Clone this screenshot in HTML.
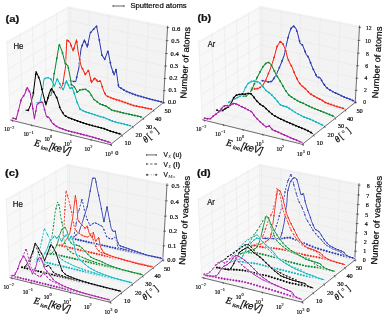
<!DOCTYPE html>
<html><head><meta charset="utf-8"><style>html,body{margin:0;padding:0;background:#fff;}svg{display:block;will-change:transform;} .b3{fill:#000;stroke:#000;stroke-width:0.2px;} .b2{fill:#111;stroke:#111;stroke-width:0.22px;} .t1{fill:#111;stroke:#111;stroke-width:0.12px;} .t0{fill:#222;} .t2{fill:#000;stroke:#000;stroke-width:0.2px;}</style></head>
<body>
<svg width="385" height="317" viewBox="0 0 385 317">
<rect width="385" height="317" fill="#fff"/>
<polygon points="10.31,120.02 68.55,81.33 68.04,6.17 6.68,40.80" fill="#f8f8f8"/>
<polygon points="68.55,81.33 163.38,102.70 167.65,25.79 68.04,6.17" fill="#f3f3f3"/>
<polygon points="10.31,120.02 110.48,144.61 163.38,102.70 68.55,81.33" fill="#f5f5f5"/>
<line x1="12.50" y1="120.56" x2="70.63" y2="81.80" stroke="#e8e8e8" stroke-width="0.6" />
<line x1="70.63" y1="81.80" x2="70.22" y2="6.60" stroke="#e8e8e8" stroke-width="0.6" />
<line x1="31.69" y1="125.27" x2="88.84" y2="85.90" stroke="#e8e8e8" stroke-width="0.6" />
<line x1="88.84" y1="85.90" x2="89.32" y2="10.37" stroke="#e8e8e8" stroke-width="0.6" />
<line x1="51.17" y1="130.05" x2="107.30" y2="90.06" stroke="#e8e8e8" stroke-width="0.6" />
<line x1="107.30" y1="90.06" x2="108.70" y2="14.18" stroke="#e8e8e8" stroke-width="0.6" />
<line x1="70.94" y1="134.90" x2="126.01" y2="94.28" stroke="#e8e8e8" stroke-width="0.6" />
<line x1="126.01" y1="94.28" x2="128.36" y2="18.05" stroke="#e8e8e8" stroke-width="0.6" />
<line x1="91.02" y1="139.83" x2="144.99" y2="98.56" stroke="#e8e8e8" stroke-width="0.6" />
<line x1="144.99" y1="98.56" x2="148.31" y2="21.98" stroke="#e8e8e8" stroke-width="0.6" />
<line x1="10.31" y1="120.02" x2="110.48" y2="144.61" stroke="#e8e8e8" stroke-width="0.6" />
<line x1="10.31" y1="120.02" x2="6.68" y2="40.80" stroke="#e8e8e8" stroke-width="0.6" />
<line x1="22.66" y1="111.81" x2="121.73" y2="135.70" stroke="#e8e8e8" stroke-width="0.6" />
<line x1="22.66" y1="111.81" x2="19.74" y2="33.43" stroke="#e8e8e8" stroke-width="0.6" />
<line x1="34.65" y1="103.85" x2="132.62" y2="127.07" stroke="#e8e8e8" stroke-width="0.6" />
<line x1="34.65" y1="103.85" x2="32.38" y2="26.30" stroke="#e8e8e8" stroke-width="0.6" />
<line x1="46.28" y1="96.12" x2="143.19" y2="118.70" stroke="#e8e8e8" stroke-width="0.6" />
<line x1="46.28" y1="96.12" x2="44.64" y2="19.38" stroke="#e8e8e8" stroke-width="0.6" />
<line x1="57.58" y1="88.62" x2="153.44" y2="110.58" stroke="#e8e8e8" stroke-width="0.6" />
<line x1="57.58" y1="88.62" x2="56.52" y2="12.68" stroke="#e8e8e8" stroke-width="0.6" />
<line x1="68.55" y1="81.33" x2="163.38" y2="102.70" stroke="#e8e8e8" stroke-width="0.6" />
<line x1="68.55" y1="81.33" x2="68.04" y2="6.17" stroke="#e8e8e8" stroke-width="0.6" />
<line x1="10.31" y1="120.02" x2="68.55" y2="81.33" stroke="#e8e8e8" stroke-width="0.6" />
<line x1="68.55" y1="81.33" x2="163.38" y2="102.70" stroke="#e8e8e8" stroke-width="0.6" />
<line x1="9.74" y1="107.67" x2="68.47" y2="69.58" stroke="#e8e8e8" stroke-width="0.6" />
<line x1="68.47" y1="69.58" x2="164.05" y2="90.69" stroke="#e8e8e8" stroke-width="0.6" />
<line x1="9.17" y1="95.12" x2="68.39" y2="57.64" stroke="#e8e8e8" stroke-width="0.6" />
<line x1="68.39" y1="57.64" x2="164.72" y2="78.49" stroke="#e8e8e8" stroke-width="0.6" />
<line x1="8.58" y1="82.35" x2="68.31" y2="45.52" stroke="#e8e8e8" stroke-width="0.6" />
<line x1="68.31" y1="45.52" x2="165.41" y2="66.10" stroke="#e8e8e8" stroke-width="0.6" />
<line x1="7.99" y1="69.37" x2="68.22" y2="33.22" stroke="#e8e8e8" stroke-width="0.6" />
<line x1="68.22" y1="33.22" x2="166.11" y2="53.50" stroke="#e8e8e8" stroke-width="0.6" />
<line x1="7.39" y1="56.17" x2="68.14" y2="20.71" stroke="#e8e8e8" stroke-width="0.6" />
<line x1="68.14" y1="20.71" x2="166.82" y2="40.69" stroke="#e8e8e8" stroke-width="0.6" />
<line x1="6.77" y1="42.75" x2="68.05" y2="8.01" stroke="#e8e8e8" stroke-width="0.6" />
<line x1="68.05" y1="8.01" x2="167.55" y2="27.68" stroke="#e8e8e8" stroke-width="0.6" />
<line x1="10.31" y1="120.02" x2="110.48" y2="144.61" stroke="#333" stroke-width="0.7" />
<line x1="110.48" y1="144.61" x2="163.38" y2="102.70" stroke="#333" stroke-width="0.7" />
<line x1="163.38" y1="102.70" x2="167.65" y2="25.79" stroke="#333" stroke-width="0.7" />
<line x1="12.20" y1="119.76" x2="12.80" y2="121.76" stroke="#333" stroke-width="0.7" />
<line x1="31.39" y1="124.47" x2="31.99" y2="126.47" stroke="#333" stroke-width="0.7" />
<line x1="50.87" y1="129.25" x2="51.47" y2="131.25" stroke="#333" stroke-width="0.7" />
<line x1="70.64" y1="134.10" x2="71.24" y2="136.10" stroke="#333" stroke-width="0.7" />
<line x1="90.72" y1="139.03" x2="91.32" y2="141.03" stroke="#333" stroke-width="0.7" />
<line x1="111.10" y1="144.04" x2="111.70" y2="146.04" stroke="#333" stroke-width="0.7" />
<line x1="110.28" y1="143.61" x2="111.08" y2="145.81" stroke="#333" stroke-width="0.7" />
<line x1="121.53" y1="134.70" x2="122.33" y2="136.90" stroke="#333" stroke-width="0.7" />
<line x1="132.42" y1="126.07" x2="133.22" y2="128.27" stroke="#333" stroke-width="0.7" />
<line x1="142.99" y1="117.70" x2="143.79" y2="119.90" stroke="#333" stroke-width="0.7" />
<line x1="153.24" y1="109.58" x2="154.04" y2="111.78" stroke="#333" stroke-width="0.7" />
<line x1="163.18" y1="101.70" x2="163.98" y2="103.90" stroke="#333" stroke-width="0.7" />
<line x1="162.38" y1="102.80" x2="164.98" y2="102.60" stroke="#333" stroke-width="0.7" />
<line x1="163.05" y1="90.79" x2="165.65" y2="90.59" stroke="#333" stroke-width="0.7" />
<line x1="163.72" y1="78.59" x2="166.32" y2="78.39" stroke="#333" stroke-width="0.7" />
<line x1="164.41" y1="66.20" x2="167.01" y2="66.00" stroke="#333" stroke-width="0.7" />
<line x1="165.11" y1="53.60" x2="167.71" y2="53.40" stroke="#333" stroke-width="0.7" />
<line x1="165.82" y1="40.79" x2="168.42" y2="40.59" stroke="#333" stroke-width="0.7" />
<line x1="166.55" y1="27.78" x2="169.15" y2="27.58" stroke="#333" stroke-width="0.7" />
<text x="4.20" y="131.40" font-family="Liberation Serif" font-size="6.6" class="t2" textLength="5.4" lengthAdjust="spacingAndGlyphs">10</text>
<text x="9.80" y="128.60" font-family="Liberation Serif" font-size="4.4" class="t1">−2</text>
<text x="23.40" y="136.40" font-family="Liberation Serif" font-size="6.6" class="t2" textLength="5.4" lengthAdjust="spacingAndGlyphs">10</text>
<text x="29.00" y="133.60" font-family="Liberation Serif" font-size="4.4" class="t1">−1</text>
<text x="44.40" y="141.10" font-family="Liberation Serif" font-size="6.6" class="t2" textLength="5.4" lengthAdjust="spacingAndGlyphs">10</text>
<text x="50.00" y="138.30" font-family="Liberation Serif" font-size="4.4" class="t1">0</text>
<text x="64.20" y="146.10" font-family="Liberation Serif" font-size="6.6" class="t2" textLength="5.4" lengthAdjust="spacingAndGlyphs">10</text>
<text x="69.80" y="143.30" font-family="Liberation Serif" font-size="4.4" class="t1">1</text>
<text x="84.60" y="151.10" font-family="Liberation Serif" font-size="6.6" class="t2" textLength="5.4" lengthAdjust="spacingAndGlyphs">10</text>
<text x="90.20" y="148.30" font-family="Liberation Serif" font-size="4.4" class="t1">2</text>
<text x="105.20" y="156.40" font-family="Liberation Serif" font-size="6.6" class="t2" textLength="5.4" lengthAdjust="spacingAndGlyphs">10</text>
<text x="110.80" y="153.60" font-family="Liberation Serif" font-size="4.4" class="t1">3</text>
<text x="115.20" y="154.90" font-family="Liberation Serif" font-size="6.8" class="t2" textLength="3.2" lengthAdjust="spacingAndGlyphs">0</text>
<text x="124.60" y="145.30" font-family="Liberation Serif" font-size="6.8" class="t2" textLength="6.4" lengthAdjust="spacingAndGlyphs">10</text>
<text x="135.60" y="137.40" font-family="Liberation Serif" font-size="6.8" class="t2" textLength="6.4" lengthAdjust="spacingAndGlyphs">20</text>
<text x="145.90" y="128.70" font-family="Liberation Serif" font-size="6.8" class="t2" textLength="6.4" lengthAdjust="spacingAndGlyphs">30</text>
<text x="155.00" y="120.80" font-family="Liberation Serif" font-size="6.8" class="t2" textLength="6.4" lengthAdjust="spacingAndGlyphs">40</text>
<text x="164.50" y="112.90" font-family="Liberation Serif" font-size="6.8" class="t2" textLength="6.4" lengthAdjust="spacingAndGlyphs">50</text>
<text x="171.98" y="104.10" text-anchor="middle" font-family="Liberation Serif" font-size="6.8" class="t2" textLength="8.2" lengthAdjust="spacingAndGlyphs">0.0</text>
<text x="172.65" y="92.36" text-anchor="middle" font-family="Liberation Serif" font-size="6.8" class="t2" textLength="8.2" lengthAdjust="spacingAndGlyphs">0.1</text>
<text x="173.32" y="80.43" text-anchor="middle" font-family="Liberation Serif" font-size="6.8" class="t2" textLength="8.2" lengthAdjust="spacingAndGlyphs">0.2</text>
<text x="174.01" y="68.30" text-anchor="middle" font-family="Liberation Serif" font-size="6.8" class="t2" textLength="8.2" lengthAdjust="spacingAndGlyphs">0.3</text>
<text x="174.71" y="55.97" text-anchor="middle" font-family="Liberation Serif" font-size="6.8" class="t2" textLength="8.2" lengthAdjust="spacingAndGlyphs">0.4</text>
<text x="175.42" y="43.43" text-anchor="middle" font-family="Liberation Serif" font-size="6.8" class="t2" textLength="8.2" lengthAdjust="spacingAndGlyphs">0.5</text>
<text x="176.15" y="30.68" text-anchor="middle" font-family="Liberation Serif" font-size="6.8" class="t2" textLength="8.2" lengthAdjust="spacingAndGlyphs">0.6</text>
<g transform="translate(33.80,145.60) rotate(13.8)"><text x="0" y="0" font-family="Liberation Serif" font-style="italic" font-size="9.6" class="b3">E</text><text x="7.4" y="1.6" font-family="Liberation Serif" font-style="italic" font-size="5.6" class="b2">ion</text><text x="15.6" y="0" font-family="Liberation Sans" font-style="italic" font-size="9.8" class="b3" textLength="21.6" lengthAdjust="spacingAndGlyphs">[keV]</text></g>
<g transform="translate(145.70,143.20) rotate(-39)"><text x="0" y="0" font-family="Liberation Serif" font-style="italic" font-size="9" class="t2">θ</text><text x="5.4" y="-0.4" font-family="Liberation Sans" font-size="9" class="t1">[</text><circle cx="11.4" cy="-5.2" r="1.05" fill="none" stroke="#222" stroke-width="0.6"/><text x="15.2" y="-0.4" font-family="Liberation Sans" font-size="9" class="t1">]</text></g>
<g transform="translate(188.20,62.90) rotate(-86.8)"><text x="0" y="0" text-anchor="middle" font-family="Liberation Sans" font-size="8.8" class="b3" textLength="72" lengthAdjust="spacingAndGlyphs">Number of atoms</text></g>
<text x="5.50" y="21.60" font-family="Liberation Sans" font-weight="bold" font-size="9.4" class="b2" textLength="13.8" lengthAdjust="spacingAndGlyphs">(a)</text>
<text x="13.40" y="49.00" font-family="Liberation Sans" font-size="8.4" class="b2" textLength="10.0" lengthAdjust="spacingAndGlyphs">He</text>
<polyline points="69.50,80.50 72.60,81.30 75.80,81.50 77.30,74.30 78.90,68.00 81.00,48.90 84.30,39.70 87.30,47.30 90.20,33.00 93.20,29.70 96.50,26.00 99.30,40.00 101.90,55.10 104.70,59.30 108.00,50.90 111.00,66.00 114.10,75.20 116.10,69.30 118.60,86.70 122.80,89.20 125.30,90.90 129.40,92.60 136.10,95.10 144.50,97.60 152.90,99.80 162.70,102.20" fill="none" stroke="#fff" stroke-opacity="0.55" stroke-width="2.85" stroke-linejoin="round"/>
<polyline points="69.50,80.50 72.60,81.30 75.80,81.50 77.30,74.30 78.90,68.00 81.00,48.90 84.30,39.70 87.30,47.30 90.20,33.00 93.20,29.70 96.50,26.00 99.30,40.00 101.90,55.10 104.70,59.30 108.00,50.90 111.00,66.00 114.10,75.20 116.10,69.30 118.60,86.70 122.80,89.20 125.30,90.90 129.40,92.60 136.10,95.10 144.50,97.60 152.90,99.80 162.70,102.20" fill="none" stroke="#2c3cae" stroke-width="1.05" stroke-linejoin="round"/>
<circle cx="71.25" cy="80.95" r="0.95" fill="#2c3cae"/>
<circle cx="73.97" cy="81.39" r="0.95" fill="#2c3cae"/>
<circle cx="76.69" cy="77.23" r="0.95" fill="#2c3cae"/>
<circle cx="79.43" cy="63.16" r="0.95" fill="#2c3cae"/>
<circle cx="82.24" cy="45.44" r="0.95" fill="#2c3cae"/>
<circle cx="85.07" cy="41.64" r="0.95" fill="#2c3cae"/>
<circle cx="87.88" cy="44.46" r="0.95" fill="#2c3cae"/>
<circle cx="90.79" cy="32.35" r="0.95" fill="#2c3cae"/>
<circle cx="93.68" cy="29.16" r="0.95" fill="#2c3cae"/>
<circle cx="96.59" cy="26.43" r="0.95" fill="#2c3cae"/>
<circle cx="99.30" cy="39.99" r="0.95" fill="#2c3cae"/>
<circle cx="101.95" cy="55.17" r="0.95" fill="#2c3cae"/>
<circle cx="104.73" cy="59.23" r="0.95" fill="#2c3cae"/>
<circle cx="107.72" cy="51.61" r="0.95" fill="#2c3cae"/>
<circle cx="110.37" cy="62.82" r="0.95" fill="#2c3cae"/>
<circle cx="113.03" cy="72.02" r="0.95" fill="#2c3cae"/>
<circle cx="115.93" cy="69.79" r="0.95" fill="#2c3cae"/>
<circle cx="118.40" cy="85.31" r="0.95" fill="#2c3cae"/>
<circle cx="121.16" cy="88.23" r="0.95" fill="#2c3cae"/>
<circle cx="123.96" cy="89.99" r="0.95" fill="#2c3cae"/>
<circle cx="126.77" cy="91.51" r="0.95" fill="#2c3cae"/>
<circle cx="129.59" cy="92.67" r="0.95" fill="#2c3cae"/>
<circle cx="132.41" cy="93.72" r="0.95" fill="#2c3cae"/>
<circle cx="135.25" cy="94.78" r="0.95" fill="#2c3cae"/>
<circle cx="138.09" cy="95.69" r="0.95" fill="#2c3cae"/>
<circle cx="140.94" cy="96.54" r="0.95" fill="#2c3cae"/>
<circle cx="143.79" cy="97.39" r="0.95" fill="#2c3cae"/>
<circle cx="146.66" cy="98.17" r="0.95" fill="#2c3cae"/>
<circle cx="149.53" cy="98.92" r="0.95" fill="#2c3cae"/>
<circle cx="152.40" cy="99.67" r="0.95" fill="#2c3cae"/>
<circle cx="155.29" cy="100.38" r="0.95" fill="#2c3cae"/>
<circle cx="158.18" cy="101.09" r="0.95" fill="#2c3cae"/>
<circle cx="161.08" cy="101.80" r="0.95" fill="#2c3cae"/>
<polyline points="59.10,87.30 61.20,87.80 62.80,84.70 64.30,74.30 65.40,68.00 66.80,39.70 70.10,42.70 73.10,51.10 76.50,39.70 78.10,51.40 80.10,61.50 81.10,66.00 85.30,74.40 88.60,70.20 91.50,82.80 94.80,77.70 97.80,81.90 100.30,80.70 103.70,91.10 106.20,95.80 112.90,98.60 120.00,100.80 133.40,105.40 151.80,109.20" fill="none" stroke="#fff" stroke-opacity="0.55" stroke-width="2.85" stroke-linejoin="round"/>
<polyline points="59.10,87.30 61.20,87.80 62.80,84.70 64.30,74.30 65.40,68.00 66.80,39.70 70.10,42.70 73.10,51.10 76.50,39.70 78.10,51.40 80.10,61.50 81.10,66.00 85.30,74.40 88.60,70.20 91.50,82.80 94.80,77.70 97.80,81.90 100.30,80.70 103.70,91.10 106.20,95.80 112.90,98.60 120.00,100.80 133.40,105.40 151.80,109.20" fill="none" stroke="#f02818" stroke-width="1.05" stroke-linejoin="round"/>
<circle cx="60.30" cy="87.58" r="0.95" fill="#f02818"/>
<circle cx="62.99" cy="83.36" r="0.95" fill="#f02818"/>
<circle cx="65.59" cy="64.24" r="0.95" fill="#f02818"/>
<circle cx="68.23" cy="41.00" r="0.95" fill="#f02818"/>
<circle cx="71.10" cy="45.50" r="0.95" fill="#f02818"/>
<circle cx="73.96" cy="48.23" r="0.95" fill="#f02818"/>
<circle cx="76.80" cy="41.90" r="0.95" fill="#f02818"/>
<circle cx="79.67" cy="59.31" r="0.95" fill="#f02818"/>
<circle cx="82.49" cy="68.79" r="0.95" fill="#f02818"/>
<circle cx="85.31" cy="74.39" r="0.95" fill="#f02818"/>
<circle cx="88.17" cy="70.75" r="0.95" fill="#f02818"/>
<circle cx="90.95" cy="80.41" r="0.95" fill="#f02818"/>
<circle cx="93.81" cy="79.24" r="0.95" fill="#f02818"/>
<circle cx="96.65" cy="80.29" r="0.95" fill="#f02818"/>
<circle cx="99.50" cy="81.08" r="0.95" fill="#f02818"/>
<circle cx="102.28" cy="86.76" r="0.95" fill="#f02818"/>
<circle cx="105.03" cy="93.60" r="0.95" fill="#f02818"/>
<circle cx="107.84" cy="96.48" r="0.95" fill="#f02818"/>
<circle cx="110.68" cy="97.67" r="0.95" fill="#f02818"/>
<circle cx="113.53" cy="98.79" r="0.95" fill="#f02818"/>
<circle cx="116.38" cy="99.68" r="0.95" fill="#f02818"/>
<circle cx="119.24" cy="100.57" r="0.95" fill="#f02818"/>
<circle cx="122.11" cy="101.52" r="0.95" fill="#f02818"/>
<circle cx="124.98" cy="102.51" r="0.95" fill="#f02818"/>
<circle cx="127.85" cy="103.49" r="0.95" fill="#f02818"/>
<circle cx="130.73" cy="104.48" r="0.95" fill="#f02818"/>
<circle cx="133.61" cy="105.44" r="0.95" fill="#f02818"/>
<circle cx="136.52" cy="106.04" r="0.95" fill="#f02818"/>
<circle cx="139.43" cy="106.64" r="0.95" fill="#f02818"/>
<circle cx="142.34" cy="107.25" r="0.95" fill="#f02818"/>
<circle cx="145.27" cy="107.85" r="0.95" fill="#f02818"/>
<circle cx="148.20" cy="108.46" r="0.95" fill="#f02818"/>
<circle cx="151.13" cy="109.06" r="0.95" fill="#f02818"/>
<polyline points="48.10,96.00 50.80,95.60 52.90,86.80 53.90,75.30 55.50,66.50 56.20,61.80 59.20,44.40 62.10,51.40 65.10,63.20 68.00,66.00 69.50,73.70 70.60,79.50 71.30,84.70 73.20,85.70 75.30,88.30 77.30,92.50 79.90,89.90 83.00,89.40 85.30,89.10 89.40,92.00 93.60,99.10 99.50,103.70 106.20,106.20 111.70,110.00 121.70,112.60 141.80,117.10" fill="none" stroke="#fff" stroke-opacity="0.55" stroke-width="2.85" stroke-linejoin="round"/>
<polyline points="48.10,96.00 50.80,95.60 52.90,86.80 53.90,75.30 55.50,66.50 56.20,61.80 59.20,44.40 62.10,51.40 65.10,63.20 68.00,66.00 69.50,73.70 70.60,79.50 71.30,84.70 73.20,85.70 75.30,88.30 77.30,92.50 79.90,89.90 83.00,89.40 85.30,89.10 89.40,92.00 93.60,99.10 99.50,103.70 106.20,106.20 111.70,110.00 121.70,112.60 141.80,117.10" fill="none" stroke="#118833" stroke-width="1.05" stroke-linejoin="round"/>
<circle cx="49.03" cy="95.86" r="0.95" fill="#118833"/>
<circle cx="51.72" cy="91.73" r="0.95" fill="#118833"/>
<circle cx="54.21" cy="73.59" r="0.95" fill="#118833"/>
<circle cx="56.81" cy="58.24" r="0.95" fill="#118833"/>
<circle cx="59.51" cy="45.15" r="0.95" fill="#118833"/>
<circle cx="62.48" cy="52.90" r="0.95" fill="#118833"/>
<circle cx="65.46" cy="63.54" r="0.95" fill="#118833"/>
<circle cx="68.36" cy="67.85" r="0.95" fill="#118833"/>
<circle cx="71.32" cy="84.71" r="0.95" fill="#118833"/>
<circle cx="74.18" cy="86.91" r="0.95" fill="#118833"/>
<circle cx="77.04" cy="91.95" r="0.95" fill="#118833"/>
<circle cx="79.89" cy="89.91" r="0.95" fill="#118833"/>
<circle cx="82.76" cy="89.44" r="0.95" fill="#118833"/>
<circle cx="85.64" cy="89.34" r="0.95" fill="#118833"/>
<circle cx="88.51" cy="91.37" r="0.95" fill="#118833"/>
<circle cx="91.37" cy="95.33" r="0.95" fill="#118833"/>
<circle cx="94.22" cy="99.58" r="0.95" fill="#118833"/>
<circle cx="97.08" cy="101.82" r="0.95" fill="#118833"/>
<circle cx="99.95" cy="103.87" r="0.95" fill="#118833"/>
<circle cx="102.84" cy="104.95" r="0.95" fill="#118833"/>
<circle cx="105.73" cy="106.02" r="0.95" fill="#118833"/>
<circle cx="108.61" cy="107.86" r="0.95" fill="#118833"/>
<circle cx="111.48" cy="109.85" r="0.95" fill="#118833"/>
<circle cx="114.39" cy="110.70" r="0.95" fill="#118833"/>
<circle cx="117.30" cy="111.46" r="0.95" fill="#118833"/>
<circle cx="120.22" cy="112.22" r="0.95" fill="#118833"/>
<circle cx="123.15" cy="112.93" r="0.95" fill="#118833"/>
<circle cx="126.09" cy="113.58" r="0.95" fill="#118833"/>
<circle cx="129.03" cy="114.24" r="0.95" fill="#118833"/>
<circle cx="131.98" cy="114.90" r="0.95" fill="#118833"/>
<circle cx="134.93" cy="115.56" r="0.95" fill="#118833"/>
<circle cx="137.90" cy="116.23" r="0.95" fill="#118833"/>
<circle cx="140.86" cy="116.89" r="0.95" fill="#118833"/>
<polyline points="36.90,103.00 40.10,101.80 42.30,90.90 44.00,78.90 45.60,78.20 48.20,77.60 50.80,78.90 52.30,81.50 54.40,86.20 57.30,78.40 59.60,83.60 61.70,87.30 63.30,89.90 66.40,80.50 68.50,85.20 69.80,88.80 72.10,87.30 74.20,93.00 75.80,98.20 76.80,101.50 78.50,105.50 80.10,109.20 85.20,111.70 93.50,114.20 100.00,116.50 104.00,117.60 113.40,121.40 130.90,125.80" fill="none" stroke="#fff" stroke-opacity="0.55" stroke-width="2.85" stroke-linejoin="round"/>
<polyline points="36.90,103.00 40.10,101.80 42.30,90.90 44.00,78.90 45.60,78.20 48.20,77.60 50.80,78.90 52.30,81.50 54.40,86.20 57.30,78.40 59.60,83.60 61.70,87.30 63.30,89.90 66.40,80.50 68.50,85.20 69.80,88.80 72.10,87.30 74.20,93.00 75.80,98.20 76.80,101.50 78.50,105.50 80.10,109.20 85.20,111.70 93.50,114.20 100.00,116.50 104.00,117.60 113.40,121.40 130.90,125.80" fill="none" stroke="#10b4be" stroke-width="1.05" stroke-linejoin="round"/>
<circle cx="37.40" cy="102.81" r="0.95" fill="#10b4be"/>
<circle cx="40.16" cy="101.52" r="0.95" fill="#10b4be"/>
<circle cx="42.65" cy="88.46" r="0.95" fill="#10b4be"/>
<circle cx="45.26" cy="78.35" r="0.95" fill="#10b4be"/>
<circle cx="48.10" cy="77.62" r="0.95" fill="#10b4be"/>
<circle cx="51.00" cy="79.25" r="0.95" fill="#10b4be"/>
<circle cx="53.97" cy="85.25" r="0.95" fill="#10b4be"/>
<circle cx="56.77" cy="79.83" r="0.95" fill="#10b4be"/>
<circle cx="59.71" cy="83.79" r="0.95" fill="#10b4be"/>
<circle cx="62.66" cy="88.86" r="0.95" fill="#10b4be"/>
<circle cx="65.50" cy="83.23" r="0.95" fill="#10b4be"/>
<circle cx="68.42" cy="85.03" r="0.95" fill="#10b4be"/>
<circle cx="71.36" cy="87.79" r="0.95" fill="#10b4be"/>
<circle cx="74.29" cy="93.31" r="0.95" fill="#10b4be"/>
<circle cx="77.23" cy="102.50" r="0.95" fill="#10b4be"/>
<circle cx="80.13" cy="109.22" r="0.95" fill="#10b4be"/>
<circle cx="83.04" cy="110.64" r="0.95" fill="#10b4be"/>
<circle cx="85.94" cy="111.92" r="0.95" fill="#10b4be"/>
<circle cx="88.86" cy="112.80" r="0.95" fill="#10b4be"/>
<circle cx="91.78" cy="113.68" r="0.95" fill="#10b4be"/>
<circle cx="94.70" cy="114.63" r="0.95" fill="#10b4be"/>
<circle cx="97.63" cy="115.66" r="0.95" fill="#10b4be"/>
<circle cx="100.57" cy="116.66" r="0.95" fill="#10b4be"/>
<circle cx="103.51" cy="117.47" r="0.95" fill="#10b4be"/>
<circle cx="106.45" cy="118.59" r="0.95" fill="#10b4be"/>
<circle cx="109.40" cy="119.78" r="0.95" fill="#10b4be"/>
<circle cx="112.35" cy="120.98" r="0.95" fill="#10b4be"/>
<circle cx="115.32" cy="121.88" r="0.95" fill="#10b4be"/>
<circle cx="118.29" cy="122.63" r="0.95" fill="#10b4be"/>
<circle cx="121.27" cy="123.38" r="0.95" fill="#10b4be"/>
<circle cx="124.26" cy="124.13" r="0.95" fill="#10b4be"/>
<circle cx="127.25" cy="124.88" r="0.95" fill="#10b4be"/>
<circle cx="130.25" cy="125.64" r="0.95" fill="#10b4be"/>
<polyline points="25.60,110.00 28.10,110.60 30.60,104.90 33.10,94.80 36.10,71.40 39.80,80.10 42.30,90.90 45.90,105.00 49.20,93.50 51.50,88.30 53.90,92.50 57.00,98.20 60.10,108.40 64.20,115.10 68.40,117.60 75.10,120.10 83.50,123.10 93.50,125.90 104.00,128.60 110.00,130.90 121.20,134.20" fill="none" stroke="#fff" stroke-opacity="0.55" stroke-width="2.85" stroke-linejoin="round"/>
<polyline points="25.60,110.00 28.10,110.60 30.60,104.90 33.10,94.80 36.10,71.40 39.80,80.10 42.30,90.90 45.90,105.00 49.20,93.50 51.50,88.30 53.90,92.50 57.00,98.20 60.10,108.40 64.20,115.10 68.40,117.60 75.10,120.10 83.50,123.10 93.50,125.90 104.00,128.60 110.00,130.90 121.20,134.20" fill="none" stroke="#000000" stroke-width="1.05" stroke-linejoin="round"/>
<circle cx="28.23" cy="110.31" r="0.95" fill="#000000"/>
<circle cx="30.84" cy="103.91" r="0.95" fill="#000000"/>
<circle cx="33.36" cy="92.81" r="0.95" fill="#000000"/>
<circle cx="35.71" cy="74.41" r="0.95" fill="#000000"/>
<circle cx="38.71" cy="77.54" r="0.95" fill="#000000"/>
<circle cx="41.91" cy="89.23" r="0.95" fill="#000000"/>
<circle cx="45.10" cy="101.87" r="0.95" fill="#000000"/>
<circle cx="47.91" cy="97.98" r="0.95" fill="#000000"/>
<circle cx="50.68" cy="90.16" r="0.95" fill="#000000"/>
<circle cx="53.64" cy="92.04" r="0.95" fill="#000000"/>
<circle cx="56.66" cy="97.57" r="0.95" fill="#000000"/>
<circle cx="59.72" cy="107.13" r="0.95" fill="#000000"/>
<circle cx="62.70" cy="112.65" r="0.95" fill="#000000"/>
<circle cx="65.66" cy="115.97" r="0.95" fill="#000000"/>
<circle cx="68.60" cy="117.67" r="0.95" fill="#000000"/>
<circle cx="71.54" cy="118.77" r="0.95" fill="#000000"/>
<circle cx="74.48" cy="119.87" r="0.95" fill="#000000"/>
<circle cx="77.43" cy="120.93" r="0.95" fill="#000000"/>
<circle cx="80.38" cy="121.99" r="0.95" fill="#000000"/>
<circle cx="83.34" cy="123.04" r="0.95" fill="#000000"/>
<circle cx="86.31" cy="123.89" r="0.95" fill="#000000"/>
<circle cx="89.28" cy="124.72" r="0.95" fill="#000000"/>
<circle cx="92.26" cy="125.55" r="0.95" fill="#000000"/>
<circle cx="95.24" cy="126.35" r="0.95" fill="#000000"/>
<circle cx="98.24" cy="127.12" r="0.95" fill="#000000"/>
<circle cx="101.23" cy="127.89" r="0.95" fill="#000000"/>
<circle cx="104.24" cy="128.69" r="0.95" fill="#000000"/>
<circle cx="107.24" cy="129.84" r="0.95" fill="#000000"/>
<circle cx="110.25" cy="130.97" r="0.95" fill="#000000"/>
<circle cx="113.27" cy="131.86" r="0.95" fill="#000000"/>
<circle cx="116.30" cy="132.76" r="0.95" fill="#000000"/>
<circle cx="119.33" cy="133.65" r="0.95" fill="#000000"/>
<polyline points="12.90,118.20 16.10,119.10 18.60,110.00 21.20,99.30 24.70,94.20 27.20,87.30 30.20,93.00 31.90,102.40 34.40,119.00 36.90,104.90 39.50,102.40 42.60,102.20 44.50,109.40 46.40,116.30 49.40,118.00 51.90,122.60 55.90,126.00 60.10,128.10 66.80,130.50 76.80,133.10 88.50,136.00 100.00,139.30 104.00,140.50 110.90,142.70" fill="none" stroke="#fff" stroke-opacity="0.55" stroke-width="2.85" stroke-linejoin="round"/>
<polyline points="12.90,118.20 16.10,119.10 18.60,110.00 21.20,99.30 24.70,94.20 27.20,87.30 30.20,93.00 31.90,102.40 34.40,119.00 36.90,104.90 39.50,102.40 42.60,102.20 44.50,109.40 46.40,116.30 49.40,118.00 51.90,122.60 55.90,126.00 60.10,128.10 66.80,130.50 76.80,133.10 88.50,136.00 100.00,139.30 104.00,140.50 110.90,142.70" fill="none" stroke="#a820a8" stroke-width="1.05" stroke-linejoin="round"/>
<circle cx="13.05" cy="118.24" r="0.95" fill="#a820a8"/>
<circle cx="15.93" cy="119.05" r="0.95" fill="#a820a8"/>
<circle cx="18.43" cy="110.61" r="0.95" fill="#a820a8"/>
<circle cx="20.92" cy="100.47" r="0.95" fill="#a820a8"/>
<circle cx="23.64" cy="95.74" r="0.95" fill="#a820a8"/>
<circle cx="26.35" cy="89.65" r="0.95" fill="#a820a8"/>
<circle cx="29.34" cy="91.37" r="0.95" fill="#a820a8"/>
<circle cx="32.81" cy="108.42" r="0.95" fill="#a820a8"/>
<circle cx="35.80" cy="111.08" r="0.95" fill="#a820a8"/>
<circle cx="38.52" cy="103.34" r="0.95" fill="#a820a8"/>
<circle cx="41.44" cy="102.27" r="0.95" fill="#a820a8"/>
<circle cx="44.57" cy="109.66" r="0.95" fill="#a820a8"/>
<circle cx="47.68" cy="117.03" r="0.95" fill="#a820a8"/>
<circle cx="50.69" cy="120.38" r="0.95" fill="#a820a8"/>
<circle cx="53.71" cy="124.14" r="0.95" fill="#a820a8"/>
<circle cx="56.70" cy="126.40" r="0.95" fill="#a820a8"/>
<circle cx="59.68" cy="127.89" r="0.95" fill="#a820a8"/>
<circle cx="62.66" cy="129.02" r="0.95" fill="#a820a8"/>
<circle cx="65.64" cy="130.09" r="0.95" fill="#a820a8"/>
<circle cx="68.63" cy="130.98" r="0.95" fill="#a820a8"/>
<circle cx="71.63" cy="131.75" r="0.95" fill="#a820a8"/>
<circle cx="74.63" cy="132.53" r="0.95" fill="#a820a8"/>
<circle cx="77.63" cy="133.31" r="0.95" fill="#a820a8"/>
<circle cx="80.65" cy="134.05" r="0.95" fill="#a820a8"/>
<circle cx="83.67" cy="134.80" r="0.95" fill="#a820a8"/>
<circle cx="86.69" cy="135.55" r="0.95" fill="#a820a8"/>
<circle cx="89.73" cy="136.35" r="0.95" fill="#a820a8"/>
<circle cx="92.77" cy="137.22" r="0.95" fill="#a820a8"/>
<circle cx="95.81" cy="138.10" r="0.95" fill="#a820a8"/>
<circle cx="98.87" cy="138.97" r="0.95" fill="#a820a8"/>
<circle cx="101.93" cy="139.88" r="0.95" fill="#a820a8"/>
<circle cx="104.99" cy="140.82" r="0.95" fill="#a820a8"/>
<circle cx="108.06" cy="141.79" r="0.95" fill="#a820a8"/>
<polygon points="202.21,119.72 260.45,81.03 259.94,5.87 198.58,40.50" fill="#f8f8f8"/>
<polygon points="260.45,81.03 355.28,102.40 359.55,25.49 259.94,5.87" fill="#f3f3f3"/>
<polygon points="202.21,119.72 302.38,144.31 355.28,102.40 260.45,81.03" fill="#f5f5f5"/>
<line x1="204.40" y1="120.26" x2="262.53" y2="81.50" stroke="#e8e8e8" stroke-width="0.6" />
<line x1="262.53" y1="81.50" x2="262.12" y2="6.30" stroke="#e8e8e8" stroke-width="0.6" />
<line x1="223.59" y1="124.97" x2="280.74" y2="85.60" stroke="#e8e8e8" stroke-width="0.6" />
<line x1="280.74" y1="85.60" x2="281.22" y2="10.07" stroke="#e8e8e8" stroke-width="0.6" />
<line x1="243.07" y1="129.75" x2="299.20" y2="89.76" stroke="#e8e8e8" stroke-width="0.6" />
<line x1="299.20" y1="89.76" x2="300.60" y2="13.88" stroke="#e8e8e8" stroke-width="0.6" />
<line x1="262.84" y1="134.60" x2="317.91" y2="93.98" stroke="#e8e8e8" stroke-width="0.6" />
<line x1="317.91" y1="93.98" x2="320.26" y2="17.75" stroke="#e8e8e8" stroke-width="0.6" />
<line x1="282.92" y1="139.53" x2="336.89" y2="98.26" stroke="#e8e8e8" stroke-width="0.6" />
<line x1="336.89" y1="98.26" x2="340.21" y2="21.68" stroke="#e8e8e8" stroke-width="0.6" />
<line x1="202.21" y1="119.72" x2="302.38" y2="144.31" stroke="#e8e8e8" stroke-width="0.6" />
<line x1="202.21" y1="119.72" x2="198.58" y2="40.50" stroke="#e8e8e8" stroke-width="0.6" />
<line x1="214.56" y1="111.51" x2="313.63" y2="135.40" stroke="#e8e8e8" stroke-width="0.6" />
<line x1="214.56" y1="111.51" x2="211.64" y2="33.13" stroke="#e8e8e8" stroke-width="0.6" />
<line x1="226.55" y1="103.55" x2="324.52" y2="126.77" stroke="#e8e8e8" stroke-width="0.6" />
<line x1="226.55" y1="103.55" x2="224.28" y2="26.00" stroke="#e8e8e8" stroke-width="0.6" />
<line x1="238.18" y1="95.82" x2="335.09" y2="118.40" stroke="#e8e8e8" stroke-width="0.6" />
<line x1="238.18" y1="95.82" x2="236.54" y2="19.08" stroke="#e8e8e8" stroke-width="0.6" />
<line x1="249.48" y1="88.32" x2="345.34" y2="110.28" stroke="#e8e8e8" stroke-width="0.6" />
<line x1="249.48" y1="88.32" x2="248.42" y2="12.38" stroke="#e8e8e8" stroke-width="0.6" />
<line x1="260.45" y1="81.03" x2="355.28" y2="102.40" stroke="#e8e8e8" stroke-width="0.6" />
<line x1="260.45" y1="81.03" x2="259.94" y2="5.87" stroke="#e8e8e8" stroke-width="0.6" />
<line x1="202.21" y1="119.72" x2="260.45" y2="81.03" stroke="#e8e8e8" stroke-width="0.6" />
<line x1="260.45" y1="81.03" x2="355.28" y2="102.40" stroke="#e8e8e8" stroke-width="0.6" />
<line x1="201.64" y1="107.37" x2="260.37" y2="69.28" stroke="#e8e8e8" stroke-width="0.6" />
<line x1="260.37" y1="69.28" x2="355.95" y2="90.39" stroke="#e8e8e8" stroke-width="0.6" />
<line x1="201.07" y1="94.82" x2="260.29" y2="57.34" stroke="#e8e8e8" stroke-width="0.6" />
<line x1="260.29" y1="57.34" x2="356.62" y2="78.19" stroke="#e8e8e8" stroke-width="0.6" />
<line x1="200.48" y1="82.05" x2="260.21" y2="45.22" stroke="#e8e8e8" stroke-width="0.6" />
<line x1="260.21" y1="45.22" x2="357.31" y2="65.80" stroke="#e8e8e8" stroke-width="0.6" />
<line x1="199.89" y1="69.07" x2="260.12" y2="32.92" stroke="#e8e8e8" stroke-width="0.6" />
<line x1="260.12" y1="32.92" x2="358.01" y2="53.20" stroke="#e8e8e8" stroke-width="0.6" />
<line x1="199.29" y1="55.87" x2="260.04" y2="20.41" stroke="#e8e8e8" stroke-width="0.6" />
<line x1="260.04" y1="20.41" x2="358.72" y2="40.39" stroke="#e8e8e8" stroke-width="0.6" />
<line x1="198.67" y1="42.45" x2="259.95" y2="7.71" stroke="#e8e8e8" stroke-width="0.6" />
<line x1="259.95" y1="7.71" x2="359.45" y2="27.38" stroke="#e8e8e8" stroke-width="0.6" />
<line x1="202.21" y1="119.72" x2="302.38" y2="144.31" stroke="#333" stroke-width="0.7" />
<line x1="302.38" y1="144.31" x2="355.28" y2="102.40" stroke="#333" stroke-width="0.7" />
<line x1="355.28" y1="102.40" x2="359.55" y2="25.49" stroke="#333" stroke-width="0.7" />
<line x1="204.10" y1="119.46" x2="204.70" y2="121.46" stroke="#333" stroke-width="0.7" />
<line x1="223.29" y1="124.17" x2="223.89" y2="126.17" stroke="#333" stroke-width="0.7" />
<line x1="242.77" y1="128.95" x2="243.37" y2="130.95" stroke="#333" stroke-width="0.7" />
<line x1="262.54" y1="133.80" x2="263.14" y2="135.80" stroke="#333" stroke-width="0.7" />
<line x1="282.62" y1="138.73" x2="283.22" y2="140.73" stroke="#333" stroke-width="0.7" />
<line x1="303.00" y1="143.74" x2="303.60" y2="145.74" stroke="#333" stroke-width="0.7" />
<line x1="302.18" y1="143.31" x2="302.98" y2="145.51" stroke="#333" stroke-width="0.7" />
<line x1="313.43" y1="134.40" x2="314.23" y2="136.60" stroke="#333" stroke-width="0.7" />
<line x1="324.32" y1="125.77" x2="325.12" y2="127.97" stroke="#333" stroke-width="0.7" />
<line x1="334.89" y1="117.40" x2="335.69" y2="119.60" stroke="#333" stroke-width="0.7" />
<line x1="345.14" y1="109.28" x2="345.94" y2="111.48" stroke="#333" stroke-width="0.7" />
<line x1="355.08" y1="101.40" x2="355.88" y2="103.60" stroke="#333" stroke-width="0.7" />
<line x1="354.28" y1="102.50" x2="356.88" y2="102.30" stroke="#333" stroke-width="0.7" />
<line x1="354.95" y1="90.49" x2="357.55" y2="90.29" stroke="#333" stroke-width="0.7" />
<line x1="355.62" y1="78.29" x2="358.22" y2="78.09" stroke="#333" stroke-width="0.7" />
<line x1="356.31" y1="65.90" x2="358.91" y2="65.70" stroke="#333" stroke-width="0.7" />
<line x1="357.01" y1="53.30" x2="359.61" y2="53.10" stroke="#333" stroke-width="0.7" />
<line x1="357.72" y1="40.49" x2="360.32" y2="40.29" stroke="#333" stroke-width="0.7" />
<line x1="358.45" y1="27.48" x2="361.05" y2="27.28" stroke="#333" stroke-width="0.7" />
<text x="196.10" y="131.10" font-family="Liberation Serif" font-size="6.6" class="t2" textLength="5.4" lengthAdjust="spacingAndGlyphs">10</text>
<text x="201.70" y="128.30" font-family="Liberation Serif" font-size="4.4" class="t1">−2</text>
<text x="215.30" y="136.10" font-family="Liberation Serif" font-size="6.6" class="t2" textLength="5.4" lengthAdjust="spacingAndGlyphs">10</text>
<text x="220.90" y="133.30" font-family="Liberation Serif" font-size="4.4" class="t1">−1</text>
<text x="236.30" y="140.80" font-family="Liberation Serif" font-size="6.6" class="t2" textLength="5.4" lengthAdjust="spacingAndGlyphs">10</text>
<text x="241.90" y="138.00" font-family="Liberation Serif" font-size="4.4" class="t1">0</text>
<text x="256.10" y="145.80" font-family="Liberation Serif" font-size="6.6" class="t2" textLength="5.4" lengthAdjust="spacingAndGlyphs">10</text>
<text x="261.70" y="143.00" font-family="Liberation Serif" font-size="4.4" class="t1">1</text>
<text x="276.50" y="150.80" font-family="Liberation Serif" font-size="6.6" class="t2" textLength="5.4" lengthAdjust="spacingAndGlyphs">10</text>
<text x="282.10" y="148.00" font-family="Liberation Serif" font-size="4.4" class="t1">2</text>
<text x="297.10" y="156.10" font-family="Liberation Serif" font-size="6.6" class="t2" textLength="5.4" lengthAdjust="spacingAndGlyphs">10</text>
<text x="302.70" y="153.30" font-family="Liberation Serif" font-size="4.4" class="t1">3</text>
<text x="307.10" y="154.60" font-family="Liberation Serif" font-size="6.8" class="t2" textLength="3.2" lengthAdjust="spacingAndGlyphs">0</text>
<text x="316.50" y="145.00" font-family="Liberation Serif" font-size="6.8" class="t2" textLength="6.4" lengthAdjust="spacingAndGlyphs">10</text>
<text x="327.50" y="137.10" font-family="Liberation Serif" font-size="6.8" class="t2" textLength="6.4" lengthAdjust="spacingAndGlyphs">20</text>
<text x="337.80" y="128.40" font-family="Liberation Serif" font-size="6.8" class="t2" textLength="6.4" lengthAdjust="spacingAndGlyphs">30</text>
<text x="346.90" y="120.50" font-family="Liberation Serif" font-size="6.8" class="t2" textLength="6.4" lengthAdjust="spacingAndGlyphs">40</text>
<text x="356.40" y="112.60" font-family="Liberation Serif" font-size="6.8" class="t2" textLength="6.4" lengthAdjust="spacingAndGlyphs">50</text>
<text x="364.68" y="103.80" text-anchor="middle" font-family="Liberation Serif" font-size="7.0" class="t2" textLength="2.8" lengthAdjust="spacingAndGlyphs">0</text>
<text x="365.35" y="92.06" text-anchor="middle" font-family="Liberation Serif" font-size="7.0" class="t2" textLength="2.8" lengthAdjust="spacingAndGlyphs">2</text>
<text x="366.02" y="80.13" text-anchor="middle" font-family="Liberation Serif" font-size="7.0" class="t2" textLength="2.8" lengthAdjust="spacingAndGlyphs">4</text>
<text x="366.71" y="68.00" text-anchor="middle" font-family="Liberation Serif" font-size="7.0" class="t2" textLength="2.8" lengthAdjust="spacingAndGlyphs">6</text>
<text x="367.41" y="55.67" text-anchor="middle" font-family="Liberation Serif" font-size="7.0" class="t2" textLength="2.8" lengthAdjust="spacingAndGlyphs">8</text>
<text x="368.12" y="43.13" text-anchor="middle" font-family="Liberation Serif" font-size="7.0" class="t2" textLength="5.6" lengthAdjust="spacingAndGlyphs">10</text>
<text x="368.85" y="30.38" text-anchor="middle" font-family="Liberation Serif" font-size="7.0" class="t2" textLength="5.6" lengthAdjust="spacingAndGlyphs">12</text>
<g transform="translate(225.70,145.30) rotate(13.8)"><text x="0" y="0" font-family="Liberation Serif" font-style="italic" font-size="9.6" class="b3">E</text><text x="7.4" y="1.6" font-family="Liberation Serif" font-style="italic" font-size="5.6" class="b2">ion</text><text x="15.6" y="0" font-family="Liberation Sans" font-style="italic" font-size="9.8" class="b3" textLength="21.6" lengthAdjust="spacingAndGlyphs">[keV]</text></g>
<g transform="translate(337.60,142.90) rotate(-39)"><text x="0" y="0" font-family="Liberation Serif" font-style="italic" font-size="9" class="t2">θ</text><text x="5.4" y="-0.4" font-family="Liberation Sans" font-size="9" class="t1">[</text><circle cx="11.4" cy="-5.2" r="1.05" fill="none" stroke="#222" stroke-width="0.6"/><text x="15.2" y="-0.4" font-family="Liberation Sans" font-size="9" class="t1">]</text></g>
<g transform="translate(380.10,62.60) rotate(-86.8)"><text x="0" y="0" text-anchor="middle" font-family="Liberation Sans" font-size="8.8" class="b3" textLength="72" lengthAdjust="spacingAndGlyphs">Number of atoms</text></g>
<text x="197.40" y="21.30" font-family="Liberation Sans" font-weight="bold" font-size="9.4" class="b2" textLength="13.8" lengthAdjust="spacingAndGlyphs">(b)</text>
<text x="207.80" y="46.70" font-family="Liberation Sans" font-size="8.4" class="b2" textLength="7.5" lengthAdjust="spacingAndGlyphs">Ar</text>
<polyline points="261.40,80.60 265.30,81.20 268.60,82.00 272.00,81.20 275.30,76.10 278.60,69.40 281.70,62.00 284.20,55.20 285.90,46.80 287.60,39.30 289.20,33.40 290.90,28.70 293.40,25.90 295.90,28.40 297.60,33.40 299.30,40.10 300.10,43.40 302.60,45.10 304.30,49.50 306.10,54.20 308.60,57.50 311.10,64.20 313.60,70.10 316.90,76.80 320.30,78.10 322.80,82.60 326.10,87.10 329.50,89.80 334.50,92.60 339.50,94.80 344.50,97.20 350.00,99.30 354.50,101.30" fill="none" stroke="#fff" stroke-opacity="0.55" stroke-width="2.85" stroke-linejoin="round"/>
<polyline points="261.40,80.60 265.30,81.20 268.60,82.00 272.00,81.20 275.30,76.10 278.60,69.40 281.70,62.00 284.20,55.20 285.90,46.80 287.60,39.30 289.20,33.40 290.90,28.70 293.40,25.90 295.90,28.40 297.60,33.40 299.30,40.10 300.10,43.40 302.60,45.10 304.30,49.50 306.10,54.20 308.60,57.50 311.10,64.20 313.60,70.10 316.90,76.80 320.30,78.10 322.80,82.60 326.10,87.10 329.50,89.80 334.50,92.60 339.50,94.80 344.50,97.20 350.00,99.30 354.50,101.30" fill="none" stroke="#2c3cae" stroke-width="1.05" stroke-linejoin="round"/>
<circle cx="262.85" cy="80.82" r="0.95" fill="#2c3cae"/>
<circle cx="265.57" cy="81.27" r="0.95" fill="#2c3cae"/>
<circle cx="268.30" cy="81.93" r="0.95" fill="#2c3cae"/>
<circle cx="271.03" cy="81.43" r="0.95" fill="#2c3cae"/>
<circle cx="273.77" cy="78.46" r="0.95" fill="#2c3cae"/>
<circle cx="276.54" cy="73.58" r="0.95" fill="#2c3cae"/>
<circle cx="279.35" cy="67.62" r="0.95" fill="#2c3cae"/>
<circle cx="282.18" cy="60.68" r="0.95" fill="#2c3cae"/>
<circle cx="285.08" cy="50.84" r="0.95" fill="#2c3cae"/>
<circle cx="288.06" cy="37.60" r="0.95" fill="#2c3cae"/>
<circle cx="291.04" cy="28.54" r="0.95" fill="#2c3cae"/>
<circle cx="293.97" cy="26.47" r="0.95" fill="#2c3cae"/>
<circle cx="296.79" cy="31.03" r="0.95" fill="#2c3cae"/>
<circle cx="299.51" cy="40.98" r="0.95" fill="#2c3cae"/>
<circle cx="302.33" cy="44.91" r="0.95" fill="#2c3cae"/>
<circle cx="305.08" cy="51.53" r="0.95" fill="#2c3cae"/>
<circle cx="307.85" cy="56.51" r="0.95" fill="#2c3cae"/>
<circle cx="310.58" cy="62.80" r="0.95" fill="#2c3cae"/>
<circle cx="313.28" cy="69.35" r="0.95" fill="#2c3cae"/>
<circle cx="316.00" cy="74.98" r="0.95" fill="#2c3cae"/>
<circle cx="318.80" cy="77.53" r="0.95" fill="#2c3cae"/>
<circle cx="321.59" cy="80.42" r="0.95" fill="#2c3cae"/>
<circle cx="324.33" cy="84.69" r="0.95" fill="#2c3cae"/>
<circle cx="327.10" cy="87.89" r="0.95" fill="#2c3cae"/>
<circle cx="329.91" cy="90.03" r="0.95" fill="#2c3cae"/>
<circle cx="332.74" cy="91.61" r="0.95" fill="#2c3cae"/>
<circle cx="335.58" cy="93.07" r="0.95" fill="#2c3cae"/>
<circle cx="338.43" cy="94.33" r="0.95" fill="#2c3cae"/>
<circle cx="341.28" cy="95.65" r="0.95" fill="#2c3cae"/>
<circle cx="344.13" cy="97.02" r="0.95" fill="#2c3cae"/>
<circle cx="347.00" cy="98.15" r="0.95" fill="#2c3cae"/>
<circle cx="349.87" cy="99.25" r="0.95" fill="#2c3cae"/>
<circle cx="352.74" cy="100.52" r="0.95" fill="#2c3cae"/>
<polyline points="251.00,87.90 253.60,88.70 256.20,88.90 259.30,87.90 262.50,85.80 265.60,80.60 269.40,71.10 272.00,64.40 274.50,56.10 277.00,46.50 280.40,41.20 283.20,44.30 285.50,50.10 287.60,58.00 289.50,62.50 291.90,66.70 295.20,75.10 298.50,81.80 301.00,85.10 305.20,88.50 310.20,93.80 316.10,97.30 322.00,100.20 325.10,102.50 335.10,105.90 344.30,108.70" fill="none" stroke="#fff" stroke-opacity="0.55" stroke-width="2.85" stroke-linejoin="round"/>
<polyline points="251.00,87.90 253.60,88.70 256.20,88.90 259.30,87.90 262.50,85.80 265.60,80.60 269.40,71.10 272.00,64.40 274.50,56.10 277.00,46.50 280.40,41.20 283.20,44.30 285.50,50.10 287.60,58.00 289.50,62.50 291.90,66.70 295.20,75.10 298.50,81.80 301.00,85.10 305.20,88.50 310.20,93.80 316.10,97.30 322.00,100.20 325.10,102.50 335.10,105.90 344.30,108.70" fill="none" stroke="#f02818" stroke-width="1.05" stroke-linejoin="round"/>
<circle cx="251.90" cy="88.18" r="0.95" fill="#f02818"/>
<circle cx="254.65" cy="88.78" r="0.95" fill="#f02818"/>
<circle cx="257.40" cy="88.51" r="0.95" fill="#f02818"/>
<circle cx="260.14" cy="87.35" r="0.95" fill="#f02818"/>
<circle cx="262.90" cy="85.13" r="0.95" fill="#f02818"/>
<circle cx="265.66" cy="80.45" r="0.95" fill="#f02818"/>
<circle cx="268.44" cy="73.49" r="0.95" fill="#f02818"/>
<circle cx="271.26" cy="66.30" r="0.95" fill="#f02818"/>
<circle cx="274.12" cy="57.36" r="0.95" fill="#f02818"/>
<circle cx="277.03" cy="46.46" r="0.95" fill="#f02818"/>
<circle cx="279.94" cy="41.91" r="0.95" fill="#f02818"/>
<circle cx="282.83" cy="43.89" r="0.95" fill="#f02818"/>
<circle cx="285.68" cy="50.77" r="0.95" fill="#f02818"/>
<circle cx="288.48" cy="60.08" r="0.95" fill="#f02818"/>
<circle cx="291.30" cy="65.66" r="0.95" fill="#f02818"/>
<circle cx="294.10" cy="72.30" r="0.95" fill="#f02818"/>
<circle cx="296.89" cy="78.53" r="0.95" fill="#f02818"/>
<circle cx="299.69" cy="83.37" r="0.95" fill="#f02818"/>
<circle cx="302.52" cy="86.33" r="0.95" fill="#f02818"/>
<circle cx="305.36" cy="88.66" r="0.95" fill="#f02818"/>
<circle cx="308.18" cy="91.66" r="0.95" fill="#f02818"/>
<circle cx="311.01" cy="94.28" r="0.95" fill="#f02818"/>
<circle cx="313.87" cy="95.97" r="0.95" fill="#f02818"/>
<circle cx="316.72" cy="97.61" r="0.95" fill="#f02818"/>
<circle cx="319.59" cy="99.02" r="0.95" fill="#f02818"/>
<circle cx="322.46" cy="100.54" r="0.95" fill="#f02818"/>
<circle cx="325.32" cy="102.57" r="0.95" fill="#f02818"/>
<circle cx="328.21" cy="103.56" r="0.95" fill="#f02818"/>
<circle cx="331.11" cy="104.54" r="0.95" fill="#f02818"/>
<circle cx="334.02" cy="105.53" r="0.95" fill="#f02818"/>
<circle cx="336.93" cy="106.46" r="0.95" fill="#f02818"/>
<circle cx="339.85" cy="107.34" r="0.95" fill="#f02818"/>
<circle cx="342.77" cy="108.23" r="0.95" fill="#f02818"/>
<polyline points="242.80,95.90 246.20,95.90 250.00,93.10 253.10,86.80 256.20,79.50 259.30,73.30 262.80,66.90 266.10,63.10 268.60,62.40 271.10,64.40 273.60,69.40 276.10,74.50 278.60,78.60 282.00,84.20 285.00,89.80 289.00,95.20 293.50,98.40 299.40,101.80 303.50,103.40 310.00,106.70 321.70,111.40 334.30,116.40" fill="none" stroke="#fff" stroke-opacity="0.55" stroke-width="2.85" stroke-linejoin="round"/>
<polyline points="242.80,95.90 246.20,95.90 250.00,93.10 253.10,86.80 256.20,79.50 259.30,73.30 262.80,66.90 266.10,63.10 268.60,62.40 271.10,64.40 273.60,69.40 276.10,74.50 278.60,78.60 282.00,84.20 285.00,89.80 289.00,95.20 293.50,98.40 299.40,101.80 303.50,103.40 310.00,106.70 321.70,111.40 334.30,116.40" fill="none" stroke="#118833" stroke-width="1.05" stroke-linejoin="round"/>
<circle cx="243.40" cy="95.90" r="0.95" fill="#118833"/>
<circle cx="246.17" cy="95.90" r="0.95" fill="#118833"/>
<circle cx="248.92" cy="93.90" r="0.95" fill="#118833"/>
<circle cx="251.66" cy="89.73" r="0.95" fill="#118833"/>
<circle cx="254.41" cy="83.73" r="0.95" fill="#118833"/>
<circle cx="257.18" cy="77.54" r="0.95" fill="#118833"/>
<circle cx="259.99" cy="72.04" r="0.95" fill="#118833"/>
<circle cx="262.83" cy="66.87" r="0.95" fill="#118833"/>
<circle cx="265.70" cy="63.56" r="0.95" fill="#118833"/>
<circle cx="268.60" cy="62.40" r="0.95" fill="#118833"/>
<circle cx="271.51" cy="65.21" r="0.95" fill="#118833"/>
<circle cx="274.41" cy="71.04" r="0.95" fill="#118833"/>
<circle cx="277.29" cy="76.46" r="0.95" fill="#118833"/>
<circle cx="280.17" cy="81.19" r="0.95" fill="#118833"/>
<circle cx="283.04" cy="86.15" r="0.95" fill="#118833"/>
<circle cx="285.90" cy="91.02" r="0.95" fill="#118833"/>
<circle cx="288.77" cy="94.89" r="0.95" fill="#118833"/>
<circle cx="291.65" cy="97.08" r="0.95" fill="#118833"/>
<circle cx="294.53" cy="98.99" r="0.95" fill="#118833"/>
<circle cx="297.42" cy="100.66" r="0.95" fill="#118833"/>
<circle cx="300.32" cy="102.16" r="0.95" fill="#118833"/>
<circle cx="303.23" cy="103.29" r="0.95" fill="#118833"/>
<circle cx="306.13" cy="104.74" r="0.95" fill="#118833"/>
<circle cx="309.04" cy="106.21" r="0.95" fill="#118833"/>
<circle cx="311.95" cy="107.49" r="0.95" fill="#118833"/>
<circle cx="314.88" cy="108.66" r="0.95" fill="#118833"/>
<circle cx="317.81" cy="109.84" r="0.95" fill="#118833"/>
<circle cx="320.74" cy="111.01" r="0.95" fill="#118833"/>
<circle cx="323.67" cy="112.18" r="0.95" fill="#118833"/>
<circle cx="326.62" cy="113.35" r="0.95" fill="#118833"/>
<circle cx="329.56" cy="114.52" r="0.95" fill="#118833"/>
<circle cx="332.51" cy="115.69" r="0.95" fill="#118833"/>
<polyline points="228.10,102.80 232.00,100.60 236.00,98.20 239.50,96.60 242.70,94.10 245.30,87.90 247.90,83.70 251.00,81.60 253.60,81.10 256.20,81.40 258.80,82.10 261.40,84.80 264.00,87.90 266.00,90.50 270.10,93.40 275.10,98.40 280.10,104.70 283.40,105.90 286.80,106.80 291.80,110.10 296.80,113.40 303.50,116.80 310.00,119.30 314.00,121.00 323.40,125.50" fill="none" stroke="#fff" stroke-opacity="0.55" stroke-width="2.85" stroke-linejoin="round"/>
<polyline points="228.10,102.80 232.00,100.60 236.00,98.20 239.50,96.60 242.70,94.10 245.30,87.90 247.90,83.70 251.00,81.60 253.60,81.10 256.20,81.40 258.80,82.10 261.40,84.80 264.00,87.90 266.00,90.50 270.10,93.40 275.10,98.40 280.10,104.70 283.40,105.90 286.80,106.80 291.80,110.10 296.80,113.40 303.50,116.80 310.00,119.30 314.00,121.00 323.40,125.50" fill="none" stroke="#10b4be" stroke-width="1.05" stroke-linejoin="round"/>
<circle cx="228.99" cy="102.30" r="0.95" fill="#10b4be"/>
<circle cx="231.74" cy="100.75" r="0.95" fill="#10b4be"/>
<circle cx="234.50" cy="99.10" r="0.95" fill="#10b4be"/>
<circle cx="237.28" cy="97.62" r="0.95" fill="#10b4be"/>
<circle cx="240.07" cy="96.15" r="0.95" fill="#10b4be"/>
<circle cx="242.86" cy="93.71" r="0.95" fill="#10b4be"/>
<circle cx="245.61" cy="87.40" r="0.95" fill="#10b4be"/>
<circle cx="248.42" cy="83.35" r="0.95" fill="#10b4be"/>
<circle cx="251.28" cy="81.55" r="0.95" fill="#10b4be"/>
<circle cx="254.18" cy="81.17" r="0.95" fill="#10b4be"/>
<circle cx="257.09" cy="81.64" r="0.95" fill="#10b4be"/>
<circle cx="260.01" cy="83.36" r="0.95" fill="#10b4be"/>
<circle cx="262.95" cy="86.65" r="0.95" fill="#10b4be"/>
<circle cx="265.89" cy="90.35" r="0.95" fill="#10b4be"/>
<circle cx="268.81" cy="92.49" r="0.95" fill="#10b4be"/>
<circle cx="271.74" cy="95.04" r="0.95" fill="#10b4be"/>
<circle cx="274.67" cy="97.97" r="0.95" fill="#10b4be"/>
<circle cx="277.59" cy="101.54" r="0.95" fill="#10b4be"/>
<circle cx="280.51" cy="104.85" r="0.95" fill="#10b4be"/>
<circle cx="283.44" cy="105.91" r="0.95" fill="#10b4be"/>
<circle cx="286.39" cy="106.69" r="0.95" fill="#10b4be"/>
<circle cx="289.32" cy="108.46" r="0.95" fill="#10b4be"/>
<circle cx="292.26" cy="110.40" r="0.95" fill="#10b4be"/>
<circle cx="295.19" cy="112.34" r="0.95" fill="#10b4be"/>
<circle cx="298.14" cy="114.08" r="0.95" fill="#10b4be"/>
<circle cx="301.09" cy="115.58" r="0.95" fill="#10b4be"/>
<circle cx="304.04" cy="117.01" r="0.95" fill="#10b4be"/>
<circle cx="307.01" cy="118.15" r="0.95" fill="#10b4be"/>
<circle cx="309.98" cy="119.29" r="0.95" fill="#10b4be"/>
<circle cx="312.95" cy="120.55" r="0.95" fill="#10b4be"/>
<circle cx="315.92" cy="121.92" r="0.95" fill="#10b4be"/>
<circle cx="318.90" cy="123.35" r="0.95" fill="#10b4be"/>
<circle cx="321.88" cy="124.77" r="0.95" fill="#10b4be"/>
<polyline points="216.70,110.00 219.80,110.90 222.40,110.60 225.50,108.50 228.70,106.90 231.30,103.30 233.40,98.10 236.00,95.30 239.10,94.40 242.20,93.90 244.80,94.20 247.90,93.40 250.50,93.40 253.50,96.70 256.70,100.90 260.00,104.20 264.20,106.80 268.40,110.90 273.40,115.10 280.10,118.80 288.50,122.60 298.50,126.80 306.90,130.20 312.80,133.60" fill="none" stroke="#fff" stroke-opacity="0.55" stroke-width="2.85" stroke-linejoin="round"/>
<polyline points="216.70,110.00 219.80,110.90 222.40,110.60 225.50,108.50 228.70,106.90 231.30,103.30 233.40,98.10 236.00,95.30 239.10,94.40 242.20,93.90 244.80,94.20 247.90,93.40 250.50,93.40 253.50,96.70 256.70,100.90 260.00,104.20 264.20,106.80 268.40,110.90 273.40,115.10 280.10,118.80 288.50,122.60 298.50,126.80 306.90,130.20 312.80,133.60" fill="none" stroke="#000000" stroke-width="1.05" stroke-linejoin="round"/>
<circle cx="217.00" cy="110.09" r="0.95" fill="#000000"/>
<circle cx="219.85" cy="110.89" r="0.95" fill="#000000"/>
<circle cx="222.65" cy="110.43" r="0.95" fill="#000000"/>
<circle cx="225.43" cy="108.55" r="0.95" fill="#000000"/>
<circle cx="228.23" cy="107.14" r="0.95" fill="#000000"/>
<circle cx="230.99" cy="103.72" r="0.95" fill="#000000"/>
<circle cx="233.72" cy="97.76" r="0.95" fill="#000000"/>
<circle cx="236.55" cy="95.14" r="0.95" fill="#000000"/>
<circle cx="239.44" cy="94.35" r="0.95" fill="#000000"/>
<circle cx="242.35" cy="93.92" r="0.95" fill="#000000"/>
<circle cx="245.27" cy="94.08" r="0.95" fill="#000000"/>
<circle cx="248.20" cy="93.40" r="0.95" fill="#000000"/>
<circle cx="251.15" cy="94.11" r="0.95" fill="#000000"/>
<circle cx="254.14" cy="97.54" r="0.95" fill="#000000"/>
<circle cx="257.13" cy="101.33" r="0.95" fill="#000000"/>
<circle cx="260.10" cy="104.26" r="0.95" fill="#000000"/>
<circle cx="263.07" cy="106.10" r="0.95" fill="#000000"/>
<circle cx="266.05" cy="108.60" r="0.95" fill="#000000"/>
<circle cx="269.02" cy="111.42" r="0.95" fill="#000000"/>
<circle cx="271.99" cy="113.92" r="0.95" fill="#000000"/>
<circle cx="274.96" cy="115.96" r="0.95" fill="#000000"/>
<circle cx="277.94" cy="117.61" r="0.95" fill="#000000"/>
<circle cx="280.92" cy="119.17" r="0.95" fill="#000000"/>
<circle cx="283.90" cy="120.52" r="0.95" fill="#000000"/>
<circle cx="286.89" cy="121.87" r="0.95" fill="#000000"/>
<circle cx="289.89" cy="123.18" r="0.95" fill="#000000"/>
<circle cx="292.89" cy="124.44" r="0.95" fill="#000000"/>
<circle cx="295.89" cy="125.70" r="0.95" fill="#000000"/>
<circle cx="298.90" cy="126.96" r="0.95" fill="#000000"/>
<circle cx="301.91" cy="128.18" r="0.95" fill="#000000"/>
<circle cx="304.93" cy="129.40" r="0.95" fill="#000000"/>
<circle cx="307.95" cy="130.80" r="0.95" fill="#000000"/>
<circle cx="310.96" cy="132.54" r="0.95" fill="#000000"/>
<polyline points="204.40,118.10 206.90,118.80 210.20,118.80 213.60,115.80 216.70,113.70 219.80,110.90 222.90,106.90 225.50,105.40 228.70,105.90 231.30,104.80 233.90,103.30 237.00,104.30 240.10,105.90 243.30,107.40 246.40,109.00 249.50,110.60 252.00,112.10 255.00,116.70 260.00,121.70 265.90,126.80 269.20,125.90 272.60,129.80 280.10,133.10 290.10,137.60 300.20,141.80 302.50,142.60" fill="none" stroke="#fff" stroke-opacity="0.55" stroke-width="2.85" stroke-linejoin="round"/>
<polyline points="204.40,118.10 206.90,118.80 210.20,118.80 213.60,115.80 216.70,113.70 219.80,110.90 222.90,106.90 225.50,105.40 228.70,105.90 231.30,104.80 233.90,103.30 237.00,104.30 240.10,105.90 243.30,107.40 246.40,109.00 249.50,110.60 252.00,112.10 255.00,116.70 260.00,121.70 265.90,126.80 269.20,125.90 272.60,129.80 280.10,133.10 290.10,137.60 300.20,141.80 302.50,142.60" fill="none" stroke="#a820a8" stroke-width="1.05" stroke-linejoin="round"/>
<circle cx="204.65" cy="118.17" r="0.95" fill="#a820a8"/>
<circle cx="207.52" cy="118.80" r="0.95" fill="#a820a8"/>
<circle cx="210.36" cy="118.66" r="0.95" fill="#a820a8"/>
<circle cx="213.12" cy="116.23" r="0.95" fill="#a820a8"/>
<circle cx="215.91" cy="114.23" r="0.95" fill="#a820a8"/>
<circle cx="218.71" cy="111.88" r="0.95" fill="#a820a8"/>
<circle cx="221.51" cy="108.70" r="0.95" fill="#a820a8"/>
<circle cx="224.34" cy="106.07" r="0.95" fill="#a820a8"/>
<circle cx="227.25" cy="105.67" r="0.95" fill="#a820a8"/>
<circle cx="230.17" cy="105.28" r="0.95" fill="#a820a8"/>
<circle cx="233.08" cy="103.77" r="0.95" fill="#a820a8"/>
<circle cx="236.04" cy="103.99" r="0.95" fill="#a820a8"/>
<circle cx="239.04" cy="105.35" r="0.95" fill="#a820a8"/>
<circle cx="242.04" cy="106.81" r="0.95" fill="#a820a8"/>
<circle cx="245.04" cy="108.30" r="0.95" fill="#a820a8"/>
<circle cx="248.05" cy="109.85" r="0.95" fill="#a820a8"/>
<circle cx="251.07" cy="111.54" r="0.95" fill="#a820a8"/>
<circle cx="254.11" cy="115.33" r="0.95" fill="#a820a8"/>
<circle cx="257.14" cy="118.84" r="0.95" fill="#a820a8"/>
<circle cx="260.17" cy="121.85" r="0.95" fill="#a820a8"/>
<circle cx="263.19" cy="124.46" r="0.95" fill="#a820a8"/>
<circle cx="266.21" cy="126.72" r="0.95" fill="#a820a8"/>
<circle cx="269.23" cy="125.93" r="0.95" fill="#a820a8"/>
<circle cx="272.25" cy="129.40" r="0.95" fill="#a820a8"/>
<circle cx="275.28" cy="130.98" r="0.95" fill="#a820a8"/>
<circle cx="278.31" cy="132.31" r="0.95" fill="#a820a8"/>
<circle cx="281.35" cy="133.66" r="0.95" fill="#a820a8"/>
<circle cx="284.39" cy="135.03" r="0.95" fill="#a820a8"/>
<circle cx="287.43" cy="136.40" r="0.95" fill="#a820a8"/>
<circle cx="290.48" cy="137.76" r="0.95" fill="#a820a8"/>
<circle cx="293.54" cy="139.03" r="0.95" fill="#a820a8"/>
<circle cx="296.60" cy="140.30" r="0.95" fill="#a820a8"/>
<circle cx="299.66" cy="141.58" r="0.95" fill="#a820a8"/>
<polygon points="9.71,277.62 67.95,238.93 67.44,163.77 6.08,198.40" fill="#f8f8f8"/>
<polygon points="67.95,238.93 162.78,260.30 167.05,183.39 67.44,163.77" fill="#f3f3f3"/>
<polygon points="9.71,277.62 109.88,302.21 162.78,260.30 67.95,238.93" fill="#f5f5f5"/>
<line x1="11.90" y1="278.16" x2="70.03" y2="239.40" stroke="#e8e8e8" stroke-width="0.6" />
<line x1="70.03" y1="239.40" x2="69.62" y2="164.20" stroke="#e8e8e8" stroke-width="0.6" />
<line x1="31.09" y1="282.87" x2="88.24" y2="243.50" stroke="#e8e8e8" stroke-width="0.6" />
<line x1="88.24" y1="243.50" x2="88.72" y2="167.97" stroke="#e8e8e8" stroke-width="0.6" />
<line x1="50.57" y1="287.65" x2="106.70" y2="247.66" stroke="#e8e8e8" stroke-width="0.6" />
<line x1="106.70" y1="247.66" x2="108.10" y2="171.78" stroke="#e8e8e8" stroke-width="0.6" />
<line x1="70.34" y1="292.50" x2="125.41" y2="251.88" stroke="#e8e8e8" stroke-width="0.6" />
<line x1="125.41" y1="251.88" x2="127.76" y2="175.65" stroke="#e8e8e8" stroke-width="0.6" />
<line x1="90.42" y1="297.43" x2="144.39" y2="256.16" stroke="#e8e8e8" stroke-width="0.6" />
<line x1="144.39" y1="256.16" x2="147.71" y2="179.58" stroke="#e8e8e8" stroke-width="0.6" />
<line x1="9.71" y1="277.62" x2="109.88" y2="302.21" stroke="#e8e8e8" stroke-width="0.6" />
<line x1="9.71" y1="277.62" x2="6.08" y2="198.40" stroke="#e8e8e8" stroke-width="0.6" />
<line x1="22.06" y1="269.41" x2="121.13" y2="293.30" stroke="#e8e8e8" stroke-width="0.6" />
<line x1="22.06" y1="269.41" x2="19.14" y2="191.03" stroke="#e8e8e8" stroke-width="0.6" />
<line x1="34.05" y1="261.45" x2="132.02" y2="284.67" stroke="#e8e8e8" stroke-width="0.6" />
<line x1="34.05" y1="261.45" x2="31.78" y2="183.90" stroke="#e8e8e8" stroke-width="0.6" />
<line x1="45.68" y1="253.72" x2="142.59" y2="276.30" stroke="#e8e8e8" stroke-width="0.6" />
<line x1="45.68" y1="253.72" x2="44.04" y2="176.98" stroke="#e8e8e8" stroke-width="0.6" />
<line x1="56.98" y1="246.22" x2="152.84" y2="268.18" stroke="#e8e8e8" stroke-width="0.6" />
<line x1="56.98" y1="246.22" x2="55.92" y2="170.28" stroke="#e8e8e8" stroke-width="0.6" />
<line x1="67.95" y1="238.93" x2="162.78" y2="260.30" stroke="#e8e8e8" stroke-width="0.6" />
<line x1="67.95" y1="238.93" x2="67.44" y2="163.77" stroke="#e8e8e8" stroke-width="0.6" />
<line x1="9.71" y1="277.62" x2="67.95" y2="238.93" stroke="#e8e8e8" stroke-width="0.6" />
<line x1="67.95" y1="238.93" x2="162.78" y2="260.30" stroke="#e8e8e8" stroke-width="0.6" />
<line x1="9.03" y1="262.78" x2="67.85" y2="224.80" stroke="#e8e8e8" stroke-width="0.6" />
<line x1="67.85" y1="224.80" x2="163.58" y2="245.87" stroke="#e8e8e8" stroke-width="0.6" />
<line x1="8.34" y1="247.64" x2="67.76" y2="210.42" stroke="#e8e8e8" stroke-width="0.6" />
<line x1="67.76" y1="210.42" x2="164.40" y2="231.16" stroke="#e8e8e8" stroke-width="0.6" />
<line x1="7.63" y1="232.19" x2="67.66" y2="195.76" stroke="#e8e8e8" stroke-width="0.6" />
<line x1="67.66" y1="195.76" x2="165.23" y2="216.16" stroke="#e8e8e8" stroke-width="0.6" />
<line x1="6.91" y1="216.43" x2="67.55" y2="180.83" stroke="#e8e8e8" stroke-width="0.6" />
<line x1="67.55" y1="180.83" x2="166.08" y2="200.87" stroke="#e8e8e8" stroke-width="0.6" />
<line x1="6.17" y1="200.35" x2="67.45" y2="165.61" stroke="#e8e8e8" stroke-width="0.6" />
<line x1="67.45" y1="165.61" x2="166.95" y2="185.28" stroke="#e8e8e8" stroke-width="0.6" />
<line x1="9.71" y1="277.62" x2="109.88" y2="302.21" stroke="#333" stroke-width="0.7" />
<line x1="109.88" y1="302.21" x2="162.78" y2="260.30" stroke="#333" stroke-width="0.7" />
<line x1="162.78" y1="260.30" x2="167.05" y2="183.39" stroke="#333" stroke-width="0.7" />
<line x1="11.60" y1="277.36" x2="12.20" y2="279.36" stroke="#333" stroke-width="0.7" />
<line x1="30.79" y1="282.07" x2="31.39" y2="284.07" stroke="#333" stroke-width="0.7" />
<line x1="50.27" y1="286.85" x2="50.87" y2="288.85" stroke="#333" stroke-width="0.7" />
<line x1="70.04" y1="291.70" x2="70.64" y2="293.70" stroke="#333" stroke-width="0.7" />
<line x1="90.12" y1="296.63" x2="90.72" y2="298.63" stroke="#333" stroke-width="0.7" />
<line x1="110.50" y1="301.64" x2="111.10" y2="303.64" stroke="#333" stroke-width="0.7" />
<line x1="109.68" y1="301.21" x2="110.48" y2="303.41" stroke="#333" stroke-width="0.7" />
<line x1="120.93" y1="292.30" x2="121.73" y2="294.50" stroke="#333" stroke-width="0.7" />
<line x1="131.82" y1="283.67" x2="132.62" y2="285.87" stroke="#333" stroke-width="0.7" />
<line x1="142.39" y1="275.30" x2="143.19" y2="277.50" stroke="#333" stroke-width="0.7" />
<line x1="152.64" y1="267.18" x2="153.44" y2="269.38" stroke="#333" stroke-width="0.7" />
<line x1="162.58" y1="259.30" x2="163.38" y2="261.50" stroke="#333" stroke-width="0.7" />
<line x1="161.78" y1="260.40" x2="164.38" y2="260.20" stroke="#333" stroke-width="0.7" />
<line x1="162.58" y1="245.97" x2="165.18" y2="245.77" stroke="#333" stroke-width="0.7" />
<line x1="163.40" y1="231.26" x2="166.00" y2="231.06" stroke="#333" stroke-width="0.7" />
<line x1="164.23" y1="216.26" x2="166.83" y2="216.06" stroke="#333" stroke-width="0.7" />
<line x1="165.08" y1="200.97" x2="167.68" y2="200.77" stroke="#333" stroke-width="0.7" />
<line x1="165.95" y1="185.38" x2="168.55" y2="185.18" stroke="#333" stroke-width="0.7" />
<text x="3.60" y="289.00" font-family="Liberation Serif" font-size="6.6" class="t2" textLength="5.4" lengthAdjust="spacingAndGlyphs">10</text>
<text x="9.20" y="286.20" font-family="Liberation Serif" font-size="4.4" class="t1">−2</text>
<text x="22.80" y="294.00" font-family="Liberation Serif" font-size="6.6" class="t2" textLength="5.4" lengthAdjust="spacingAndGlyphs">10</text>
<text x="28.40" y="291.20" font-family="Liberation Serif" font-size="4.4" class="t1">−1</text>
<text x="43.80" y="298.70" font-family="Liberation Serif" font-size="6.6" class="t2" textLength="5.4" lengthAdjust="spacingAndGlyphs">10</text>
<text x="49.40" y="295.90" font-family="Liberation Serif" font-size="4.4" class="t1">0</text>
<text x="63.60" y="303.70" font-family="Liberation Serif" font-size="6.6" class="t2" textLength="5.4" lengthAdjust="spacingAndGlyphs">10</text>
<text x="69.20" y="300.90" font-family="Liberation Serif" font-size="4.4" class="t1">1</text>
<text x="84.00" y="308.70" font-family="Liberation Serif" font-size="6.6" class="t2" textLength="5.4" lengthAdjust="spacingAndGlyphs">10</text>
<text x="89.60" y="305.90" font-family="Liberation Serif" font-size="4.4" class="t1">2</text>
<text x="104.60" y="314.00" font-family="Liberation Serif" font-size="6.6" class="t2" textLength="5.4" lengthAdjust="spacingAndGlyphs">10</text>
<text x="110.20" y="311.20" font-family="Liberation Serif" font-size="4.4" class="t1">3</text>
<text x="114.60" y="312.50" font-family="Liberation Serif" font-size="6.8" class="t2" textLength="3.2" lengthAdjust="spacingAndGlyphs">0</text>
<text x="124.00" y="302.90" font-family="Liberation Serif" font-size="6.8" class="t2" textLength="6.4" lengthAdjust="spacingAndGlyphs">10</text>
<text x="135.00" y="295.00" font-family="Liberation Serif" font-size="6.8" class="t2" textLength="6.4" lengthAdjust="spacingAndGlyphs">20</text>
<text x="145.30" y="286.30" font-family="Liberation Serif" font-size="6.8" class="t2" textLength="6.4" lengthAdjust="spacingAndGlyphs">30</text>
<text x="154.40" y="278.40" font-family="Liberation Serif" font-size="6.8" class="t2" textLength="6.4" lengthAdjust="spacingAndGlyphs">40</text>
<text x="163.90" y="270.50" font-family="Liberation Serif" font-size="6.8" class="t2" textLength="6.4" lengthAdjust="spacingAndGlyphs">50</text>
<text x="171.38" y="261.70" text-anchor="middle" font-family="Liberation Serif" font-size="6.8" class="t2" textLength="8.2" lengthAdjust="spacingAndGlyphs">0.0</text>
<text x="172.18" y="247.59" text-anchor="middle" font-family="Liberation Serif" font-size="6.8" class="t2" textLength="8.2" lengthAdjust="spacingAndGlyphs">0.1</text>
<text x="173.00" y="233.20" text-anchor="middle" font-family="Liberation Serif" font-size="6.8" class="t2" textLength="8.2" lengthAdjust="spacingAndGlyphs">0.2</text>
<text x="173.83" y="218.52" text-anchor="middle" font-family="Liberation Serif" font-size="6.8" class="t2" textLength="8.2" lengthAdjust="spacingAndGlyphs">0.3</text>
<text x="174.68" y="203.55" text-anchor="middle" font-family="Liberation Serif" font-size="6.8" class="t2" textLength="8.2" lengthAdjust="spacingAndGlyphs">0.4</text>
<text x="175.55" y="188.28" text-anchor="middle" font-family="Liberation Serif" font-size="6.8" class="t2" textLength="8.2" lengthAdjust="spacingAndGlyphs">0.5</text>
<g transform="translate(33.20,303.20) rotate(13.8)"><text x="0" y="0" font-family="Liberation Serif" font-style="italic" font-size="9.6" class="b3">E</text><text x="7.4" y="1.6" font-family="Liberation Serif" font-style="italic" font-size="5.6" class="b2">ion</text><text x="15.6" y="0" font-family="Liberation Sans" font-style="italic" font-size="9.8" class="b3" textLength="21.6" lengthAdjust="spacingAndGlyphs">[keV]</text></g>
<g transform="translate(145.10,300.80) rotate(-39)"><text x="0" y="0" font-family="Liberation Serif" font-style="italic" font-size="9" class="t2">θ</text><text x="5.4" y="-0.4" font-family="Liberation Sans" font-size="9" class="t1">[</text><circle cx="11.4" cy="-5.2" r="1.05" fill="none" stroke="#222" stroke-width="0.6"/><text x="15.2" y="-0.4" font-family="Liberation Sans" font-size="9" class="t1">]</text></g>
<g transform="translate(187.60,220.50) rotate(-86.8)"><text x="0" y="0" text-anchor="middle" font-family="Liberation Sans" font-size="8.8" class="b3" textLength="89" lengthAdjust="spacingAndGlyphs">Number of vacancies</text></g>
<text x="4.90" y="175.90" font-family="Liberation Sans" font-weight="bold" font-size="9.4" class="b2" textLength="13.8" lengthAdjust="spacingAndGlyphs">(c)</text>
<text x="12.80" y="206.60" font-family="Liberation Sans" font-size="8.4" class="b2" textLength="10.0" lengthAdjust="spacingAndGlyphs">He</text>
<polyline points="67.94,237.49 79.44,240.08 91.05,242.69 102.75,245.32 114.56,247.98 126.47,250.66 138.49,253.36 150.62,256.09 162.86,258.84" fill="none" stroke="#fff" stroke-opacity="0.55" stroke-width="2.30" stroke-linejoin="round"/>
<polyline points="67.94,237.49 79.44,240.08 91.05,242.69 102.75,245.32 114.56,247.98 126.47,250.66 138.49,253.36 150.62,256.09 162.86,258.84" fill="none" stroke="#2c3cae" stroke-width="0.5" stroke-linejoin="round" stroke-dasharray="0.8,1.6"/>
<circle cx="67.94" cy="237.49" r="1.05" fill="#2c3cae"/>
<circle cx="70.52" cy="238.08" r="1.05" fill="#2c3cae"/>
<circle cx="73.11" cy="238.66" r="1.05" fill="#2c3cae"/>
<circle cx="75.71" cy="239.24" r="1.05" fill="#2c3cae"/>
<circle cx="78.31" cy="239.83" r="1.05" fill="#2c3cae"/>
<circle cx="80.91" cy="240.41" r="1.05" fill="#2c3cae"/>
<circle cx="83.52" cy="241.00" r="1.05" fill="#2c3cae"/>
<circle cx="86.14" cy="241.59" r="1.05" fill="#2c3cae"/>
<circle cx="88.76" cy="242.18" r="1.05" fill="#2c3cae"/>
<circle cx="91.38" cy="242.77" r="1.05" fill="#2c3cae"/>
<circle cx="94.01" cy="243.36" r="1.05" fill="#2c3cae"/>
<circle cx="96.65" cy="243.95" r="1.05" fill="#2c3cae"/>
<circle cx="99.29" cy="244.54" r="1.05" fill="#2c3cae"/>
<circle cx="101.93" cy="245.14" r="1.05" fill="#2c3cae"/>
<circle cx="104.58" cy="245.73" r="1.05" fill="#2c3cae"/>
<circle cx="107.24" cy="246.33" r="1.05" fill="#2c3cae"/>
<circle cx="109.90" cy="246.93" r="1.05" fill="#2c3cae"/>
<circle cx="112.57" cy="247.53" r="1.05" fill="#2c3cae"/>
<circle cx="115.24" cy="248.13" r="1.05" fill="#2c3cae"/>
<circle cx="117.92" cy="248.73" r="1.05" fill="#2c3cae"/>
<circle cx="120.60" cy="249.34" r="1.05" fill="#2c3cae"/>
<circle cx="123.29" cy="249.94" r="1.05" fill="#2c3cae"/>
<circle cx="125.99" cy="250.55" r="1.05" fill="#2c3cae"/>
<circle cx="128.68" cy="251.15" r="1.05" fill="#2c3cae"/>
<circle cx="131.39" cy="251.76" r="1.05" fill="#2c3cae"/>
<circle cx="134.10" cy="252.37" r="1.05" fill="#2c3cae"/>
<circle cx="136.82" cy="252.98" r="1.05" fill="#2c3cae"/>
<circle cx="139.54" cy="253.59" r="1.05" fill="#2c3cae"/>
<circle cx="142.26" cy="254.21" r="1.05" fill="#2c3cae"/>
<circle cx="144.99" cy="254.82" r="1.05" fill="#2c3cae"/>
<circle cx="147.73" cy="255.44" r="1.05" fill="#2c3cae"/>
<circle cx="150.47" cy="256.05" r="1.05" fill="#2c3cae"/>
<circle cx="153.22" cy="256.67" r="1.05" fill="#2c3cae"/>
<circle cx="155.98" cy="257.29" r="1.05" fill="#2c3cae"/>
<circle cx="158.74" cy="257.91" r="1.05" fill="#2c3cae"/>
<circle cx="161.50" cy="258.53" r="1.05" fill="#2c3cae"/>
<polyline points="71.00,240.00 74.00,236.00 77.90,213.80 80.00,206.50 82.00,199.20 84.50,210.00 87.30,220.00 90.30,225.80 94.40,222.50 98.60,224.50 102.80,226.80 106.90,237.30 111.10,239.30 115.20,237.30 118.40,247.70 125.00,249.50 135.00,252.00 139.59,253.38 144.21,254.60 148.85,255.74 153.50,256.83 158.17,257.91 162.85,258.97" fill="none" stroke="#fff" stroke-opacity="0.55" stroke-width="2.70" stroke-linejoin="round"/>
<polyline points="71.00,240.00 74.00,236.00 77.90,213.80 80.00,206.50 82.00,199.20 84.50,210.00 87.30,220.00 90.30,225.80 94.40,222.50 98.60,224.50 102.80,226.80 106.90,237.30 111.10,239.30 115.20,237.30 118.40,247.70 125.00,249.50 135.00,252.00 139.59,253.38 144.21,254.60 148.85,255.74 153.50,256.83 158.17,257.91 162.85,258.97" fill="none" stroke="#2c3cae" stroke-width="0.9" stroke-linejoin="round" stroke-dasharray="2.2,1.3"/>
<polygon points="72.39,236.21 74.34,236.21 73.37,237.82" fill="#2c3cae"/>
<polygon points="75.10,223.56 77.05,223.56 76.07,225.17" fill="#2c3cae"/>
<polygon points="77.86,209.91 79.81,209.91 78.84,211.53" fill="#2c3cae"/>
<polygon points="80.67,199.86 82.62,199.86 81.65,201.47" fill="#2c3cae"/>
<polygon points="83.45,209.04 85.40,209.04 84.43,210.66" fill="#2c3cae"/>
<polygon points="86.20,218.92 88.15,218.92 87.18,220.54" fill="#2c3cae"/>
<polygon points="88.96,224.45 90.91,224.45 89.93,226.07" fill="#2c3cae"/>
<polygon points="91.76,223.20 93.72,223.20 92.74,224.81" fill="#2c3cae"/>
<polygon points="94.58,222.41 96.53,222.41 95.56,224.03" fill="#2c3cae"/>
<polygon points="97.38,223.75 99.33,223.75 98.35,225.36" fill="#2c3cae"/>
<polygon points="100.18,225.26 102.13,225.26 101.15,226.88" fill="#2c3cae"/>
<polygon points="102.94,229.02 104.89,229.02 103.92,230.64" fill="#2c3cae"/>
<polygon points="105.64,235.94 107.60,235.94 106.62,237.56" fill="#2c3cae"/>
<polygon points="108.43,237.85 110.38,237.85 109.40,239.47" fill="#2c3cae"/>
<polygon points="111.25,238.11 113.20,238.11 112.23,239.73" fill="#2c3cae"/>
<polygon points="114.12,236.71 116.07,236.71 115.10,238.33" fill="#2c3cae"/>
<polygon points="116.76,244.89 118.71,244.89 117.73,246.51" fill="#2c3cae"/>
<polygon points="119.52,247.63 121.48,247.63 120.50,249.25" fill="#2c3cae"/>
<polygon points="122.34,248.40 124.30,248.40 123.32,250.02" fill="#2c3cae"/>
<polygon points="125.17,249.15 127.12,249.15 126.15,250.76" fill="#2c3cae"/>
<polygon points="128.00,249.86 129.96,249.86 128.98,251.47" fill="#2c3cae"/>
<polygon points="130.84,250.57 132.80,250.57 131.82,252.18" fill="#2c3cae"/>
<polygon points="133.69,251.28 135.64,251.28 134.66,252.89" fill="#2c3cae"/>
<polygon points="136.53,252.12 138.49,252.12 137.51,253.73" fill="#2c3cae"/>
<polygon points="139.38,252.95 141.34,252.95 140.36,254.56" fill="#2c3cae"/>
<polygon points="142.24,253.70 144.20,253.70 143.22,255.32" fill="#2c3cae"/>
<polygon points="145.11,254.42 147.07,254.42 146.09,256.04" fill="#2c3cae"/>
<polygon points="147.99,255.13 149.94,255.13 148.96,256.74" fill="#2c3cae"/>
<polygon points="150.87,255.80 152.82,255.80 151.84,257.42" fill="#2c3cae"/>
<polygon points="153.75,256.48 155.71,256.48 154.73,258.09" fill="#2c3cae"/>
<polygon points="156.65,257.14 158.60,257.14 157.63,258.76" fill="#2c3cae"/>
<polygon points="159.55,257.81 161.50,257.81 160.53,259.42" fill="#2c3cae"/>
<polyline points="72.00,240.00 75.00,236.00 78.90,232.50 83.10,220.00 87.30,206.50 89.30,196.00 92.50,178.30 95.20,177.90 97.70,190.80 100.80,205.40 103.90,222.10 107.00,206.50 109.10,217.90 111.20,228.30 113.00,231.50 115.20,231.00 117.30,241.40 119.40,245.60 125.70,247.70 136.10,251.40 146.50,255.00 161.10,258.10 161.38,258.40 161.67,258.59 161.97,258.72 162.26,258.82 162.56,258.90 162.85,258.98" fill="none" stroke="#fff" stroke-opacity="0.55" stroke-width="2.70" stroke-linejoin="round"/>
<polyline points="72.00,240.00 75.00,236.00 78.90,232.50 83.10,220.00 87.30,206.50 89.30,196.00 92.50,178.30 95.20,177.90 97.70,190.80 100.80,205.40 103.90,222.10 107.00,206.50 109.10,217.90 111.20,228.30 113.00,231.50 115.20,231.00 117.30,241.40 119.40,245.60 125.70,247.70 136.10,251.40 146.50,255.00 161.10,258.10 161.38,258.40 161.67,258.59 161.97,258.72 162.26,258.82 162.56,258.90 162.85,258.98" fill="none" stroke="#2c3cae" stroke-width="0.9" stroke-linejoin="round"/>
<circle cx="73.37" cy="238.17" r="0.75" fill="#2c3cae"/>
<circle cx="76.09" cy="235.02" r="0.75" fill="#2c3cae"/>
<circle cx="78.83" cy="232.56" r="0.75" fill="#2c3cae"/>
<circle cx="81.60" cy="224.48" r="0.75" fill="#2c3cae"/>
<circle cx="84.40" cy="215.82" r="0.75" fill="#2c3cae"/>
<circle cx="87.25" cy="206.66" r="0.75" fill="#2c3cae"/>
<circle cx="90.19" cy="191.10" r="0.75" fill="#2c3cae"/>
<circle cx="93.16" cy="178.20" r="0.75" fill="#2c3cae"/>
<circle cx="96.01" cy="182.06" r="0.75" fill="#2c3cae"/>
<circle cx="98.72" cy="195.62" r="0.75" fill="#2c3cae"/>
<circle cx="101.41" cy="208.66" r="0.75" fill="#2c3cae"/>
<circle cx="104.05" cy="221.32" r="0.75" fill="#2c3cae"/>
<circle cx="107.15" cy="207.33" r="0.75" fill="#2c3cae"/>
<circle cx="109.75" cy="221.13" r="0.75" fill="#2c3cae"/>
<circle cx="112.41" cy="230.45" r="0.75" fill="#2c3cae"/>
<circle cx="115.24" cy="231.21" r="0.75" fill="#2c3cae"/>
<circle cx="117.81" cy="242.43" r="0.75" fill="#2c3cae"/>
<circle cx="120.56" cy="245.99" r="0.75" fill="#2c3cae"/>
<circle cx="123.38" cy="246.93" r="0.75" fill="#2c3cae"/>
<circle cx="126.20" cy="247.88" r="0.75" fill="#2c3cae"/>
<circle cx="129.03" cy="248.89" r="0.75" fill="#2c3cae"/>
<circle cx="131.86" cy="249.89" r="0.75" fill="#2c3cae"/>
<circle cx="134.70" cy="250.90" r="0.75" fill="#2c3cae"/>
<circle cx="137.54" cy="251.90" r="0.75" fill="#2c3cae"/>
<circle cx="140.39" cy="252.88" r="0.75" fill="#2c3cae"/>
<circle cx="143.24" cy="253.87" r="0.75" fill="#2c3cae"/>
<circle cx="146.10" cy="254.86" r="0.75" fill="#2c3cae"/>
<circle cx="148.97" cy="255.53" r="0.75" fill="#2c3cae"/>
<circle cx="151.86" cy="256.14" r="0.75" fill="#2c3cae"/>
<circle cx="154.75" cy="256.75" r="0.75" fill="#2c3cae"/>
<circle cx="157.65" cy="257.37" r="0.75" fill="#2c3cae"/>
<circle cx="160.55" cy="257.98" r="0.75" fill="#2c3cae"/>
<polyline points="56.96,244.77 68.58,247.43 80.31,250.11 92.14,252.81 104.07,255.54 116.12,258.29 128.27,261.07 140.53,263.87 152.91,266.70" fill="none" stroke="#fff" stroke-opacity="0.55" stroke-width="2.30" stroke-linejoin="round"/>
<polyline points="56.96,244.77 68.58,247.43 80.31,250.11 92.14,252.81 104.07,255.54 116.12,258.29 128.27,261.07 140.53,263.87 152.91,266.70" fill="none" stroke="#f02818" stroke-width="0.5" stroke-linejoin="round" stroke-dasharray="0.8,1.6"/>
<circle cx="56.96" cy="244.77" r="1.05" fill="#f02818"/>
<circle cx="59.57" cy="245.37" r="1.05" fill="#f02818"/>
<circle cx="62.18" cy="245.96" r="1.05" fill="#f02818"/>
<circle cx="64.81" cy="246.56" r="1.05" fill="#f02818"/>
<circle cx="67.43" cy="247.16" r="1.05" fill="#f02818"/>
<circle cx="70.06" cy="247.76" r="1.05" fill="#f02818"/>
<circle cx="72.70" cy="248.37" r="1.05" fill="#f02818"/>
<circle cx="75.34" cy="248.97" r="1.05" fill="#f02818"/>
<circle cx="77.99" cy="249.58" r="1.05" fill="#f02818"/>
<circle cx="80.64" cy="250.18" r="1.05" fill="#f02818"/>
<circle cx="83.30" cy="250.79" r="1.05" fill="#f02818"/>
<circle cx="85.97" cy="251.40" r="1.05" fill="#f02818"/>
<circle cx="88.64" cy="252.01" r="1.05" fill="#f02818"/>
<circle cx="91.31" cy="252.62" r="1.05" fill="#f02818"/>
<circle cx="93.99" cy="253.23" r="1.05" fill="#f02818"/>
<circle cx="96.67" cy="253.85" r="1.05" fill="#f02818"/>
<circle cx="99.36" cy="254.46" r="1.05" fill="#f02818"/>
<circle cx="102.06" cy="255.08" r="1.05" fill="#f02818"/>
<circle cx="104.76" cy="255.70" r="1.05" fill="#f02818"/>
<circle cx="107.47" cy="256.31" r="1.05" fill="#f02818"/>
<circle cx="110.18" cy="256.93" r="1.05" fill="#f02818"/>
<circle cx="112.90" cy="257.56" r="1.05" fill="#f02818"/>
<circle cx="115.62" cy="258.18" r="1.05" fill="#f02818"/>
<circle cx="118.35" cy="258.80" r="1.05" fill="#f02818"/>
<circle cx="121.09" cy="259.43" r="1.05" fill="#f02818"/>
<circle cx="123.83" cy="260.05" r="1.05" fill="#f02818"/>
<circle cx="126.57" cy="260.68" r="1.05" fill="#f02818"/>
<circle cx="129.32" cy="261.31" r="1.05" fill="#f02818"/>
<circle cx="132.08" cy="261.94" r="1.05" fill="#f02818"/>
<circle cx="134.84" cy="262.57" r="1.05" fill="#f02818"/>
<circle cx="137.61" cy="263.20" r="1.05" fill="#f02818"/>
<circle cx="140.38" cy="263.84" r="1.05" fill="#f02818"/>
<circle cx="143.16" cy="264.47" r="1.05" fill="#f02818"/>
<circle cx="145.95" cy="265.11" r="1.05" fill="#f02818"/>
<circle cx="148.74" cy="265.75" r="1.05" fill="#f02818"/>
<circle cx="151.54" cy="266.39" r="1.05" fill="#f02818"/>
<polyline points="61.00,246.00 62.50,238.00 64.00,225.00 66.00,190.40 68.50,199.20 70.60,207.50 72.50,218.00 74.50,228.00 77.00,232.00 80.00,234.00 83.00,236.00 88.20,237.30 91.00,233.00 94.40,243.50 97.50,249.80 101.00,252.50 108.00,255.00 115.37,257.45 122.79,259.55 130.26,261.46 137.76,263.28 145.31,265.06 152.90,266.82" fill="none" stroke="#fff" stroke-opacity="0.55" stroke-width="2.70" stroke-linejoin="round"/>
<polyline points="61.00,246.00 62.50,238.00 64.00,225.00 66.00,190.40 68.50,199.20 70.60,207.50 72.50,218.00 74.50,228.00 77.00,232.00 80.00,234.00 83.00,236.00 88.20,237.30 91.00,233.00 94.40,243.50 97.50,249.80 101.00,252.50 108.00,255.00 115.37,257.45 122.79,259.55 130.26,261.46 137.76,263.28 145.31,265.06 152.90,266.82" fill="none" stroke="#f02818" stroke-width="0.9" stroke-linejoin="round" stroke-dasharray="2.2,1.3"/>
<polygon points="61.39,238.05 63.35,238.05 62.37,239.67" fill="#f02818"/>
<polygon points="63.90,209.11 65.86,209.11 64.88,210.72" fill="#f02818"/>
<polygon points="66.63,195.43 68.59,195.43 67.61,197.04" fill="#f02818"/>
<polygon points="69.54,206.54 71.50,206.54 70.52,208.16" fill="#f02818"/>
<polygon points="72.43,221.91 74.39,221.91 73.41,223.53" fill="#f02818"/>
<polygon points="75.27,230.15 77.22,230.15 76.24,231.77" fill="#f02818"/>
<polygon points="78.08,232.74 80.04,232.74 79.06,234.35" fill="#f02818"/>
<polygon points="80.90,234.61 82.85,234.61 81.87,236.23" fill="#f02818"/>
<polygon points="83.72,235.79 85.67,235.79 84.69,237.40" fill="#f02818"/>
<polygon points="86.54,236.49 88.50,236.49 87.52,238.11" fill="#f02818"/>
<polygon points="89.40,233.31 91.36,233.31 90.38,234.93" fill="#f02818"/>
<polygon points="92.20,239.09 94.16,239.09 93.18,240.70" fill="#f02818"/>
<polygon points="94.97,246.01 96.93,246.01 95.95,247.62" fill="#f02818"/>
<polygon points="97.76,250.12 99.72,250.12 98.74,251.73" fill="#f02818"/>
<polygon points="100.58,252.06 102.53,252.06 101.56,253.68" fill="#f02818"/>
<polygon points="103.41,253.07 105.37,253.07 104.39,254.69" fill="#f02818"/>
<polygon points="106.25,254.09 108.20,254.09 107.23,255.70" fill="#f02818"/>
<polygon points="109.09,255.05 111.05,255.05 110.07,256.67" fill="#f02818"/>
<polygon points="111.94,256.00 113.90,256.00 112.92,257.61" fill="#f02818"/>
<polygon points="114.80,256.93 116.75,256.93 115.77,258.54" fill="#f02818"/>
<polygon points="117.66,257.74 119.62,257.74 118.64,259.35" fill="#f02818"/>
<polygon points="120.53,258.55 122.48,258.55 121.51,260.16" fill="#f02818"/>
<polygon points="123.40,259.31 125.36,259.31 124.38,260.93" fill="#f02818"/>
<polygon points="126.29,260.05 128.24,260.05 127.26,261.67" fill="#f02818"/>
<polygon points="129.17,260.79 131.13,260.79 130.15,262.41" fill="#f02818"/>
<polygon points="132.07,261.49 134.02,261.49 133.05,263.11" fill="#f02818"/>
<polygon points="134.97,262.20 136.93,262.20 135.95,263.81" fill="#f02818"/>
<polygon points="137.88,262.90 139.83,262.90 138.86,264.51" fill="#f02818"/>
<polygon points="140.79,263.58 142.75,263.58 141.77,265.20" fill="#f02818"/>
<polygon points="143.71,264.27 145.67,264.27 144.69,265.89" fill="#f02818"/>
<polygon points="146.64,264.95 148.60,264.95 147.62,266.57" fill="#f02818"/>
<polygon points="149.57,265.64 151.53,265.64 150.55,267.25" fill="#f02818"/>
<polyline points="62.00,246.00 66.00,240.00 69.50,234.60 72.70,217.90 75.40,195.00 76.80,205.40 77.90,220.00 81.00,224.20 83.50,226.50 85.20,228.50 87.10,225.80 89.20,233.10 92.30,238.30 93.40,232.00 95.50,241.40 98.60,237.30 100.70,247.70 103.80,252.90 111.10,256.00 121.50,259.10 136.10,263.30 151.70,266.80 151.90,266.74 152.10,266.73 152.30,266.74 152.50,266.77 152.70,266.81 152.90,266.85" fill="none" stroke="#fff" stroke-opacity="0.55" stroke-width="2.70" stroke-linejoin="round"/>
<polyline points="62.00,246.00 66.00,240.00 69.50,234.60 72.70,217.90 75.40,195.00 76.80,205.40 77.90,220.00 81.00,224.20 83.50,226.50 85.20,228.50 87.10,225.80 89.20,233.10 92.30,238.30 93.40,232.00 95.50,241.40 98.60,237.30 100.70,247.70 103.80,252.90 111.10,256.00 121.50,259.10 136.10,263.30 151.70,266.80 151.90,266.74 152.10,266.73 152.30,266.74 152.50,266.77 152.70,266.81 152.90,266.85" fill="none" stroke="#f02818" stroke-width="0.9" stroke-linejoin="round"/>
<circle cx="62.44" cy="245.34" r="0.75" fill="#f02818"/>
<circle cx="65.15" cy="241.27" r="0.75" fill="#f02818"/>
<circle cx="67.89" cy="237.09" r="0.75" fill="#f02818"/>
<circle cx="70.63" cy="228.72" r="0.75" fill="#f02818"/>
<circle cx="73.38" cy="212.16" r="0.75" fill="#f02818"/>
<circle cx="76.20" cy="200.96" r="0.75" fill="#f02818"/>
<circle cx="79.06" cy="221.58" r="0.75" fill="#f02818"/>
<circle cx="81.90" cy="225.03" r="0.75" fill="#f02818"/>
<circle cx="84.73" cy="227.94" r="0.75" fill="#f02818"/>
<circle cx="87.58" cy="227.46" r="0.75" fill="#f02818"/>
<circle cx="90.37" cy="235.07" r="0.75" fill="#f02818"/>
<circle cx="93.24" cy="232.89" r="0.75" fill="#f02818"/>
<circle cx="96.02" cy="240.72" r="0.75" fill="#f02818"/>
<circle cx="98.90" cy="238.78" r="0.75" fill="#f02818"/>
<circle cx="101.61" cy="249.22" r="0.75" fill="#f02818"/>
<circle cx="104.40" cy="253.15" r="0.75" fill="#f02818"/>
<circle cx="107.23" cy="254.36" r="0.75" fill="#f02818"/>
<circle cx="110.07" cy="255.56" r="0.75" fill="#f02818"/>
<circle cx="112.92" cy="256.54" r="0.75" fill="#f02818"/>
<circle cx="115.78" cy="257.39" r="0.75" fill="#f02818"/>
<circle cx="118.64" cy="258.25" r="0.75" fill="#f02818"/>
<circle cx="121.51" cy="259.10" r="0.75" fill="#f02818"/>
<circle cx="124.38" cy="259.93" r="0.75" fill="#f02818"/>
<circle cx="127.26" cy="260.76" r="0.75" fill="#f02818"/>
<circle cx="130.15" cy="261.59" r="0.75" fill="#f02818"/>
<circle cx="133.04" cy="262.42" r="0.75" fill="#f02818"/>
<circle cx="135.93" cy="263.25" r="0.75" fill="#f02818"/>
<circle cx="138.84" cy="263.91" r="0.75" fill="#f02818"/>
<circle cx="141.76" cy="264.57" r="0.75" fill="#f02818"/>
<circle cx="144.68" cy="265.22" r="0.75" fill="#f02818"/>
<circle cx="147.60" cy="265.88" r="0.75" fill="#f02818"/>
<circle cx="150.54" cy="266.54" r="0.75" fill="#f02818"/>
<polyline points="45.65,252.11 57.39,254.84 69.25,257.59 81.20,260.37 93.27,263.18 105.45,266.01 117.74,268.86 130.14,271.74 142.66,274.65" fill="none" stroke="#fff" stroke-opacity="0.55" stroke-width="2.30" stroke-linejoin="round"/>
<polyline points="45.65,252.11 57.39,254.84 69.25,257.59 81.20,260.37 93.27,263.18 105.45,266.01 117.74,268.86 130.14,271.74 142.66,274.65" fill="none" stroke="#118833" stroke-width="0.5" stroke-linejoin="round" stroke-dasharray="0.8,1.6"/>
<circle cx="48.29" cy="252.72" r="1.05" fill="#118833"/>
<circle cx="50.93" cy="253.34" r="1.05" fill="#118833"/>
<circle cx="53.58" cy="253.95" r="1.05" fill="#118833"/>
<circle cx="56.23" cy="254.57" r="1.05" fill="#118833"/>
<circle cx="58.89" cy="255.19" r="1.05" fill="#118833"/>
<circle cx="61.56" cy="255.81" r="1.05" fill="#118833"/>
<circle cx="64.23" cy="256.43" r="1.05" fill="#118833"/>
<circle cx="66.91" cy="257.05" r="1.05" fill="#118833"/>
<circle cx="69.59" cy="257.67" r="1.05" fill="#118833"/>
<circle cx="72.27" cy="258.30" r="1.05" fill="#118833"/>
<circle cx="74.97" cy="258.92" r="1.05" fill="#118833"/>
<circle cx="77.66" cy="259.55" r="1.05" fill="#118833"/>
<circle cx="80.37" cy="260.18" r="1.05" fill="#118833"/>
<circle cx="83.08" cy="260.81" r="1.05" fill="#118833"/>
<circle cx="85.79" cy="261.44" r="1.05" fill="#118833"/>
<circle cx="88.51" cy="262.07" r="1.05" fill="#118833"/>
<circle cx="91.24" cy="262.70" r="1.05" fill="#118833"/>
<circle cx="93.97" cy="263.34" r="1.05" fill="#118833"/>
<circle cx="96.70" cy="263.97" r="1.05" fill="#118833"/>
<circle cx="99.45" cy="264.61" r="1.05" fill="#118833"/>
<circle cx="102.20" cy="265.25" r="1.05" fill="#118833"/>
<circle cx="104.95" cy="265.89" r="1.05" fill="#118833"/>
<circle cx="107.71" cy="266.53" r="1.05" fill="#118833"/>
<circle cx="110.47" cy="267.17" r="1.05" fill="#118833"/>
<circle cx="113.24" cy="267.82" r="1.05" fill="#118833"/>
<circle cx="116.02" cy="268.46" r="1.05" fill="#118833"/>
<circle cx="118.80" cy="269.11" r="1.05" fill="#118833"/>
<circle cx="121.59" cy="269.76" r="1.05" fill="#118833"/>
<circle cx="124.39" cy="270.41" r="1.05" fill="#118833"/>
<circle cx="127.18" cy="271.06" r="1.05" fill="#118833"/>
<circle cx="129.99" cy="271.71" r="1.05" fill="#118833"/>
<circle cx="132.80" cy="272.36" r="1.05" fill="#118833"/>
<circle cx="135.62" cy="273.02" r="1.05" fill="#118833"/>
<circle cx="138.44" cy="273.67" r="1.05" fill="#118833"/>
<circle cx="141.27" cy="274.33" r="1.05" fill="#118833"/>
<polyline points="49.00,255.00 50.50,247.00 51.70,237.80 53.40,226.90 55.10,212.70 57.60,201.90 59.30,206.00 60.90,217.70 62.60,225.30 63.80,239.50 65.50,245.00 68.00,250.00 72.00,253.00 78.00,255.50 88.58,260.04 99.22,263.59 109.95,266.63 120.76,269.43 131.66,272.11 142.66,274.74" fill="none" stroke="#fff" stroke-opacity="0.55" stroke-width="2.70" stroke-linejoin="round"/>
<polyline points="49.00,255.00 50.50,247.00 51.70,237.80 53.40,226.90 55.10,212.70 57.60,201.90 59.30,206.00 60.90,217.70 62.60,225.30 63.80,239.50 65.50,245.00 68.00,250.00 72.00,253.00 78.00,255.50 88.58,260.04 99.22,263.59 109.95,266.63 120.76,269.43 131.66,272.11 142.66,274.74" fill="none" stroke="#118833" stroke-width="0.9" stroke-linejoin="round" stroke-dasharray="2.2,1.3"/>
<polygon points="50.03,242.44 51.99,242.44 51.01,244.06" fill="#118833"/>
<polygon points="52.55,225.21 54.50,225.21 53.53,226.83" fill="#118833"/>
<polygon points="55.13,207.71 57.09,207.71 56.11,209.32" fill="#118833"/>
<polygon points="57.96,204.49 59.92,204.49 58.94,206.11" fill="#118833"/>
<polygon points="61.03,222.02 62.99,222.02 62.01,223.63" fill="#118833"/>
<polygon points="64.07,242.91 66.03,242.91 65.05,244.53" fill="#118833"/>
<polygon points="66.95,249.22 68.90,249.22 67.93,250.83" fill="#118833"/>
<polygon points="69.79,251.44 71.74,251.44 70.77,253.05" fill="#118833"/>
<polygon points="72.63,253.03 74.58,253.03 73.60,254.65" fill="#118833"/>
<polygon points="75.47,254.21 77.42,254.21 76.44,255.83" fill="#118833"/>
<polygon points="78.31,255.42 80.27,255.42 79.29,257.03" fill="#118833"/>
<polygon points="81.16,256.64 83.11,256.64 82.14,258.25" fill="#118833"/>
<polygon points="84.01,257.86 85.97,257.86 84.99,259.48" fill="#118833"/>
<polygon points="86.87,259.09 88.82,259.09 87.84,260.70" fill="#118833"/>
<polygon points="89.73,260.11 91.68,260.11 90.71,261.73" fill="#118833"/>
<polygon points="92.60,261.07 94.55,261.07 93.57,262.68" fill="#118833"/>
<polygon points="95.47,262.02 97.42,262.02 96.45,263.64" fill="#118833"/>
<polygon points="98.35,262.98 100.30,262.98 99.32,264.59" fill="#118833"/>
<polygon points="101.23,263.80 103.19,263.80 102.21,265.41" fill="#118833"/>
<polygon points="104.12,264.62 106.08,264.62 105.10,266.23" fill="#118833"/>
<polygon points="107.02,265.44 108.97,265.44 107.99,267.05" fill="#118833"/>
<polygon points="109.92,266.24 111.87,266.24 110.90,267.85" fill="#118833"/>
<polygon points="112.83,266.99 114.78,266.99 113.81,268.61" fill="#118833"/>
<polygon points="115.74,267.74 117.70,267.74 116.72,269.36" fill="#118833"/>
<polygon points="118.67,268.50 120.62,268.50 119.64,270.12" fill="#118833"/>
<polygon points="121.59,269.24 123.55,269.24 122.57,270.85" fill="#118833"/>
<polygon points="124.53,269.96 126.48,269.96 125.51,271.57" fill="#118833"/>
<polygon points="127.47,270.68 129.43,270.68 128.45,272.29" fill="#118833"/>
<polygon points="130.42,271.40 132.37,271.40 131.39,273.02" fill="#118833"/>
<polygon points="133.37,272.11 135.33,272.11 134.35,273.73" fill="#118833"/>
<polygon points="136.33,272.82 138.29,272.82 137.31,274.44" fill="#118833"/>
<polygon points="139.30,273.53 141.25,273.53 140.28,275.15" fill="#118833"/>
<polyline points="50.00,255.00 53.00,252.00 55.50,248.00 57.50,243.30 59.40,235.70 61.30,230.60 63.10,228.10 65.00,227.50 66.90,230.60 68.20,235.70 70.10,242.00 72.60,244.50 76.40,245.10 80.20,246.40 83.00,249.00 86.10,252.50 90.30,256.80 93.40,258.50 100.70,261.20 107.59,264.68 114.53,267.26 121.50,269.37 128.51,271.26 135.56,273.03 142.66,274.75" fill="none" stroke="#fff" stroke-opacity="0.55" stroke-width="2.70" stroke-linejoin="round"/>
<polyline points="50.00,255.00 53.00,252.00 55.50,248.00 57.50,243.30 59.40,235.70 61.30,230.60 63.10,228.10 65.00,227.50 66.90,230.60 68.20,235.70 70.10,242.00 72.60,244.50 76.40,245.10 80.20,246.40 83.00,249.00 86.10,252.50 90.30,256.80 93.40,258.50 100.70,261.20 107.59,264.68 114.53,267.26 121.50,269.37 128.51,271.26 135.56,273.03 142.66,274.75" fill="none" stroke="#118833" stroke-width="0.9" stroke-linejoin="round"/>
<circle cx="51.20" cy="253.80" r="0.75" fill="#118833"/>
<circle cx="53.92" cy="250.53" r="0.75" fill="#118833"/>
<circle cx="56.63" cy="245.34" r="0.75" fill="#118833"/>
<circle cx="59.32" cy="236.02" r="0.75" fill="#118833"/>
<circle cx="62.08" cy="229.52" r="0.75" fill="#118833"/>
<circle cx="64.91" cy="227.53" r="0.75" fill="#118833"/>
<circle cx="67.82" cy="234.21" r="0.75" fill="#118833"/>
<circle cx="70.72" cy="242.62" r="0.75" fill="#118833"/>
<circle cx="73.58" cy="244.65" r="0.75" fill="#118833"/>
<circle cx="76.43" cy="245.11" r="0.75" fill="#118833"/>
<circle cx="79.29" cy="246.09" r="0.75" fill="#118833"/>
<circle cx="82.16" cy="248.22" r="0.75" fill="#118833"/>
<circle cx="85.02" cy="251.28" r="0.75" fill="#118833"/>
<circle cx="87.88" cy="254.32" r="0.75" fill="#118833"/>
<circle cx="90.74" cy="257.04" r="0.75" fill="#118833"/>
<circle cx="93.60" cy="258.58" r="0.75" fill="#118833"/>
<circle cx="96.48" cy="259.64" r="0.75" fill="#118833"/>
<circle cx="99.36" cy="260.71" r="0.75" fill="#118833"/>
<circle cx="102.25" cy="261.98" r="0.75" fill="#118833"/>
<circle cx="105.13" cy="263.44" r="0.75" fill="#118833"/>
<circle cx="108.02" cy="264.84" r="0.75" fill="#118833"/>
<circle cx="110.92" cy="265.92" r="0.75" fill="#118833"/>
<circle cx="113.82" cy="267.00" r="0.75" fill="#118833"/>
<circle cx="116.73" cy="267.93" r="0.75" fill="#118833"/>
<circle cx="119.65" cy="268.81" r="0.75" fill="#118833"/>
<circle cx="122.58" cy="269.66" r="0.75" fill="#118833"/>
<circle cx="125.51" cy="270.45" r="0.75" fill="#118833"/>
<circle cx="128.45" cy="271.24" r="0.75" fill="#118833"/>
<circle cx="131.40" cy="271.98" r="0.75" fill="#118833"/>
<circle cx="134.35" cy="272.73" r="0.75" fill="#118833"/>
<circle cx="137.31" cy="273.45" r="0.75" fill="#118833"/>
<circle cx="140.28" cy="274.17" r="0.75" fill="#118833"/>
<polyline points="34.00,259.60 45.87,262.41 57.85,265.24 69.94,268.09 82.14,270.98 94.45,273.89 106.88,276.82 119.43,279.79 132.09,282.78" fill="none" stroke="#fff" stroke-opacity="0.55" stroke-width="2.30" stroke-linejoin="round"/>
<polyline points="34.00,259.60 45.87,262.41 57.85,265.24 69.94,268.09 82.14,270.98 94.45,273.89 106.88,276.82 119.43,279.79 132.09,282.78" fill="none" stroke="#10b4be" stroke-width="0.5" stroke-linejoin="round" stroke-dasharray="0.8,1.6"/>
<circle cx="36.66" cy="260.23" r="1.05" fill="#10b4be"/>
<circle cx="39.33" cy="260.86" r="1.05" fill="#10b4be"/>
<circle cx="42.01" cy="261.50" r="1.05" fill="#10b4be"/>
<circle cx="44.69" cy="262.13" r="1.05" fill="#10b4be"/>
<circle cx="47.38" cy="262.76" r="1.05" fill="#10b4be"/>
<circle cx="50.08" cy="263.40" r="1.05" fill="#10b4be"/>
<circle cx="52.78" cy="264.04" r="1.05" fill="#10b4be"/>
<circle cx="55.48" cy="264.68" r="1.05" fill="#10b4be"/>
<circle cx="58.19" cy="265.32" r="1.05" fill="#10b4be"/>
<circle cx="60.91" cy="265.96" r="1.05" fill="#10b4be"/>
<circle cx="63.63" cy="266.60" r="1.05" fill="#10b4be"/>
<circle cx="66.36" cy="267.25" r="1.05" fill="#10b4be"/>
<circle cx="69.09" cy="267.89" r="1.05" fill="#10b4be"/>
<circle cx="71.83" cy="268.54" r="1.05" fill="#10b4be"/>
<circle cx="74.57" cy="269.19" r="1.05" fill="#10b4be"/>
<circle cx="77.32" cy="269.84" r="1.05" fill="#10b4be"/>
<circle cx="80.08" cy="270.49" r="1.05" fill="#10b4be"/>
<circle cx="82.84" cy="271.14" r="1.05" fill="#10b4be"/>
<circle cx="85.61" cy="271.80" r="1.05" fill="#10b4be"/>
<circle cx="88.38" cy="272.45" r="1.05" fill="#10b4be"/>
<circle cx="91.16" cy="273.11" r="1.05" fill="#10b4be"/>
<circle cx="93.95" cy="273.77" r="1.05" fill="#10b4be"/>
<circle cx="96.74" cy="274.43" r="1.05" fill="#10b4be"/>
<circle cx="99.53" cy="275.09" r="1.05" fill="#10b4be"/>
<circle cx="102.34" cy="275.75" r="1.05" fill="#10b4be"/>
<circle cx="105.14" cy="276.41" r="1.05" fill="#10b4be"/>
<circle cx="107.96" cy="277.08" r="1.05" fill="#10b4be"/>
<circle cx="110.78" cy="277.74" r="1.05" fill="#10b4be"/>
<circle cx="113.60" cy="278.41" r="1.05" fill="#10b4be"/>
<circle cx="116.44" cy="279.08" r="1.05" fill="#10b4be"/>
<circle cx="119.27" cy="279.75" r="1.05" fill="#10b4be"/>
<circle cx="122.12" cy="280.42" r="1.05" fill="#10b4be"/>
<circle cx="124.97" cy="281.10" r="1.05" fill="#10b4be"/>
<circle cx="127.82" cy="281.77" r="1.05" fill="#10b4be"/>
<circle cx="130.69" cy="282.45" r="1.05" fill="#10b4be"/>
<polyline points="36.00,262.00 38.50,253.00 40.40,247.00 42.30,238.20 44.20,228.70 46.10,231.90 48.60,236.90 50.50,240.70 53.00,247.00 56.00,253.00 60.00,258.00 64.00,261.00 75.15,266.49 86.36,270.60 97.65,274.03 109.03,277.11 120.51,280.02 132.09,282.86" fill="none" stroke="#fff" stroke-opacity="0.55" stroke-width="2.70" stroke-linejoin="round"/>
<polyline points="36.00,262.00 38.50,253.00 40.40,247.00 42.30,238.20 44.20,228.70 46.10,231.90 48.60,236.90 50.50,240.70 53.00,247.00 56.00,253.00 60.00,258.00 64.00,261.00 75.15,266.49 86.36,270.60 97.65,274.03 109.03,277.11 120.51,280.02 132.09,282.86" fill="none" stroke="#10b4be" stroke-width="0.9" stroke-linejoin="round" stroke-dasharray="2.2,1.3"/>
<polygon points="35.79,258.60 37.75,258.60 36.77,260.21" fill="#10b4be"/>
<polygon points="38.35,249.73 40.31,249.73 39.33,251.35" fill="#10b4be"/>
<polygon points="40.93,239.40 42.88,239.40 41.90,241.02" fill="#10b4be"/>
<polygon points="43.53,228.58 45.49,228.58 44.51,230.20" fill="#10b4be"/>
<polygon points="46.51,234.04 48.47,234.04 47.49,235.66" fill="#10b4be"/>
<polygon points="49.49,240.00 51.45,240.00 50.47,241.62" fill="#10b4be"/>
<polygon points="52.48,247.28 54.43,247.28 53.46,248.89" fill="#10b4be"/>
<polygon points="55.42,252.86 57.38,252.86 56.40,254.48" fill="#10b4be"/>
<polygon points="58.33,256.50 60.29,256.50 59.31,258.11" fill="#10b4be"/>
<polygon points="61.22,259.01 63.18,259.01 62.20,260.63" fill="#10b4be"/>
<polygon points="64.10,260.90 66.06,260.90 65.08,262.51" fill="#10b4be"/>
<polygon points="66.99,262.31 68.94,262.31 67.96,263.93" fill="#10b4be"/>
<polygon points="69.87,263.73 71.83,263.73 70.85,265.35" fill="#10b4be"/>
<polygon points="72.76,265.16 74.72,265.16 73.74,266.77" fill="#10b4be"/>
<polygon points="75.66,266.39 77.61,266.39 76.63,268.01" fill="#10b4be"/>
<polygon points="78.55,267.46 80.51,267.46 79.53,269.07" fill="#10b4be"/>
<polygon points="81.46,268.52 83.41,268.52 82.43,270.14" fill="#10b4be"/>
<polygon points="84.36,269.59 86.32,269.59 85.34,271.21" fill="#10b4be"/>
<polygon points="87.27,270.54 89.23,270.54 88.25,272.15" fill="#10b4be"/>
<polygon points="90.19,271.42 92.15,271.42 91.17,273.04" fill="#10b4be"/>
<polygon points="93.12,272.31 95.07,272.31 94.09,273.93" fill="#10b4be"/>
<polygon points="96.05,273.20 98.00,273.20 97.02,274.81" fill="#10b4be"/>
<polygon points="98.98,274.01 100.94,274.01 99.96,275.63" fill="#10b4be"/>
<polygon points="101.93,274.81 103.88,274.81 102.90,276.43" fill="#10b4be"/>
<polygon points="104.88,275.61 106.83,275.61 105.85,277.22" fill="#10b4be"/>
<polygon points="107.83,276.41 109.79,276.41 108.81,278.02" fill="#10b4be"/>
<polygon points="110.79,277.16 112.75,277.16 111.77,278.78" fill="#10b4be"/>
<polygon points="113.76,277.92 115.72,277.92 114.74,279.53" fill="#10b4be"/>
<polygon points="116.74,278.67 118.69,278.67 117.72,280.29" fill="#10b4be"/>
<polygon points="119.72,279.43 121.67,279.43 120.70,281.04" fill="#10b4be"/>
<polygon points="122.71,280.16 124.66,280.16 123.69,281.78" fill="#10b4be"/>
<polygon points="125.70,280.90 127.66,280.90 126.68,282.51" fill="#10b4be"/>
<polygon points="128.71,281.63 130.66,281.63 129.68,283.25" fill="#10b4be"/>
<polyline points="36.00,262.00 40.00,259.00 44.00,255.00 47.50,248.00 49.90,240.70 52.50,238.00 54.90,235.70 56.80,238.80 58.70,235.70 61.30,241.40 63.50,238.00 66.30,234.40 68.80,240.70 71.40,235.70 73.90,243.30 75.10,250.80 77.00,256.00 80.00,260.00 88.57,267.21 97.16,271.90 105.81,275.31 114.51,278.07 123.27,280.50 132.09,282.77" fill="none" stroke="#fff" stroke-opacity="0.55" stroke-width="2.70" stroke-linejoin="round"/>
<polyline points="36.00,262.00 40.00,259.00 44.00,255.00 47.50,248.00 49.90,240.70 52.50,238.00 54.90,235.70 56.80,238.80 58.70,235.70 61.30,241.40 63.50,238.00 66.30,234.40 68.80,240.70 71.40,235.70 73.90,243.30 75.10,250.80 77.00,256.00 80.00,260.00 88.57,267.21 97.16,271.90 105.81,275.31 114.51,278.07 123.27,280.50 132.09,282.77" fill="none" stroke="#10b4be" stroke-width="0.9" stroke-linejoin="round"/>
<circle cx="36.83" cy="261.38" r="0.75" fill="#10b4be"/>
<circle cx="39.56" cy="259.33" r="0.75" fill="#10b4be"/>
<circle cx="42.30" cy="256.70" r="0.75" fill="#10b4be"/>
<circle cx="45.03" cy="252.94" r="0.75" fill="#10b4be"/>
<circle cx="47.74" cy="247.26" r="0.75" fill="#10b4be"/>
<circle cx="50.46" cy="240.12" r="0.75" fill="#10b4be"/>
<circle cx="53.28" cy="237.25" r="0.75" fill="#10b4be"/>
<circle cx="56.17" cy="237.78" r="0.75" fill="#10b4be"/>
<circle cx="59.05" cy="236.46" r="0.75" fill="#10b4be"/>
<circle cx="61.99" cy="240.33" r="0.75" fill="#10b4be"/>
<circle cx="64.86" cy="236.25" r="0.75" fill="#10b4be"/>
<circle cx="67.79" cy="238.17" r="0.75" fill="#10b4be"/>
<circle cx="70.71" cy="237.02" r="0.75" fill="#10b4be"/>
<circle cx="73.67" cy="242.60" r="0.75" fill="#10b4be"/>
<circle cx="76.62" cy="254.96" r="0.75" fill="#10b4be"/>
<circle cx="79.54" cy="259.38" r="0.75" fill="#10b4be"/>
<circle cx="82.45" cy="262.06" r="0.75" fill="#10b4be"/>
<circle cx="85.37" cy="264.52" r="0.75" fill="#10b4be"/>
<circle cx="88.28" cy="266.97" r="0.75" fill="#10b4be"/>
<circle cx="91.20" cy="268.65" r="0.75" fill="#10b4be"/>
<circle cx="94.12" cy="270.24" r="0.75" fill="#10b4be"/>
<circle cx="97.05" cy="271.84" r="0.75" fill="#10b4be"/>
<circle cx="99.98" cy="273.01" r="0.75" fill="#10b4be"/>
<circle cx="102.93" cy="274.17" r="0.75" fill="#10b4be"/>
<circle cx="105.87" cy="275.33" r="0.75" fill="#10b4be"/>
<circle cx="108.82" cy="276.27" r="0.75" fill="#10b4be"/>
<circle cx="111.78" cy="277.20" r="0.75" fill="#10b4be"/>
<circle cx="114.75" cy="278.14" r="0.75" fill="#10b4be"/>
<circle cx="117.72" cy="278.96" r="0.75" fill="#10b4be"/>
<circle cx="120.70" cy="279.79" r="0.75" fill="#10b4be"/>
<circle cx="123.69" cy="280.61" r="0.75" fill="#10b4be"/>
<circle cx="126.69" cy="281.38" r="0.75" fill="#10b4be"/>
<circle cx="129.69" cy="282.15" r="0.75" fill="#10b4be"/>
<polyline points="21.99,267.32 33.98,270.21 46.09,273.12 58.32,276.05 70.66,279.02 83.11,282.01 95.68,285.03 108.37,288.09 121.19,291.16" fill="none" stroke="#fff" stroke-opacity="0.55" stroke-width="2.30" stroke-linejoin="round"/>
<polyline points="21.99,267.32 33.98,270.21 46.09,273.12 58.32,276.05 70.66,279.02 83.11,282.01 95.68,285.03 108.37,288.09 121.19,291.16" fill="none" stroke="#000000" stroke-width="0.5" stroke-linejoin="round" stroke-dasharray="0.8,1.6"/>
<circle cx="21.99" cy="267.32" r="1.05" fill="#000000"/>
<circle cx="24.68" cy="267.97" r="1.05" fill="#000000"/>
<circle cx="27.38" cy="268.62" r="1.05" fill="#000000"/>
<circle cx="30.09" cy="269.27" r="1.05" fill="#000000"/>
<circle cx="32.80" cy="269.92" r="1.05" fill="#000000"/>
<circle cx="35.52" cy="270.57" r="1.05" fill="#000000"/>
<circle cx="38.24" cy="271.23" r="1.05" fill="#000000"/>
<circle cx="40.97" cy="271.88" r="1.05" fill="#000000"/>
<circle cx="43.70" cy="272.54" r="1.05" fill="#000000"/>
<circle cx="46.44" cy="273.20" r="1.05" fill="#000000"/>
<circle cx="49.19" cy="273.86" r="1.05" fill="#000000"/>
<circle cx="51.94" cy="274.52" r="1.05" fill="#000000"/>
<circle cx="54.70" cy="275.18" r="1.05" fill="#000000"/>
<circle cx="57.46" cy="275.85" r="1.05" fill="#000000"/>
<circle cx="60.23" cy="276.51" r="1.05" fill="#000000"/>
<circle cx="63.01" cy="277.18" r="1.05" fill="#000000"/>
<circle cx="65.79" cy="277.85" r="1.05" fill="#000000"/>
<circle cx="68.58" cy="278.52" r="1.05" fill="#000000"/>
<circle cx="71.37" cy="279.19" r="1.05" fill="#000000"/>
<circle cx="74.17" cy="279.86" r="1.05" fill="#000000"/>
<circle cx="76.97" cy="280.54" r="1.05" fill="#000000"/>
<circle cx="79.78" cy="281.21" r="1.05" fill="#000000"/>
<circle cx="82.60" cy="281.89" r="1.05" fill="#000000"/>
<circle cx="85.42" cy="282.57" r="1.05" fill="#000000"/>
<circle cx="88.25" cy="283.25" r="1.05" fill="#000000"/>
<circle cx="91.08" cy="283.93" r="1.05" fill="#000000"/>
<circle cx="93.92" cy="284.61" r="1.05" fill="#000000"/>
<circle cx="96.77" cy="285.30" r="1.05" fill="#000000"/>
<circle cx="99.62" cy="285.98" r="1.05" fill="#000000"/>
<circle cx="102.48" cy="286.67" r="1.05" fill="#000000"/>
<circle cx="105.35" cy="287.36" r="1.05" fill="#000000"/>
<circle cx="108.22" cy="288.05" r="1.05" fill="#000000"/>
<circle cx="111.10" cy="288.74" r="1.05" fill="#000000"/>
<circle cx="113.98" cy="289.43" r="1.05" fill="#000000"/>
<circle cx="116.87" cy="290.13" r="1.05" fill="#000000"/>
<circle cx="119.77" cy="290.82" r="1.05" fill="#000000"/>
<polyline points="26.00,267.00 30.10,262.00 32.60,254.00 35.10,244.50 37.50,250.00 40.00,256.00 43.00,262.00 45.90,267.00 48.40,265.10 50.50,268.00 53.00,272.00 56.00,274.00 66.66,277.39 77.39,280.40 88.21,283.22 99.11,285.95 110.10,288.65 121.18,291.35" fill="none" stroke="#fff" stroke-opacity="0.55" stroke-width="2.70" stroke-linejoin="round"/>
<polyline points="26.00,267.00 30.10,262.00 32.60,254.00 35.10,244.50 37.50,250.00 40.00,256.00 43.00,262.00 45.90,267.00 48.40,265.10 50.50,268.00 53.00,272.00 56.00,274.00 66.66,277.39 77.39,280.40 88.21,283.22 99.11,285.95 110.10,288.65 121.18,291.35" fill="none" stroke="#000000" stroke-width="0.9" stroke-linejoin="round" stroke-dasharray="2.2,1.3"/>
<polygon points="26.55,264.49 28.51,264.49 27.53,266.11" fill="#000000"/>
<polygon points="29.27,260.90 31.22,260.90 30.25,262.51" fill="#000000"/>
<polygon points="31.86,252.46 33.81,252.46 32.84,254.08" fill="#000000"/>
<polygon points="34.51,244.75 36.47,244.75 35.49,246.37" fill="#000000"/>
<polygon points="37.59,251.92 39.54,251.92 38.57,253.54" fill="#000000"/>
<polygon points="40.64,258.59 42.59,258.59 41.61,260.20" fill="#000000"/>
<polygon points="43.64,264.16 45.60,264.16 44.62,265.77" fill="#000000"/>
<polygon points="46.54,265.13 48.50,265.13 47.52,266.75" fill="#000000"/>
<polygon points="49.47,267.29 51.43,267.29 50.45,268.91" fill="#000000"/>
<polygon points="52.44,271.64 54.39,271.64 53.41,273.25" fill="#000000"/>
<polygon points="55.36,273.47 57.31,273.47 56.34,275.08" fill="#000000"/>
<polygon points="58.27,274.40 60.22,274.40 59.25,276.01" fill="#000000"/>
<polygon points="61.19,275.32 63.14,275.32 62.16,276.94" fill="#000000"/>
<polygon points="64.11,276.25 66.06,276.25 65.09,277.87" fill="#000000"/>
<polygon points="67.04,277.13 68.99,277.13 68.01,278.75" fill="#000000"/>
<polygon points="69.97,277.95 71.92,277.95 70.95,279.57" fill="#000000"/>
<polygon points="72.91,278.78 74.86,278.78 73.89,280.39" fill="#000000"/>
<polygon points="75.85,279.60 77.81,279.60 76.83,281.22" fill="#000000"/>
<polygon points="78.80,280.38 80.76,280.38 79.78,282.00" fill="#000000"/>
<polygon points="81.76,281.15 83.72,281.15 82.74,282.77" fill="#000000"/>
<polygon points="84.73,281.93 86.68,281.93 85.70,283.54" fill="#000000"/>
<polygon points="87.70,282.70 89.65,282.70 88.67,284.31" fill="#000000"/>
<polygon points="90.67,283.44 92.63,283.44 91.65,285.06" fill="#000000"/>
<polygon points="93.66,284.19 95.61,284.19 94.64,285.81" fill="#000000"/>
<polygon points="96.65,284.94 98.60,284.94 97.63,286.56" fill="#000000"/>
<polygon points="99.64,285.69 101.60,285.69 100.62,287.30" fill="#000000"/>
<polygon points="102.65,286.42 104.60,286.42 103.63,288.04" fill="#000000"/>
<polygon points="105.66,287.16 107.61,287.16 106.64,288.78" fill="#000000"/>
<polygon points="108.68,287.91 110.63,287.91 109.65,289.52" fill="#000000"/>
<polygon points="111.70,288.64 113.66,288.64 112.68,290.26" fill="#000000"/>
<polygon points="114.73,289.38 116.69,289.38 115.71,290.99" fill="#000000"/>
<polygon points="117.77,290.12 119.72,290.12 118.75,291.73" fill="#000000"/>
<polyline points="24.70,267.00 27.50,263.00 30.90,256.50 33.30,250.00 35.10,243.10 37.70,246.80 40.20,251.30 42.70,255.70 44.60,260.70 47.10,254.40 50.90,244.30 53.50,248.10 56.00,253.00 59.00,262.00 62.20,271.10 66.00,275.00 75.06,278.69 84.16,281.65 93.32,284.26 102.54,286.68 111.83,289.02 121.18,291.32" fill="none" stroke="#fff" stroke-opacity="0.55" stroke-width="2.70" stroke-linejoin="round"/>
<polyline points="24.70,267.00 27.50,263.00 30.90,256.50 33.30,250.00 35.10,243.10 37.70,246.80 40.20,251.30 42.70,255.70 44.60,260.70 47.10,254.40 50.90,244.30 53.50,248.10 56.00,253.00 59.00,262.00 62.20,271.10 66.00,275.00 75.06,278.69 84.16,281.65 93.32,284.26 102.54,286.68 111.83,289.02 121.18,291.32" fill="none" stroke="#000000" stroke-width="0.9" stroke-linejoin="round"/>
<circle cx="24.78" cy="266.89" r="0.75" fill="#000000"/>
<circle cx="27.46" cy="263.05" r="0.75" fill="#000000"/>
<circle cx="30.13" cy="257.97" r="0.75" fill="#000000"/>
<circle cx="32.79" cy="251.39" r="0.75" fill="#000000"/>
<circle cx="35.44" cy="243.58" r="0.75" fill="#000000"/>
<circle cx="38.45" cy="248.15" r="0.75" fill="#000000"/>
<circle cx="41.48" cy="253.55" r="0.75" fill="#000000"/>
<circle cx="44.52" cy="260.50" r="0.75" fill="#000000"/>
<circle cx="47.28" cy="253.92" r="0.75" fill="#000000"/>
<circle cx="50.05" cy="246.55" r="0.75" fill="#000000"/>
<circle cx="53.00" cy="247.37" r="0.75" fill="#000000"/>
<circle cx="56.03" cy="253.08" r="0.75" fill="#000000"/>
<circle cx="59.08" cy="262.24" r="0.75" fill="#000000"/>
<circle cx="62.11" cy="270.84" r="0.75" fill="#000000"/>
<circle cx="65.06" cy="274.04" r="0.75" fill="#000000"/>
<circle cx="68.00" cy="275.81" r="0.75" fill="#000000"/>
<circle cx="70.94" cy="277.01" r="0.75" fill="#000000"/>
<circle cx="73.88" cy="278.21" r="0.75" fill="#000000"/>
<circle cx="76.83" cy="279.27" r="0.75" fill="#000000"/>
<circle cx="79.78" cy="280.23" r="0.75" fill="#000000"/>
<circle cx="82.74" cy="281.19" r="0.75" fill="#000000"/>
<circle cx="85.71" cy="282.09" r="0.75" fill="#000000"/>
<circle cx="88.68" cy="282.94" r="0.75" fill="#000000"/>
<circle cx="91.65" cy="283.78" r="0.75" fill="#000000"/>
<circle cx="94.64" cy="284.60" r="0.75" fill="#000000"/>
<circle cx="97.63" cy="285.39" r="0.75" fill="#000000"/>
<circle cx="100.62" cy="286.17" r="0.75" fill="#000000"/>
<circle cx="103.63" cy="286.95" r="0.75" fill="#000000"/>
<circle cx="106.64" cy="287.71" r="0.75" fill="#000000"/>
<circle cx="109.66" cy="288.47" r="0.75" fill="#000000"/>
<circle cx="112.68" cy="289.23" r="0.75" fill="#000000"/>
<circle cx="115.71" cy="289.97" r="0.75" fill="#000000"/>
<circle cx="118.75" cy="290.72" r="0.75" fill="#000000"/>
<polyline points="9.60,275.36 21.73,278.33 33.97,281.32 46.33,284.34 58.81,287.40 71.40,290.48 84.12,293.59 96.96,296.73 109.93,299.90" fill="none" stroke="#fff" stroke-opacity="0.55" stroke-width="2.30" stroke-linejoin="round"/>
<polyline points="9.60,275.36 21.73,278.33 33.97,281.32 46.33,284.34 58.81,287.40 71.40,290.48 84.12,293.59 96.96,296.73 109.93,299.90" fill="none" stroke="#a820a8" stroke-width="0.5" stroke-linejoin="round" stroke-dasharray="0.8,1.6"/>
<circle cx="12.33" cy="276.02" r="1.05" fill="#a820a8"/>
<circle cx="15.06" cy="276.69" r="1.05" fill="#a820a8"/>
<circle cx="17.79" cy="277.36" r="1.05" fill="#a820a8"/>
<circle cx="20.53" cy="278.03" r="1.05" fill="#a820a8"/>
<circle cx="23.28" cy="278.70" r="1.05" fill="#a820a8"/>
<circle cx="26.03" cy="279.38" r="1.05" fill="#a820a8"/>
<circle cx="28.79" cy="280.05" r="1.05" fill="#a820a8"/>
<circle cx="31.56" cy="280.73" r="1.05" fill="#a820a8"/>
<circle cx="34.33" cy="281.41" r="1.05" fill="#a820a8"/>
<circle cx="37.10" cy="282.09" r="1.05" fill="#a820a8"/>
<circle cx="39.89" cy="282.77" r="1.05" fill="#a820a8"/>
<circle cx="42.67" cy="283.45" r="1.05" fill="#a820a8"/>
<circle cx="45.47" cy="284.13" r="1.05" fill="#a820a8"/>
<circle cx="48.27" cy="284.82" r="1.05" fill="#a820a8"/>
<circle cx="51.07" cy="285.50" r="1.05" fill="#a820a8"/>
<circle cx="53.89" cy="286.19" r="1.05" fill="#a820a8"/>
<circle cx="56.71" cy="286.88" r="1.05" fill="#a820a8"/>
<circle cx="59.53" cy="287.57" r="1.05" fill="#a820a8"/>
<circle cx="62.36" cy="288.26" r="1.05" fill="#a820a8"/>
<circle cx="65.20" cy="288.96" r="1.05" fill="#a820a8"/>
<circle cx="68.04" cy="289.65" r="1.05" fill="#a820a8"/>
<circle cx="70.89" cy="290.35" r="1.05" fill="#a820a8"/>
<circle cx="73.74" cy="291.05" r="1.05" fill="#a820a8"/>
<circle cx="76.60" cy="291.75" r="1.05" fill="#a820a8"/>
<circle cx="79.47" cy="292.45" r="1.05" fill="#a820a8"/>
<circle cx="82.34" cy="293.15" r="1.05" fill="#a820a8"/>
<circle cx="85.22" cy="293.86" r="1.05" fill="#a820a8"/>
<circle cx="88.11" cy="294.56" r="1.05" fill="#a820a8"/>
<circle cx="91.00" cy="295.27" r="1.05" fill="#a820a8"/>
<circle cx="93.90" cy="295.98" r="1.05" fill="#a820a8"/>
<circle cx="96.81" cy="296.69" r="1.05" fill="#a820a8"/>
<circle cx="99.72" cy="297.40" r="1.05" fill="#a820a8"/>
<circle cx="102.63" cy="298.12" r="1.05" fill="#a820a8"/>
<circle cx="105.56" cy="298.83" r="1.05" fill="#a820a8"/>
<circle cx="108.49" cy="299.55" r="1.05" fill="#a820a8"/>
<polyline points="13.00,276.00 17.50,270.00 20.00,263.00 22.50,257.00 26.30,248.70 27.60,254.40 28.80,260.10 30.10,264.50 31.40,268.30 33.00,272.00 36.50,275.00 40.20,277.10 43.30,272.90 46.00,276.00 50.00,280.00 59.85,285.07 69.74,288.85 79.68,291.98 89.68,294.79 99.77,297.45 109.92,300.03" fill="none" stroke="#fff" stroke-opacity="0.55" stroke-width="2.70" stroke-linejoin="round"/>
<polyline points="13.00,276.00 17.50,270.00 20.00,263.00 22.50,257.00 26.30,248.70 27.60,254.40 28.80,260.10 30.10,264.50 31.40,268.30 33.00,272.00 36.50,275.00 40.20,277.10 43.30,272.90 46.00,276.00 50.00,280.00 59.85,285.07 69.74,288.85 79.68,291.98 89.68,294.79 99.77,297.45 109.92,300.03" fill="none" stroke="#a820a8" stroke-width="0.9" stroke-linejoin="round" stroke-dasharray="2.2,1.3"/>
<polygon points="14.20,272.46 16.15,272.46 15.18,274.08" fill="#a820a8"/>
<polygon points="16.89,268.34 18.84,268.34 17.86,269.96" fill="#a820a8"/>
<polygon points="19.48,261.26 21.44,261.26 20.46,262.87" fill="#a820a8"/>
<polygon points="22.15,255.00 24.10,255.00 23.13,256.61" fill="#a820a8"/>
<polygon points="24.86,249.08 26.81,249.08 25.83,250.69" fill="#a820a8"/>
<polygon points="28.16,260.62 30.12,260.62 29.14,262.23" fill="#a820a8"/>
<polygon points="31.37,269.84 33.32,269.84 32.34,271.46" fill="#a820a8"/>
<polygon points="34.38,273.38 36.33,273.38 35.36,275.00" fill="#a820a8"/>
<polygon points="37.35,275.40 39.30,275.40 38.32,277.01" fill="#a820a8"/>
<polygon points="40.26,275.06 42.21,275.06 41.23,276.68" fill="#a820a8"/>
<polygon points="43.14,273.21 45.10,273.21 44.12,274.82" fill="#a820a8"/>
<polygon points="46.16,276.50 48.11,276.50 47.13,278.11" fill="#a820a8"/>
<polygon points="49.16,279.43 51.11,279.43 50.13,281.05" fill="#a820a8"/>
<polygon points="52.13,280.96 54.09,280.96 53.11,282.58" fill="#a820a8"/>
<polygon points="55.11,282.49 57.06,282.49 56.09,284.11" fill="#a820a8"/>
<polygon points="58.09,284.03 60.05,284.03 59.07,285.64" fill="#a820a8"/>
<polygon points="61.07,285.27 63.03,285.27 62.05,286.89" fill="#a820a8"/>
<polygon points="64.06,286.41 66.02,286.41 65.04,288.03" fill="#a820a8"/>
<polygon points="67.05,287.56 69.01,287.56 68.03,289.17" fill="#a820a8"/>
<polygon points="70.05,288.62 72.00,288.62 71.02,290.23" fill="#a820a8"/>
<polygon points="73.05,289.56 75.00,289.56 74.03,291.18" fill="#a820a8"/>
<polygon points="76.06,290.51 78.01,290.51 77.03,292.13" fill="#a820a8"/>
<polygon points="79.07,291.45 81.02,291.45 80.05,293.06" fill="#a820a8"/>
<polygon points="82.09,292.30 84.04,292.30 83.06,293.91" fill="#a820a8"/>
<polygon points="85.11,293.15 87.07,293.15 86.09,294.76" fill="#a820a8"/>
<polygon points="88.15,294.00 90.10,294.00 89.12,295.61" fill="#a820a8"/>
<polygon points="91.18,294.81 93.14,294.81 92.16,296.42" fill="#a820a8"/>
<polygon points="94.23,295.61 96.19,295.61 95.21,297.23" fill="#a820a8"/>
<polygon points="97.28,296.41 99.24,296.41 98.26,298.03" fill="#a820a8"/>
<polygon points="100.34,297.21 102.30,297.21 101.32,298.82" fill="#a820a8"/>
<polygon points="103.41,297.98 105.36,297.98 104.39,299.60" fill="#a820a8"/>
<polygon points="106.48,298.77 108.44,298.77 107.46,300.38" fill="#a820a8"/>
<polyline points="11.80,275.20 14.30,275.90 17.50,269.60 20.00,262.00 23.80,255.70 28.20,264.50 32.60,274.00 35.80,267.00 37.70,259.50 39.60,256.90 42.10,260.70 44.60,268.30 47.50,271.90 50.50,276.00 54.80,281.30 63.87,286.12 72.97,289.67 82.12,292.60 91.32,295.21 100.59,297.65 109.92,300.03" fill="none" stroke="#fff" stroke-opacity="0.55" stroke-width="2.70" stroke-linejoin="round"/>
<polyline points="11.80,275.20 14.30,275.90 17.50,269.60 20.00,262.00 23.80,255.70 28.20,264.50 32.60,274.00 35.80,267.00 37.70,259.50 39.60,256.90 42.10,260.70 44.60,268.30 47.50,271.90 50.50,276.00 54.80,281.30 63.87,286.12 72.97,289.67 82.12,292.60 91.32,295.21 100.59,297.65 109.92,300.03" fill="none" stroke="#a820a8" stroke-width="0.9" stroke-linejoin="round"/>
<circle cx="12.43" cy="275.38" r="0.75" fill="#a820a8"/>
<circle cx="15.22" cy="274.09" r="0.75" fill="#a820a8"/>
<circle cx="17.85" cy="268.55" r="0.75" fill="#a820a8"/>
<circle cx="20.44" cy="261.27" r="0.75" fill="#a820a8"/>
<circle cx="23.17" cy="256.75" r="0.75" fill="#a820a8"/>
<circle cx="26.21" cy="260.51" r="0.75" fill="#a820a8"/>
<circle cx="29.33" cy="266.93" r="0.75" fill="#a820a8"/>
<circle cx="32.44" cy="273.65" r="0.75" fill="#a820a8"/>
<circle cx="35.19" cy="268.33" r="0.75" fill="#a820a8"/>
<circle cx="37.88" cy="259.26" r="0.75" fill="#a820a8"/>
<circle cx="40.82" cy="258.75" r="0.75" fill="#a820a8"/>
<circle cx="43.95" cy="266.33" r="0.75" fill="#a820a8"/>
<circle cx="47.01" cy="271.29" r="0.75" fill="#a820a8"/>
<circle cx="50.05" cy="275.38" r="0.75" fill="#a820a8"/>
<circle cx="53.07" cy="279.16" r="0.75" fill="#a820a8"/>
<circle cx="56.07" cy="281.97" r="0.75" fill="#a820a8"/>
<circle cx="59.05" cy="283.56" r="0.75" fill="#a820a8"/>
<circle cx="62.04" cy="285.14" r="0.75" fill="#a820a8"/>
<circle cx="65.03" cy="286.57" r="0.75" fill="#a820a8"/>
<circle cx="68.03" cy="287.74" r="0.75" fill="#a820a8"/>
<circle cx="71.02" cy="288.91" r="0.75" fill="#a820a8"/>
<circle cx="74.03" cy="290.01" r="0.75" fill="#a820a8"/>
<circle cx="77.03" cy="290.97" r="0.75" fill="#a820a8"/>
<circle cx="80.05" cy="291.94" r="0.75" fill="#a820a8"/>
<circle cx="83.07" cy="292.87" r="0.75" fill="#a820a8"/>
<circle cx="86.09" cy="293.72" r="0.75" fill="#a820a8"/>
<circle cx="89.12" cy="294.58" r="0.75" fill="#a820a8"/>
<circle cx="92.16" cy="295.43" r="0.75" fill="#a820a8"/>
<circle cx="95.21" cy="296.23" r="0.75" fill="#a820a8"/>
<circle cx="98.26" cy="297.04" r="0.75" fill="#a820a8"/>
<circle cx="101.32" cy="297.84" r="0.75" fill="#a820a8"/>
<circle cx="104.39" cy="298.62" r="0.75" fill="#a820a8"/>
<circle cx="107.46" cy="299.40" r="0.75" fill="#a820a8"/>
<polygon points="201.71,277.52 259.95,238.83 259.44,163.67 198.08,198.30" fill="#f8f8f8"/>
<polygon points="259.95,238.83 354.78,260.20 359.05,183.29 259.44,163.67" fill="#f3f3f3"/>
<polygon points="201.71,277.52 301.88,302.11 354.78,260.20 259.95,238.83" fill="#f5f5f5"/>
<line x1="203.90" y1="278.06" x2="262.03" y2="239.30" stroke="#e8e8e8" stroke-width="0.6" />
<line x1="262.03" y1="239.30" x2="261.62" y2="164.10" stroke="#e8e8e8" stroke-width="0.6" />
<line x1="223.09" y1="282.77" x2="280.24" y2="243.40" stroke="#e8e8e8" stroke-width="0.6" />
<line x1="280.24" y1="243.40" x2="280.72" y2="167.87" stroke="#e8e8e8" stroke-width="0.6" />
<line x1="242.57" y1="287.55" x2="298.70" y2="247.56" stroke="#e8e8e8" stroke-width="0.6" />
<line x1="298.70" y1="247.56" x2="300.10" y2="171.68" stroke="#e8e8e8" stroke-width="0.6" />
<line x1="262.34" y1="292.40" x2="317.41" y2="251.78" stroke="#e8e8e8" stroke-width="0.6" />
<line x1="317.41" y1="251.78" x2="319.76" y2="175.55" stroke="#e8e8e8" stroke-width="0.6" />
<line x1="282.42" y1="297.33" x2="336.39" y2="256.06" stroke="#e8e8e8" stroke-width="0.6" />
<line x1="336.39" y1="256.06" x2="339.71" y2="179.48" stroke="#e8e8e8" stroke-width="0.6" />
<line x1="201.71" y1="277.52" x2="301.88" y2="302.11" stroke="#e8e8e8" stroke-width="0.6" />
<line x1="201.71" y1="277.52" x2="198.08" y2="198.30" stroke="#e8e8e8" stroke-width="0.6" />
<line x1="214.06" y1="269.31" x2="313.13" y2="293.20" stroke="#e8e8e8" stroke-width="0.6" />
<line x1="214.06" y1="269.31" x2="211.14" y2="190.93" stroke="#e8e8e8" stroke-width="0.6" />
<line x1="226.05" y1="261.35" x2="324.02" y2="284.57" stroke="#e8e8e8" stroke-width="0.6" />
<line x1="226.05" y1="261.35" x2="223.78" y2="183.80" stroke="#e8e8e8" stroke-width="0.6" />
<line x1="237.68" y1="253.62" x2="334.59" y2="276.20" stroke="#e8e8e8" stroke-width="0.6" />
<line x1="237.68" y1="253.62" x2="236.04" y2="176.88" stroke="#e8e8e8" stroke-width="0.6" />
<line x1="248.98" y1="246.12" x2="344.84" y2="268.08" stroke="#e8e8e8" stroke-width="0.6" />
<line x1="248.98" y1="246.12" x2="247.92" y2="170.18" stroke="#e8e8e8" stroke-width="0.6" />
<line x1="259.95" y1="238.83" x2="354.78" y2="260.20" stroke="#e8e8e8" stroke-width="0.6" />
<line x1="259.95" y1="238.83" x2="259.44" y2="163.67" stroke="#e8e8e8" stroke-width="0.6" />
<line x1="201.71" y1="277.52" x2="259.95" y2="238.83" stroke="#e8e8e8" stroke-width="0.6" />
<line x1="259.95" y1="238.83" x2="354.78" y2="260.20" stroke="#e8e8e8" stroke-width="0.6" />
<line x1="201.28" y1="268.28" x2="259.89" y2="230.03" stroke="#e8e8e8" stroke-width="0.6" />
<line x1="259.89" y1="230.03" x2="355.28" y2="251.21" stroke="#e8e8e8" stroke-width="0.6" />
<line x1="200.86" y1="258.92" x2="259.83" y2="221.13" stroke="#e8e8e8" stroke-width="0.6" />
<line x1="259.83" y1="221.13" x2="355.78" y2="242.12" stroke="#e8e8e8" stroke-width="0.6" />
<line x1="200.42" y1="249.45" x2="259.77" y2="212.13" stroke="#e8e8e8" stroke-width="0.6" />
<line x1="259.77" y1="212.13" x2="356.29" y2="232.91" stroke="#e8e8e8" stroke-width="0.6" />
<line x1="199.98" y1="239.85" x2="259.71" y2="203.02" stroke="#e8e8e8" stroke-width="0.6" />
<line x1="259.71" y1="203.02" x2="356.81" y2="223.60" stroke="#e8e8e8" stroke-width="0.6" />
<line x1="199.54" y1="230.14" x2="259.64" y2="193.81" stroke="#e8e8e8" stroke-width="0.6" />
<line x1="259.64" y1="193.81" x2="357.34" y2="214.17" stroke="#e8e8e8" stroke-width="0.6" />
<line x1="199.09" y1="220.30" x2="259.58" y2="184.49" stroke="#e8e8e8" stroke-width="0.6" />
<line x1="259.58" y1="184.49" x2="357.87" y2="204.62" stroke="#e8e8e8" stroke-width="0.6" />
<line x1="198.63" y1="210.34" x2="259.52" y2="175.06" stroke="#e8e8e8" stroke-width="0.6" />
<line x1="259.52" y1="175.06" x2="358.40" y2="194.96" stroke="#e8e8e8" stroke-width="0.6" />
<line x1="198.17" y1="200.25" x2="259.45" y2="165.51" stroke="#e8e8e8" stroke-width="0.6" />
<line x1="259.45" y1="165.51" x2="358.95" y2="185.18" stroke="#e8e8e8" stroke-width="0.6" />
<line x1="201.71" y1="277.52" x2="301.88" y2="302.11" stroke="#333" stroke-width="0.7" />
<line x1="301.88" y1="302.11" x2="354.78" y2="260.20" stroke="#333" stroke-width="0.7" />
<line x1="354.78" y1="260.20" x2="359.05" y2="183.29" stroke="#333" stroke-width="0.7" />
<line x1="203.60" y1="277.26" x2="204.20" y2="279.26" stroke="#333" stroke-width="0.7" />
<line x1="222.79" y1="281.97" x2="223.39" y2="283.97" stroke="#333" stroke-width="0.7" />
<line x1="242.27" y1="286.75" x2="242.87" y2="288.75" stroke="#333" stroke-width="0.7" />
<line x1="262.04" y1="291.60" x2="262.64" y2="293.60" stroke="#333" stroke-width="0.7" />
<line x1="282.12" y1="296.53" x2="282.72" y2="298.53" stroke="#333" stroke-width="0.7" />
<line x1="302.50" y1="301.54" x2="303.10" y2="303.54" stroke="#333" stroke-width="0.7" />
<line x1="301.68" y1="301.11" x2="302.48" y2="303.31" stroke="#333" stroke-width="0.7" />
<line x1="312.93" y1="292.20" x2="313.73" y2="294.40" stroke="#333" stroke-width="0.7" />
<line x1="323.82" y1="283.57" x2="324.62" y2="285.77" stroke="#333" stroke-width="0.7" />
<line x1="334.39" y1="275.20" x2="335.19" y2="277.40" stroke="#333" stroke-width="0.7" />
<line x1="344.64" y1="267.08" x2="345.44" y2="269.28" stroke="#333" stroke-width="0.7" />
<line x1="354.58" y1="259.20" x2="355.38" y2="261.40" stroke="#333" stroke-width="0.7" />
<line x1="353.78" y1="260.30" x2="356.38" y2="260.10" stroke="#333" stroke-width="0.7" />
<line x1="354.28" y1="251.31" x2="356.88" y2="251.11" stroke="#333" stroke-width="0.7" />
<line x1="354.78" y1="242.22" x2="357.38" y2="242.02" stroke="#333" stroke-width="0.7" />
<line x1="355.29" y1="233.01" x2="357.89" y2="232.81" stroke="#333" stroke-width="0.7" />
<line x1="355.81" y1="223.70" x2="358.41" y2="223.50" stroke="#333" stroke-width="0.7" />
<line x1="356.34" y1="214.27" x2="358.94" y2="214.07" stroke="#333" stroke-width="0.7" />
<line x1="356.87" y1="204.72" x2="359.47" y2="204.52" stroke="#333" stroke-width="0.7" />
<line x1="357.40" y1="195.06" x2="360.00" y2="194.86" stroke="#333" stroke-width="0.7" />
<line x1="357.95" y1="185.28" x2="360.55" y2="185.08" stroke="#333" stroke-width="0.7" />
<text x="195.60" y="288.90" font-family="Liberation Serif" font-size="6.6" class="t2" textLength="5.4" lengthAdjust="spacingAndGlyphs">10</text>
<text x="201.20" y="286.10" font-family="Liberation Serif" font-size="4.4" class="t1">−2</text>
<text x="214.80" y="293.90" font-family="Liberation Serif" font-size="6.6" class="t2" textLength="5.4" lengthAdjust="spacingAndGlyphs">10</text>
<text x="220.40" y="291.10" font-family="Liberation Serif" font-size="4.4" class="t1">−1</text>
<text x="235.80" y="298.60" font-family="Liberation Serif" font-size="6.6" class="t2" textLength="5.4" lengthAdjust="spacingAndGlyphs">10</text>
<text x="241.40" y="295.80" font-family="Liberation Serif" font-size="4.4" class="t1">0</text>
<text x="255.60" y="303.60" font-family="Liberation Serif" font-size="6.6" class="t2" textLength="5.4" lengthAdjust="spacingAndGlyphs">10</text>
<text x="261.20" y="300.80" font-family="Liberation Serif" font-size="4.4" class="t1">1</text>
<text x="276.00" y="308.60" font-family="Liberation Serif" font-size="6.6" class="t2" textLength="5.4" lengthAdjust="spacingAndGlyphs">10</text>
<text x="281.60" y="305.80" font-family="Liberation Serif" font-size="4.4" class="t1">2</text>
<text x="296.60" y="313.90" font-family="Liberation Serif" font-size="6.6" class="t2" textLength="5.4" lengthAdjust="spacingAndGlyphs">10</text>
<text x="302.20" y="311.10" font-family="Liberation Serif" font-size="4.4" class="t1">3</text>
<text x="306.60" y="312.40" font-family="Liberation Serif" font-size="6.8" class="t2" textLength="3.2" lengthAdjust="spacingAndGlyphs">0</text>
<text x="316.00" y="302.80" font-family="Liberation Serif" font-size="6.8" class="t2" textLength="6.4" lengthAdjust="spacingAndGlyphs">10</text>
<text x="327.00" y="294.90" font-family="Liberation Serif" font-size="6.8" class="t2" textLength="6.4" lengthAdjust="spacingAndGlyphs">20</text>
<text x="337.30" y="286.20" font-family="Liberation Serif" font-size="6.8" class="t2" textLength="6.4" lengthAdjust="spacingAndGlyphs">30</text>
<text x="346.40" y="278.30" font-family="Liberation Serif" font-size="6.8" class="t2" textLength="6.4" lengthAdjust="spacingAndGlyphs">40</text>
<text x="355.90" y="270.40" font-family="Liberation Serif" font-size="6.8" class="t2" textLength="6.4" lengthAdjust="spacingAndGlyphs">50</text>
<text x="364.18" y="261.60" text-anchor="middle" font-family="Liberation Serif" font-size="7.0" class="t2" textLength="3.0" lengthAdjust="spacingAndGlyphs">0</text>
<text x="364.68" y="252.81" text-anchor="middle" font-family="Liberation Serif" font-size="7.0" class="t2" textLength="3.0" lengthAdjust="spacingAndGlyphs">1</text>
<text x="365.18" y="243.92" text-anchor="middle" font-family="Liberation Serif" font-size="7.0" class="t2" textLength="3.0" lengthAdjust="spacingAndGlyphs">2</text>
<text x="365.69" y="234.91" text-anchor="middle" font-family="Liberation Serif" font-size="7.0" class="t2" textLength="3.0" lengthAdjust="spacingAndGlyphs">3</text>
<text x="366.21" y="225.80" text-anchor="middle" font-family="Liberation Serif" font-size="7.0" class="t2" textLength="3.0" lengthAdjust="spacingAndGlyphs">4</text>
<text x="366.74" y="216.57" text-anchor="middle" font-family="Liberation Serif" font-size="7.0" class="t2" textLength="3.0" lengthAdjust="spacingAndGlyphs">5</text>
<text x="367.27" y="207.22" text-anchor="middle" font-family="Liberation Serif" font-size="7.0" class="t2" textLength="3.0" lengthAdjust="spacingAndGlyphs">6</text>
<text x="367.80" y="197.76" text-anchor="middle" font-family="Liberation Serif" font-size="7.0" class="t2" textLength="3.0" lengthAdjust="spacingAndGlyphs">7</text>
<text x="368.35" y="188.18" text-anchor="middle" font-family="Liberation Serif" font-size="7.0" class="t2" textLength="3.0" lengthAdjust="spacingAndGlyphs">8</text>
<g transform="translate(225.20,303.10) rotate(13.8)"><text x="0" y="0" font-family="Liberation Serif" font-style="italic" font-size="9.6" class="b3">E</text><text x="7.4" y="1.6" font-family="Liberation Serif" font-style="italic" font-size="5.6" class="b2">ion</text><text x="15.6" y="0" font-family="Liberation Sans" font-style="italic" font-size="9.8" class="b3" textLength="21.6" lengthAdjust="spacingAndGlyphs">[keV]</text></g>
<g transform="translate(337.10,300.70) rotate(-39)"><text x="0" y="0" font-family="Liberation Serif" font-style="italic" font-size="9" class="t2">θ</text><text x="5.4" y="-0.4" font-family="Liberation Sans" font-size="9" class="t1">[</text><circle cx="11.4" cy="-5.2" r="1.05" fill="none" stroke="#222" stroke-width="0.6"/><text x="15.2" y="-0.4" font-family="Liberation Sans" font-size="9" class="t1">]</text></g>
<g transform="translate(379.60,220.40) rotate(-86.8)"><text x="0" y="0" text-anchor="middle" font-family="Liberation Sans" font-size="8.8" class="b3" textLength="89" lengthAdjust="spacingAndGlyphs">Number of vacancies</text></g>
<text x="196.90" y="175.80" font-family="Liberation Sans" font-weight="bold" font-size="9.4" class="b2" textLength="13.8" lengthAdjust="spacingAndGlyphs">(d)</text>
<text x="207.30" y="204.50" font-family="Liberation Sans" font-size="8.4" class="b2" textLength="7.5" lengthAdjust="spacingAndGlyphs">Ar</text>
<polyline points="259.50,237.50 265.90,237.90 270.90,238.50 277.30,239.10 286.10,237.90 290.00,237.60 298.40,240.90 306.70,244.30 315.10,247.70 323.40,250.20 335.00,253.50 348.00,257.00 355.00,258.60" fill="none" stroke="#fff" stroke-opacity="0.55" stroke-width="2.30" stroke-linejoin="round"/>
<polyline points="259.50,237.50 265.90,237.90 270.90,238.50 277.30,239.10 286.10,237.90 290.00,237.60 298.40,240.90 306.70,244.30 315.10,247.70 323.40,250.20 335.00,253.50 348.00,257.00 355.00,258.60" fill="none" stroke="#2c3cae" stroke-width="0.5" stroke-linejoin="round" stroke-dasharray="0.8,1.6"/>
<circle cx="259.94" cy="237.53" r="1.05" fill="#2c3cae"/>
<circle cx="262.65" cy="237.70" r="1.05" fill="#2c3cae"/>
<circle cx="265.37" cy="237.87" r="1.05" fill="#2c3cae"/>
<circle cx="268.09" cy="238.16" r="1.05" fill="#2c3cae"/>
<circle cx="270.83" cy="238.49" r="1.05" fill="#2c3cae"/>
<circle cx="273.57" cy="238.75" r="1.05" fill="#2c3cae"/>
<circle cx="276.31" cy="239.01" r="1.05" fill="#2c3cae"/>
<circle cx="279.07" cy="238.86" r="1.05" fill="#2c3cae"/>
<circle cx="281.83" cy="238.48" r="1.05" fill="#2c3cae"/>
<circle cx="284.61" cy="238.10" r="1.05" fill="#2c3cae"/>
<circle cx="287.39" cy="237.80" r="1.05" fill="#2c3cae"/>
<circle cx="290.18" cy="237.67" r="1.05" fill="#2c3cae"/>
<circle cx="292.96" cy="238.76" r="1.05" fill="#2c3cae"/>
<circle cx="295.75" cy="239.86" r="1.05" fill="#2c3cae"/>
<circle cx="298.54" cy="240.96" r="1.05" fill="#2c3cae"/>
<circle cx="301.33" cy="242.10" r="1.05" fill="#2c3cae"/>
<circle cx="304.13" cy="243.25" r="1.05" fill="#2c3cae"/>
<circle cx="306.93" cy="244.39" r="1.05" fill="#2c3cae"/>
<circle cx="309.73" cy="245.53" r="1.05" fill="#2c3cae"/>
<circle cx="312.54" cy="246.66" r="1.05" fill="#2c3cae"/>
<circle cx="315.35" cy="247.78" r="1.05" fill="#2c3cae"/>
<circle cx="318.18" cy="248.63" r="1.05" fill="#2c3cae"/>
<circle cx="321.01" cy="249.48" r="1.05" fill="#2c3cae"/>
<circle cx="323.85" cy="250.33" r="1.05" fill="#2c3cae"/>
<circle cx="326.69" cy="251.14" r="1.05" fill="#2c3cae"/>
<circle cx="329.54" cy="251.95" r="1.05" fill="#2c3cae"/>
<circle cx="332.39" cy="252.76" r="1.05" fill="#2c3cae"/>
<circle cx="335.25" cy="253.57" r="1.05" fill="#2c3cae"/>
<circle cx="338.12" cy="254.34" r="1.05" fill="#2c3cae"/>
<circle cx="340.99" cy="255.11" r="1.05" fill="#2c3cae"/>
<circle cx="343.87" cy="255.89" r="1.05" fill="#2c3cae"/>
<circle cx="346.75" cy="256.66" r="1.05" fill="#2c3cae"/>
<circle cx="349.64" cy="257.38" r="1.05" fill="#2c3cae"/>
<circle cx="352.54" cy="258.04" r="1.05" fill="#2c3cae"/>
<polyline points="262.00,238.50 268.00,238.50 272.80,236.60 274.70,230.90 276.60,225.30 278.50,218.90 279.80,213.90 281.70,207.60 282.90,204.40 285.10,191.70 287.60,181.70 290.90,174.20 292.60,180.00 294.30,186.70 296.80,195.10 298.40,200.80 300.90,205.00 304.20,212.50 305.90,218.40 310.10,225.10 313.40,230.90 317.60,236.00 320.90,239.30 325.10,244.30 331.80,248.50 340.20,251.80 342.59,254.03 345.01,255.44 347.46,256.43 349.92,257.22 352.39,257.89 354.87,258.51" fill="none" stroke="#fff" stroke-opacity="0.55" stroke-width="2.70" stroke-linejoin="round"/>
<polyline points="262.00,238.50 268.00,238.50 272.80,236.60 274.70,230.90 276.60,225.30 278.50,218.90 279.80,213.90 281.70,207.60 282.90,204.40 285.10,191.70 287.60,181.70 290.90,174.20 292.60,180.00 294.30,186.70 296.80,195.10 298.40,200.80 300.90,205.00 304.20,212.50 305.90,218.40 310.10,225.10 313.40,230.90 317.60,236.00 320.90,239.30 325.10,244.30 331.80,248.50 340.20,251.80 342.59,254.03 345.01,255.44 347.46,256.43 349.92,257.22 352.39,257.89 354.87,258.51" fill="none" stroke="#2c3cae" stroke-width="0.9" stroke-linejoin="round" stroke-dasharray="2.2,1.3"/>
<polygon points="261.68,237.86 263.63,237.86 262.66,239.48" fill="#2c3cae"/>
<polygon points="264.39,237.86 266.35,237.86 265.37,239.48" fill="#2c3cae"/>
<polygon points="267.12,237.82 269.07,237.82 268.10,239.44" fill="#2c3cae"/>
<polygon points="269.85,236.74 271.81,236.74 270.83,238.36" fill="#2c3cae"/>
<polygon points="272.60,233.64 274.55,233.64 273.58,235.25" fill="#2c3cae"/>
<polygon points="275.38,225.36 277.34,225.36 276.36,226.98" fill="#2c3cae"/>
<polygon points="278.22,215.59 280.17,215.59 279.20,217.20" fill="#2c3cae"/>
<polygon points="281.09,205.98 283.05,205.98 282.07,207.59" fill="#2c3cae"/>
<polygon points="284.05,191.45 286.01,191.45 285.03,193.07" fill="#2c3cae"/>
<polygon points="287.04,180.11 289.00,180.11 288.02,181.72" fill="#2c3cae"/>
<polygon points="290.01,173.88 291.97,173.88 290.99,175.49" fill="#2c3cae"/>
<polygon points="292.78,183.92 294.73,183.92 293.76,185.54" fill="#2c3cae"/>
<polygon points="295.52,193.46 297.48,193.46 296.50,195.07" fill="#2c3cae"/>
<polygon points="298.27,201.58 300.22,201.58 299.25,203.20" fill="#2c3cae"/>
<polygon points="301.05,206.92 303.00,206.92 302.02,208.53" fill="#2c3cae"/>
<polygon points="303.78,213.80 305.74,213.80 304.76,215.41" fill="#2c3cae"/>
<polygon points="306.51,220.29 308.46,220.29 307.48,221.90" fill="#2c3cae"/>
<polygon points="309.27,224.72 311.23,224.72 310.25,226.34" fill="#2c3cae"/>
<polygon points="312.01,229.55 313.97,229.55 312.99,231.16" fill="#2c3cae"/>
<polygon points="314.79,233.13 316.74,233.13 315.76,234.75" fill="#2c3cae"/>
<polygon points="317.57,236.31 319.52,236.31 318.54,237.92" fill="#2c3cae"/>
<polygon points="320.35,239.17 322.31,239.17 321.33,240.79" fill="#2c3cae"/>
<polygon points="323.12,242.47 325.08,242.47 324.10,244.08" fill="#2c3cae"/>
<polygon points="325.92,244.79 327.88,244.79 326.90,246.41" fill="#2c3cae"/>
<polygon points="328.74,246.56 330.70,246.56 329.72,248.17" fill="#2c3cae"/>
<polygon points="331.57,248.16 333.53,248.16 332.55,249.77" fill="#2c3cae"/>
<polygon points="334.43,249.28 336.38,249.28 335.41,250.89" fill="#2c3cae"/>
<polygon points="337.29,250.40 339.24,250.40 338.26,252.02" fill="#2c3cae"/>
<polygon points="340.13,252.01 342.08,252.01 341.10,253.62" fill="#2c3cae"/>
<polygon points="342.94,254.17 344.90,254.17 343.92,255.78" fill="#2c3cae"/>
<polygon points="345.80,255.52 347.75,255.52 346.78,257.13" fill="#2c3cae"/>
<polygon points="348.68,256.49 350.63,256.49 349.65,258.11" fill="#2c3cae"/>
<polygon points="351.57,257.29 353.53,257.29 352.55,258.91" fill="#2c3cae"/>
<polyline points="262.00,238.50 270.00,238.60 277.00,238.60 280.40,237.90 282.30,231.60 284.20,222.70 285.50,213.90 286.70,205.00 287.60,191.70 290.10,182.50 292.60,178.40 295.10,177.50 297.10,180.00 299.30,188.40 301.00,195.10 303.50,193.40 305.20,201.80 307.70,210.10 310.20,216.80 311.70,221.70 315.10,229.30 319.30,231.80 321.80,236.00 325.10,241.00 330.10,246.00 336.80,249.30 343.50,251.80 345.33,254.26 347.20,255.74 349.10,256.70 351.02,257.41 352.94,257.99 354.87,258.49" fill="none" stroke="#fff" stroke-opacity="0.55" stroke-width="2.70" stroke-linejoin="round"/>
<polyline points="262.00,238.50 270.00,238.60 277.00,238.60 280.40,237.90 282.30,231.60 284.20,222.70 285.50,213.90 286.70,205.00 287.60,191.70 290.10,182.50 292.60,178.40 295.10,177.50 297.10,180.00 299.30,188.40 301.00,195.10 303.50,193.40 305.20,201.80 307.70,210.10 310.20,216.80 311.70,221.70 315.10,229.30 319.30,231.80 321.80,236.00 325.10,241.00 330.10,246.00 336.80,249.30 343.50,251.80 345.33,254.26 347.20,255.74 349.10,256.70 351.02,257.41 352.94,257.99 354.87,258.49" fill="none" stroke="#2c3cae" stroke-width="0.9" stroke-linejoin="round"/>
<circle cx="262.66" cy="238.51" r="0.75" fill="#2c3cae"/>
<circle cx="265.37" cy="238.54" r="0.75" fill="#2c3cae"/>
<circle cx="268.10" cy="238.58" r="0.75" fill="#2c3cae"/>
<circle cx="270.83" cy="238.60" r="0.75" fill="#2c3cae"/>
<circle cx="273.57" cy="238.60" r="0.75" fill="#2c3cae"/>
<circle cx="276.31" cy="238.60" r="0.75" fill="#2c3cae"/>
<circle cx="279.07" cy="238.17" r="0.75" fill="#2c3cae"/>
<circle cx="281.87" cy="233.01" r="0.75" fill="#2c3cae"/>
<circle cx="284.79" cy="218.73" r="0.75" fill="#2c3cae"/>
<circle cx="287.91" cy="190.55" r="0.75" fill="#2c3cae"/>
<circle cx="290.91" cy="181.18" r="0.75" fill="#2c3cae"/>
<circle cx="293.85" cy="177.95" r="0.75" fill="#2c3cae"/>
<circle cx="296.74" cy="179.55" r="0.75" fill="#2c3cae"/>
<circle cx="299.48" cy="189.13" r="0.75" fill="#2c3cae"/>
<circle cx="302.29" cy="194.22" r="0.75" fill="#2c3cae"/>
<circle cx="305.05" cy="201.07" r="0.75" fill="#2c3cae"/>
<circle cx="307.74" cy="210.21" r="0.75" fill="#2c3cae"/>
<circle cx="310.45" cy="217.61" r="0.75" fill="#2c3cae"/>
<circle cx="313.14" cy="224.91" r="0.75" fill="#2c3cae"/>
<circle cx="315.88" cy="229.77" r="0.75" fill="#2c3cae"/>
<circle cx="318.71" cy="231.45" r="0.75" fill="#2c3cae"/>
<circle cx="321.47" cy="235.45" r="0.75" fill="#2c3cae"/>
<circle cx="324.22" cy="239.66" r="0.75" fill="#2c3cae"/>
<circle cx="326.99" cy="242.89" r="0.75" fill="#2c3cae"/>
<circle cx="329.78" cy="245.68" r="0.75" fill="#2c3cae"/>
<circle cx="332.61" cy="247.24" r="0.75" fill="#2c3cae"/>
<circle cx="335.46" cy="248.64" r="0.75" fill="#2c3cae"/>
<circle cx="338.32" cy="249.87" r="0.75" fill="#2c3cae"/>
<circle cx="341.18" cy="250.94" r="0.75" fill="#2c3cae"/>
<circle cx="344.03" cy="252.51" r="0.75" fill="#2c3cae"/>
<circle cx="346.81" cy="255.43" r="0.75" fill="#2c3cae"/>
<circle cx="349.67" cy="256.91" r="0.75" fill="#2c3cae"/>
<circle cx="352.55" cy="257.87" r="0.75" fill="#2c3cae"/>
<polyline points="249.50,245.00 256.00,246.00 266.00,247.70 276.10,248.50 286.10,250.20 296.10,252.70 306.20,255.20 320.00,257.70 333.00,261.00 344.00,264.50" fill="none" stroke="#fff" stroke-opacity="0.55" stroke-width="2.30" stroke-linejoin="round"/>
<polyline points="249.50,245.00 256.00,246.00 266.00,247.70 276.10,248.50 286.10,250.20 296.10,252.70 306.20,255.20 320.00,257.70 333.00,261.00 344.00,264.50" fill="none" stroke="#f02818" stroke-width="0.5" stroke-linejoin="round" stroke-dasharray="0.8,1.6"/>
<circle cx="251.70" cy="245.34" r="1.05" fill="#f02818"/>
<circle cx="254.44" cy="245.76" r="1.05" fill="#f02818"/>
<circle cx="257.20" cy="246.20" r="1.05" fill="#f02818"/>
<circle cx="259.96" cy="246.67" r="1.05" fill="#f02818"/>
<circle cx="262.72" cy="247.14" r="1.05" fill="#f02818"/>
<circle cx="265.49" cy="247.61" r="1.05" fill="#f02818"/>
<circle cx="268.27" cy="247.88" r="1.05" fill="#f02818"/>
<circle cx="271.05" cy="248.10" r="1.05" fill="#f02818"/>
<circle cx="273.84" cy="248.32" r="1.05" fill="#f02818"/>
<circle cx="276.64" cy="248.59" r="1.05" fill="#f02818"/>
<circle cx="279.45" cy="249.07" r="1.05" fill="#f02818"/>
<circle cx="282.26" cy="249.55" r="1.05" fill="#f02818"/>
<circle cx="285.08" cy="250.03" r="1.05" fill="#f02818"/>
<circle cx="287.90" cy="250.65" r="1.05" fill="#f02818"/>
<circle cx="290.73" cy="251.36" r="1.05" fill="#f02818"/>
<circle cx="293.56" cy="252.07" r="1.05" fill="#f02818"/>
<circle cx="296.40" cy="252.77" r="1.05" fill="#f02818"/>
<circle cx="299.25" cy="253.48" r="1.05" fill="#f02818"/>
<circle cx="302.10" cy="254.19" r="1.05" fill="#f02818"/>
<circle cx="304.96" cy="254.89" r="1.05" fill="#f02818"/>
<circle cx="307.82" cy="255.49" r="1.05" fill="#f02818"/>
<circle cx="310.70" cy="256.01" r="1.05" fill="#f02818"/>
<circle cx="313.58" cy="256.54" r="1.05" fill="#f02818"/>
<circle cx="316.47" cy="257.06" r="1.05" fill="#f02818"/>
<circle cx="319.36" cy="257.58" r="1.05" fill="#f02818"/>
<circle cx="322.26" cy="258.27" r="1.05" fill="#f02818"/>
<circle cx="325.16" cy="259.01" r="1.05" fill="#f02818"/>
<circle cx="328.06" cy="259.75" r="1.05" fill="#f02818"/>
<circle cx="330.97" cy="260.49" r="1.05" fill="#f02818"/>
<circle cx="333.89" cy="261.28" r="1.05" fill="#f02818"/>
<circle cx="336.80" cy="262.21" r="1.05" fill="#f02818"/>
<circle cx="339.73" cy="263.14" r="1.05" fill="#f02818"/>
<circle cx="342.65" cy="264.07" r="1.05" fill="#f02818"/>
<polyline points="250.00,246.00 258.00,244.00 262.00,238.00 264.60,231.60 267.20,224.00 269.70,217.70 272.20,212.60 274.10,206.30 275.40,200.00 276.70,188.40 278.50,190.00 280.50,196.00 282.30,207.60 284.80,215.20 288.00,222.70 291.10,230.30 294.90,236.60 298.00,241.00 302.00,245.00 308.00,248.50 316.00,251.50 320.74,255.80 325.53,258.55 330.36,260.49 335.22,262.04 340.10,263.37 345.01,264.61" fill="none" stroke="#fff" stroke-opacity="0.55" stroke-width="2.70" stroke-linejoin="round"/>
<polyline points="250.00,246.00 258.00,244.00 262.00,238.00 264.60,231.60 267.20,224.00 269.70,217.70 272.20,212.60 274.10,206.30 275.40,200.00 276.70,188.40 278.50,190.00 280.50,196.00 282.30,207.60 284.80,215.20 288.00,222.70 291.10,230.30 294.90,236.60 298.00,241.00 302.00,245.00 308.00,248.50 316.00,251.50 320.74,255.80 325.53,258.55 330.36,260.49 335.22,262.04 340.10,263.37 345.01,264.61" fill="none" stroke="#f02818" stroke-width="0.9" stroke-linejoin="round" stroke-dasharray="2.2,1.3"/>
<polygon points="250.73,244.94 252.68,244.94 251.70,246.55" fill="#f02818"/>
<polygon points="253.46,244.25 255.41,244.25 254.44,245.87" fill="#f02818"/>
<polygon points="256.20,243.57 258.16,243.57 257.18,245.18" fill="#f02818"/>
<polygon points="258.94,240.49 260.89,240.49 259.92,242.10" fill="#f02818"/>
<polygon points="261.69,235.72 263.64,235.72 262.67,237.34" fill="#f02818"/>
<polygon points="264.45,228.53 266.41,228.53 265.43,230.15" fill="#f02818"/>
<polygon points="267.25,220.76 269.21,220.76 268.23,222.38" fill="#f02818"/>
<polygon points="270.09,214.27 272.04,214.27 271.07,215.89" fill="#f02818"/>
<polygon points="272.96,206.20 274.92,206.20 273.94,207.82" fill="#f02818"/>
<polygon points="275.91,187.93 277.87,187.93 276.89,189.54" fill="#f02818"/>
<polygon points="278.80,193.19 280.75,193.19 279.78,194.80" fill="#f02818"/>
<polygon points="281.60,207.81 283.56,207.81 282.58,209.43" fill="#f02818"/>
<polygon points="284.42,215.97 286.38,215.97 285.40,217.58" fill="#f02818"/>
<polygon points="287.24,222.59 289.19,222.59 288.22,224.21" fill="#f02818"/>
<polygon points="290.04,229.45 291.99,229.45 291.01,231.06" fill="#f02818"/>
<polygon points="292.85,234.18 294.80,234.18 293.83,235.80" fill="#f02818"/>
<polygon points="295.66,238.43 297.61,238.43 296.64,240.04" fill="#f02818"/>
<polygon points="298.48,241.82 300.43,241.82 299.46,243.43" fill="#f02818"/>
<polygon points="301.31,244.53 303.26,244.53 302.29,246.15" fill="#f02818"/>
<polygon points="304.16,246.19 306.12,246.19 305.14,247.81" fill="#f02818"/>
<polygon points="307.02,247.86 308.97,247.86 307.99,249.47" fill="#f02818"/>
<polygon points="309.89,248.94 311.85,248.94 310.87,250.55" fill="#f02818"/>
<polygon points="312.77,250.02 314.72,250.02 313.75,251.63" fill="#f02818"/>
<polygon points="315.64,251.42 317.59,251.42 316.62,253.04" fill="#f02818"/>
<polygon points="318.48,254.00 320.43,254.00 319.46,255.61" fill="#f02818"/>
<polygon points="321.33,256.06 323.29,256.06 322.31,257.68" fill="#f02818"/>
<polygon points="324.20,257.71 326.16,257.71 325.18,259.32" fill="#f02818"/>
<polygon points="327.09,258.93 329.05,258.93 328.07,260.55" fill="#f02818"/>
<polygon points="329.99,260.05 331.94,260.05 330.97,261.66" fill="#f02818"/>
<polygon points="332.90,260.97 334.85,260.97 333.88,262.59" fill="#f02818"/>
<polygon points="335.82,261.83 337.77,261.83 336.79,263.45" fill="#f02818"/>
<polygon points="338.74,262.63 340.70,262.63 339.72,264.25" fill="#f02818"/>
<polygon points="341.68,263.38 343.63,263.38 342.65,264.99" fill="#f02818"/>
<polyline points="252.00,246.00 258.00,245.00 264.00,243.00 268.00,240.00 270.30,237.90 272.20,229.00 273.50,218.90 274.70,210.10 276.00,200.00 277.60,189.20 280.10,190.90 282.60,197.60 284.20,203.80 286.70,213.90 289.90,221.50 293.70,229.00 297.50,236.60 300.50,241.50 304.00,245.50 308.00,248.00 312.90,249.50 320.00,252.70 324.08,256.71 328.21,259.23 332.37,260.99 336.57,262.37 340.78,263.54 345.01,264.61" fill="none" stroke="#fff" stroke-opacity="0.55" stroke-width="2.70" stroke-linejoin="round"/>
<polyline points="252.00,246.00 258.00,245.00 264.00,243.00 268.00,240.00 270.30,237.90 272.20,229.00 273.50,218.90 274.70,210.10 276.00,200.00 277.60,189.20 280.10,190.90 282.60,197.60 284.20,203.80 286.70,213.90 289.90,221.50 293.70,229.00 297.50,236.60 300.50,241.50 304.00,245.50 308.00,248.00 312.90,249.50 320.00,252.70 324.08,256.71 328.21,259.23 332.37,260.99 336.57,262.37 340.78,263.54 345.01,264.61" fill="none" stroke="#f02818" stroke-width="0.9" stroke-linejoin="round"/>
<circle cx="254.44" cy="245.59" r="0.75" fill="#f02818"/>
<circle cx="257.19" cy="245.14" r="0.75" fill="#f02818"/>
<circle cx="259.94" cy="244.35" r="0.75" fill="#f02818"/>
<circle cx="262.70" cy="243.43" r="0.75" fill="#f02818"/>
<circle cx="265.47" cy="241.90" r="0.75" fill="#f02818"/>
<circle cx="268.26" cy="239.77" r="0.75" fill="#f02818"/>
<circle cx="271.06" cy="234.35" r="0.75" fill="#f02818"/>
<circle cx="273.92" cy="215.84" r="0.75" fill="#f02818"/>
<circle cx="276.87" cy="194.16" r="0.75" fill="#f02818"/>
<circle cx="279.79" cy="190.69" r="0.75" fill="#f02818"/>
<circle cx="282.66" cy="197.84" r="0.75" fill="#f02818"/>
<circle cx="285.47" cy="208.94" r="0.75" fill="#f02818"/>
<circle cx="288.28" cy="217.65" r="0.75" fill="#f02818"/>
<circle cx="291.10" cy="223.86" r="0.75" fill="#f02818"/>
<circle cx="293.91" cy="229.41" r="0.75" fill="#f02818"/>
<circle cx="296.71" cy="235.01" r="0.75" fill="#f02818"/>
<circle cx="299.51" cy="239.88" r="0.75" fill="#f02818"/>
<circle cx="302.32" cy="243.58" r="0.75" fill="#f02818"/>
<circle cx="305.15" cy="246.22" r="0.75" fill="#f02818"/>
<circle cx="308.01" cy="248.00" r="0.75" fill="#f02818"/>
<circle cx="310.89" cy="248.88" r="0.75" fill="#f02818"/>
<circle cx="313.77" cy="249.89" r="0.75" fill="#f02818"/>
<circle cx="316.64" cy="251.19" r="0.75" fill="#f02818"/>
<circle cx="319.52" cy="252.49" r="0.75" fill="#f02818"/>
<circle cx="322.37" cy="255.03" r="0.75" fill="#f02818"/>
<circle cx="325.21" cy="257.40" r="0.75" fill="#f02818"/>
<circle cx="328.08" cy="259.16" r="0.75" fill="#f02818"/>
<circle cx="330.98" cy="260.40" r="0.75" fill="#f02818"/>
<circle cx="333.88" cy="261.49" r="0.75" fill="#f02818"/>
<circle cx="336.79" cy="262.43" r="0.75" fill="#f02818"/>
<circle cx="339.72" cy="263.24" r="0.75" fill="#f02818"/>
<circle cx="342.65" cy="264.02" r="0.75" fill="#f02818"/>
<polyline points="239.50,253.50 245.00,252.50 256.00,252.70 266.00,255.20 276.10,257.70 286.10,261.10 296.10,263.60 306.20,266.10 320.00,267.80 333.00,271.00" fill="none" stroke="#fff" stroke-opacity="0.55" stroke-width="2.30" stroke-linejoin="round"/>
<polyline points="239.50,253.50 245.00,252.50 256.00,252.70 266.00,255.20 276.10,257.70 286.10,261.10 296.10,263.60 306.20,266.10 320.00,267.80 333.00,271.00" fill="none" stroke="#118833" stroke-width="0.5" stroke-linejoin="round" stroke-dasharray="0.8,1.6"/>
<circle cx="240.43" cy="253.33" r="1.05" fill="#118833"/>
<circle cx="243.19" cy="252.83" r="1.05" fill="#118833"/>
<circle cx="245.95" cy="252.52" r="1.05" fill="#118833"/>
<circle cx="248.74" cy="252.57" r="1.05" fill="#118833"/>
<circle cx="251.53" cy="252.62" r="1.05" fill="#118833"/>
<circle cx="254.33" cy="252.67" r="1.05" fill="#118833"/>
<circle cx="257.13" cy="252.98" r="1.05" fill="#118833"/>
<circle cx="259.95" cy="253.69" r="1.05" fill="#118833"/>
<circle cx="262.78" cy="254.39" r="1.05" fill="#118833"/>
<circle cx="265.61" cy="255.10" r="1.05" fill="#118833"/>
<circle cx="268.45" cy="255.81" r="1.05" fill="#118833"/>
<circle cx="271.29" cy="256.51" r="1.05" fill="#118833"/>
<circle cx="274.14" cy="257.21" r="1.05" fill="#118833"/>
<circle cx="276.99" cy="258.00" r="1.05" fill="#118833"/>
<circle cx="279.85" cy="258.97" r="1.05" fill="#118833"/>
<circle cx="282.71" cy="259.95" r="1.05" fill="#118833"/>
<circle cx="285.58" cy="260.92" r="1.05" fill="#118833"/>
<circle cx="288.46" cy="261.69" r="1.05" fill="#118833"/>
<circle cx="291.34" cy="262.41" r="1.05" fill="#118833"/>
<circle cx="294.23" cy="263.13" r="1.05" fill="#118833"/>
<circle cx="297.12" cy="263.85" r="1.05" fill="#118833"/>
<circle cx="300.02" cy="264.57" r="1.05" fill="#118833"/>
<circle cx="302.93" cy="265.29" r="1.05" fill="#118833"/>
<circle cx="305.84" cy="266.01" r="1.05" fill="#118833"/>
<circle cx="308.77" cy="266.42" r="1.05" fill="#118833"/>
<circle cx="311.71" cy="266.78" r="1.05" fill="#118833"/>
<circle cx="314.65" cy="267.14" r="1.05" fill="#118833"/>
<circle cx="317.60" cy="267.50" r="1.05" fill="#118833"/>
<circle cx="320.56" cy="267.94" r="1.05" fill="#118833"/>
<circle cx="323.51" cy="268.66" r="1.05" fill="#118833"/>
<circle cx="326.47" cy="269.39" r="1.05" fill="#118833"/>
<circle cx="329.44" cy="270.12" r="1.05" fill="#118833"/>
<circle cx="332.41" cy="270.85" r="1.05" fill="#118833"/>
<polyline points="240.00,253.00 248.00,245.00 252.00,238.00 256.40,231.60 258.90,227.80 261.50,223.40 264.00,218.90 266.50,216.40 268.50,219.00 270.30,225.30 272.50,231.00 274.50,236.50 277.00,241.00 281.00,245.00 286.00,249.00 292.00,252.50 300.00,256.00 310.00,259.50 314.06,263.45 318.16,265.94 322.29,267.69 326.44,269.05 330.61,270.23 334.80,271.30" fill="none" stroke="#fff" stroke-opacity="0.55" stroke-width="2.70" stroke-linejoin="round"/>
<polyline points="240.00,253.00 248.00,245.00 252.00,238.00 256.40,231.60 258.90,227.80 261.50,223.40 264.00,218.90 266.50,216.40 268.50,219.00 270.30,225.30 272.50,231.00 274.50,236.50 277.00,241.00 281.00,245.00 286.00,249.00 292.00,252.50 300.00,256.00 310.00,259.50 314.06,263.45 318.16,265.94 322.29,267.69 326.44,269.05 330.61,270.23 334.80,271.30" fill="none" stroke="#118833" stroke-width="0.9" stroke-linejoin="round" stroke-dasharray="2.2,1.3"/>
<polygon points="239.44,251.94 241.40,251.94 240.42,253.56" fill="#118833"/>
<polygon points="242.16,249.23 244.11,249.23 243.13,250.84" fill="#118833"/>
<polygon points="244.89,246.49 246.85,246.49 245.87,248.11" fill="#118833"/>
<polygon points="247.64,243.29 249.59,243.29 248.61,244.90" fill="#118833"/>
<polygon points="250.38,238.48 252.34,238.48 251.36,240.10" fill="#118833"/>
<polygon points="253.16,234.25 255.12,234.25 254.14,235.87" fill="#118833"/>
<polygon points="255.96,230.14 257.92,230.14 256.94,231.75" fill="#118833"/>
<polygon points="258.79,225.70 260.74,225.70 259.77,227.31" fill="#118833"/>
<polygon points="261.64,220.76 263.59,220.76 262.61,222.37" fill="#118833"/>
<polygon points="264.51,216.77 266.47,216.77 265.49,218.39" fill="#118833"/>
<polygon points="267.42,218.23 269.38,218.23 268.40,219.84" fill="#118833"/>
<polygon points="270.33,227.26 272.28,227.26 271.30,228.88" fill="#118833"/>
<polygon points="273.21,235.01 275.17,235.01 274.19,236.62" fill="#118833"/>
<polygon points="276.09,240.43 278.04,240.43 277.06,242.04" fill="#118833"/>
<polygon points="278.96,243.30 280.92,243.30 279.94,244.92" fill="#118833"/>
<polygon points="281.84,245.82 283.80,245.82 282.82,247.43" fill="#118833"/>
<polygon points="284.72,248.12 286.68,248.12 285.70,249.74" fill="#118833"/>
<polygon points="287.61,249.87 289.57,249.87 288.59,251.49" fill="#118833"/>
<polygon points="290.50,251.56 292.46,251.56 291.48,253.17" fill="#118833"/>
<polygon points="293.40,252.90 295.36,252.90 294.38,254.52" fill="#118833"/>
<polygon points="296.30,254.17 298.26,254.17 297.28,255.79" fill="#118833"/>
<polygon points="299.21,255.43 301.17,255.43 300.19,257.04" fill="#118833"/>
<polygon points="302.13,256.45 304.08,256.45 303.11,258.06" fill="#118833"/>
<polygon points="305.05,257.47 307.00,257.47 306.03,259.09" fill="#118833"/>
<polygon points="307.98,258.50 309.93,258.50 308.95,260.11" fill="#118833"/>
<polygon points="310.88,260.67 312.83,260.67 311.85,262.28" fill="#118833"/>
<polygon points="313.77,263.23 315.72,263.23 314.74,264.84" fill="#118833"/>
<polygon points="316.68,265.00 318.64,265.00 317.66,266.61" fill="#118833"/>
<polygon points="319.61,266.33 321.57,266.33 320.59,267.94" fill="#118833"/>
<polygon points="322.55,267.46 324.51,267.46 323.53,269.07" fill="#118833"/>
<polygon points="325.50,268.43 327.46,268.43 326.48,270.04" fill="#118833"/>
<polygon points="328.47,269.26 330.42,269.26 329.45,270.88" fill="#118833"/>
<polygon points="331.44,270.05 333.39,270.05 332.42,271.67" fill="#118833"/>
<polyline points="240.00,254.00 246.00,252.00 252.00,250.00 256.40,248.00 258.00,245.00 260.20,240.00 262.70,229.00 264.60,221.50 266.10,215.80 268.40,217.70 270.90,224.00 274.10,230.30 277.30,235.40 279.80,239.10 283.20,243.50 286.50,246.80 290.70,250.20 297.80,254.40 306.20,259.40 320.00,263.60 322.41,266.30 324.86,267.96 327.33,269.09 329.81,269.96 332.30,270.68 334.80,271.33" fill="none" stroke="#fff" stroke-opacity="0.55" stroke-width="2.70" stroke-linejoin="round"/>
<polyline points="240.00,254.00 246.00,252.00 252.00,250.00 256.40,248.00 258.00,245.00 260.20,240.00 262.70,229.00 264.60,221.50 266.10,215.80 268.40,217.70 270.90,224.00 274.10,230.30 277.30,235.40 279.80,239.10 283.20,243.50 286.50,246.80 290.70,250.20 297.80,254.40 306.20,259.40 320.00,263.60 322.41,266.30 324.86,267.96 327.33,269.09 329.81,269.96 332.30,270.68 334.80,271.33" fill="none" stroke="#118833" stroke-width="0.9" stroke-linejoin="round"/>
<circle cx="240.44" cy="253.85" r="0.75" fill="#118833"/>
<circle cx="243.19" cy="252.94" r="0.75" fill="#118833"/>
<circle cx="245.95" cy="252.02" r="0.75" fill="#118833"/>
<circle cx="248.72" cy="251.09" r="0.75" fill="#118833"/>
<circle cx="251.50" cy="250.17" r="0.75" fill="#118833"/>
<circle cx="254.29" cy="248.96" r="0.75" fill="#118833"/>
<circle cx="257.08" cy="246.72" r="0.75" fill="#118833"/>
<circle cx="259.87" cy="240.76" r="0.75" fill="#118833"/>
<circle cx="262.65" cy="229.21" r="0.75" fill="#118833"/>
<circle cx="265.49" cy="218.11" r="0.75" fill="#118833"/>
<circle cx="268.40" cy="217.70" r="0.75" fill="#118833"/>
<circle cx="271.31" cy="224.80" r="0.75" fill="#118833"/>
<circle cx="274.20" cy="230.46" r="0.75" fill="#118833"/>
<circle cx="277.09" cy="235.06" r="0.75" fill="#118833"/>
<circle cx="279.97" cy="239.32" r="0.75" fill="#118833"/>
<circle cx="282.85" cy="243.05" r="0.75" fill="#118833"/>
<circle cx="285.73" cy="246.03" r="0.75" fill="#118833"/>
<circle cx="288.61" cy="248.51" r="0.75" fill="#118833"/>
<circle cx="291.50" cy="250.67" r="0.75" fill="#118833"/>
<circle cx="294.40" cy="252.39" r="0.75" fill="#118833"/>
<circle cx="297.29" cy="254.10" r="0.75" fill="#118833"/>
<circle cx="300.19" cy="255.82" r="0.75" fill="#118833"/>
<circle cx="303.10" cy="257.55" r="0.75" fill="#118833"/>
<circle cx="306.00" cy="259.28" r="0.75" fill="#118833"/>
<circle cx="308.93" cy="260.23" r="0.75" fill="#118833"/>
<circle cx="311.86" cy="261.12" r="0.75" fill="#118833"/>
<circle cx="314.80" cy="262.02" r="0.75" fill="#118833"/>
<circle cx="317.74" cy="262.91" r="0.75" fill="#118833"/>
<circle cx="320.68" cy="264.36" r="0.75" fill="#118833"/>
<circle cx="323.57" cy="267.08" r="0.75" fill="#118833"/>
<circle cx="326.50" cy="268.71" r="0.75" fill="#118833"/>
<circle cx="329.45" cy="269.83" r="0.75" fill="#118833"/>
<circle cx="332.42" cy="270.71" r="0.75" fill="#118833"/>
<polyline points="229.50,259.00 236.80,261.00 246.80,262.60 256.00,263.50 266.00,266.10 276.10,268.60 286.10,271.10 296.10,273.60 306.20,276.10 320.00,278.60 323.00,279.50" fill="none" stroke="#fff" stroke-opacity="0.55" stroke-width="2.30" stroke-linejoin="round"/>
<polyline points="229.50,259.00 236.80,261.00 246.80,262.60 256.00,263.50 266.00,266.10 276.10,268.60 286.10,271.10 296.10,273.60 306.20,276.10 320.00,278.60 323.00,279.50" fill="none" stroke="#10b4be" stroke-width="0.5" stroke-linejoin="round" stroke-dasharray="0.8,1.6"/>
<circle cx="231.57" cy="259.57" r="1.05" fill="#10b4be"/>
<circle cx="234.39" cy="260.34" r="1.05" fill="#10b4be"/>
<circle cx="237.21" cy="261.07" r="1.05" fill="#10b4be"/>
<circle cx="240.03" cy="261.52" r="1.05" fill="#10b4be"/>
<circle cx="242.86" cy="261.97" r="1.05" fill="#10b4be"/>
<circle cx="245.69" cy="262.42" r="1.05" fill="#10b4be"/>
<circle cx="248.54" cy="262.77" r="1.05" fill="#10b4be"/>
<circle cx="251.38" cy="263.05" r="1.05" fill="#10b4be"/>
<circle cx="254.24" cy="263.33" r="1.05" fill="#10b4be"/>
<circle cx="257.10" cy="263.79" r="1.05" fill="#10b4be"/>
<circle cx="259.98" cy="264.53" r="1.05" fill="#10b4be"/>
<circle cx="262.86" cy="265.28" r="1.05" fill="#10b4be"/>
<circle cx="265.74" cy="266.03" r="1.05" fill="#10b4be"/>
<circle cx="268.63" cy="266.75" r="1.05" fill="#10b4be"/>
<circle cx="271.53" cy="267.47" r="1.05" fill="#10b4be"/>
<circle cx="274.43" cy="268.19" r="1.05" fill="#10b4be"/>
<circle cx="277.35" cy="268.91" r="1.05" fill="#10b4be"/>
<circle cx="280.26" cy="269.64" r="1.05" fill="#10b4be"/>
<circle cx="283.18" cy="270.37" r="1.05" fill="#10b4be"/>
<circle cx="286.11" cy="271.10" r="1.05" fill="#10b4be"/>
<circle cx="289.05" cy="271.84" r="1.05" fill="#10b4be"/>
<circle cx="291.99" cy="272.57" r="1.05" fill="#10b4be"/>
<circle cx="294.94" cy="273.31" r="1.05" fill="#10b4be"/>
<circle cx="297.89" cy="274.04" r="1.05" fill="#10b4be"/>
<circle cx="300.85" cy="274.78" r="1.05" fill="#10b4be"/>
<circle cx="303.82" cy="275.51" r="1.05" fill="#10b4be"/>
<circle cx="306.79" cy="276.21" r="1.05" fill="#10b4be"/>
<circle cx="309.78" cy="276.75" r="1.05" fill="#10b4be"/>
<circle cx="312.77" cy="277.29" r="1.05" fill="#10b4be"/>
<circle cx="315.77" cy="277.83" r="1.05" fill="#10b4be"/>
<circle cx="318.78" cy="278.38" r="1.05" fill="#10b4be"/>
<circle cx="321.79" cy="279.14" r="1.05" fill="#10b4be"/>
<polyline points="230.00,261.00 233.00,257.00 236.00,253.00 240.10,246.70 245.20,241.70 250.20,238.40 255.20,235.90 257.00,235.00 259.00,236.50 262.30,241.80 266.00,247.00 270.00,251.00 275.00,256.00 282.00,261.00 292.00,266.50 302.00,270.50 305.65,273.33 309.33,275.21 313.02,276.60 316.74,277.74 320.46,278.76 324.20,279.71" fill="none" stroke="#fff" stroke-opacity="0.55" stroke-width="2.70" stroke-linejoin="round"/>
<polyline points="230.00,261.00 233.00,257.00 236.00,253.00 240.10,246.70 245.20,241.70 250.20,238.40 255.20,235.90 257.00,235.00 259.00,236.50 262.30,241.80 266.00,247.00 270.00,251.00 275.00,256.00 282.00,261.00 292.00,266.50 302.00,270.50 305.65,273.33 309.33,275.21 313.02,276.60 316.74,277.74 320.46,278.76 324.20,279.71" fill="none" stroke="#10b4be" stroke-width="0.9" stroke-linejoin="round" stroke-dasharray="2.2,1.3"/>
<polygon points="230.58,258.29 232.53,258.29 231.55,259.91" fill="#10b4be"/>
<polygon points="233.29,254.67 235.25,254.67 234.27,256.29" fill="#10b4be"/>
<polygon points="236.02,250.83 237.98,250.83 237.00,252.44" fill="#10b4be"/>
<polygon points="238.77,246.61 240.72,246.61 239.74,248.22" fill="#10b4be"/>
<polygon points="241.56,243.67 243.52,243.67 242.54,245.29" fill="#10b4be"/>
<polygon points="244.38,240.96 246.33,240.96 245.36,242.58" fill="#10b4be"/>
<polygon points="247.23,239.08 249.18,239.08 248.20,240.70" fill="#10b4be"/>
<polygon points="250.09,237.33 252.05,237.33 251.07,238.94" fill="#10b4be"/>
<polygon points="252.98,235.89 254.93,235.89 253.95,237.50" fill="#10b4be"/>
<polygon points="255.87,234.44 257.83,234.44 256.85,236.05" fill="#10b4be"/>
<polygon points="258.81,237.13 260.77,237.13 259.79,238.75" fill="#10b4be"/>
<polygon points="261.76,241.78 263.72,241.78 262.74,243.40" fill="#10b4be"/>
<polygon points="264.70,245.91 266.66,245.91 265.68,247.53" fill="#10b4be"/>
<polygon points="267.64,248.98 269.59,248.98 268.61,250.59" fill="#10b4be"/>
<polygon points="270.56,251.90 272.52,251.90 271.54,253.52" fill="#10b4be"/>
<polygon points="273.49,254.83 275.45,254.83 274.47,256.45" fill="#10b4be"/>
<polygon points="276.42,257.07 278.37,257.07 277.40,258.69" fill="#10b4be"/>
<polygon points="279.35,259.17 281.30,259.17 280.33,260.78" fill="#10b4be"/>
<polygon points="282.28,261.05 284.24,261.05 283.26,262.67" fill="#10b4be"/>
<polygon points="285.22,262.67 287.17,262.67 286.19,264.28" fill="#10b4be"/>
<polygon points="288.16,264.29 290.11,264.29 289.13,265.90" fill="#10b4be"/>
<polygon points="291.10,265.89 293.05,265.89 292.08,267.51" fill="#10b4be"/>
<polygon points="294.05,267.07 296.01,267.07 295.03,268.69" fill="#10b4be"/>
<polygon points="297.01,268.26 298.96,268.26 297.99,269.87" fill="#10b4be"/>
<polygon points="299.97,269.44 301.93,269.44 300.95,271.06" fill="#10b4be"/>
<polygon points="302.92,271.34 304.88,271.34 303.90,272.95" fill="#10b4be"/>
<polygon points="305.87,273.31 307.83,273.31 306.85,274.92" fill="#10b4be"/>
<polygon points="308.84,274.76 310.79,274.76 309.82,276.37" fill="#10b4be"/>
<polygon points="311.82,275.88 313.77,275.88 312.79,277.49" fill="#10b4be"/>
<polygon points="314.81,276.81 316.76,276.81 315.78,278.43" fill="#10b4be"/>
<polygon points="317.80,277.66 319.76,277.66 318.78,279.28" fill="#10b4be"/>
<polygon points="320.81,278.46 322.77,278.46 321.79,280.07" fill="#10b4be"/>
<polyline points="230.00,262.00 235.00,261.00 238.00,260.00 241.80,257.60 245.00,252.00 248.00,247.00 251.00,243.00 254.00,240.00 257.00,238.00 260.00,239.00 263.00,242.00 266.00,245.00 269.50,248.00 272.70,251.10 277.70,257.70 284.40,262.80 294.50,268.60 305.00,273.00 315.00,276.50 316.52,277.40 318.05,278.04 319.58,278.54 321.12,278.98 322.65,279.38 324.20,279.76" fill="none" stroke="#fff" stroke-opacity="0.55" stroke-width="2.70" stroke-linejoin="round"/>
<polyline points="230.00,262.00 235.00,261.00 238.00,260.00 241.80,257.60 245.00,252.00 248.00,247.00 251.00,243.00 254.00,240.00 257.00,238.00 260.00,239.00 263.00,242.00 266.00,245.00 269.50,248.00 272.70,251.10 277.70,257.70 284.40,262.80 294.50,268.60 305.00,273.00 315.00,276.50 316.52,277.40 318.05,278.04 319.58,278.54 321.12,278.98 322.65,279.38 324.20,279.76" fill="none" stroke="#10b4be" stroke-width="0.9" stroke-linejoin="round"/>
<circle cx="231.62" cy="261.68" r="0.75" fill="#10b4be"/>
<circle cx="234.41" cy="261.12" r="0.75" fill="#10b4be"/>
<circle cx="237.19" cy="260.27" r="0.75" fill="#10b4be"/>
<circle cx="239.97" cy="258.75" r="0.75" fill="#10b4be"/>
<circle cx="242.75" cy="255.94" r="0.75" fill="#10b4be"/>
<circle cx="245.51" cy="251.15" r="0.75" fill="#10b4be"/>
<circle cx="248.30" cy="246.60" r="0.75" fill="#10b4be"/>
<circle cx="251.13" cy="242.87" r="0.75" fill="#10b4be"/>
<circle cx="253.99" cy="240.01" r="0.75" fill="#10b4be"/>
<circle cx="256.88" cy="238.08" r="0.75" fill="#10b4be"/>
<circle cx="259.80" cy="238.93" r="0.75" fill="#10b4be"/>
<circle cx="262.74" cy="241.74" r="0.75" fill="#10b4be"/>
<circle cx="265.68" cy="244.68" r="0.75" fill="#10b4be"/>
<circle cx="268.61" cy="247.24" r="0.75" fill="#10b4be"/>
<circle cx="271.54" cy="249.98" r="0.75" fill="#10b4be"/>
<circle cx="274.47" cy="253.44" r="0.75" fill="#10b4be"/>
<circle cx="277.40" cy="257.30" r="0.75" fill="#10b4be"/>
<circle cx="280.33" cy="259.70" r="0.75" fill="#10b4be"/>
<circle cx="283.26" cy="261.93" r="0.75" fill="#10b4be"/>
<circle cx="286.19" cy="263.83" r="0.75" fill="#10b4be"/>
<circle cx="289.13" cy="265.51" r="0.75" fill="#10b4be"/>
<circle cx="292.07" cy="267.20" r="0.75" fill="#10b4be"/>
<circle cx="295.01" cy="268.81" r="0.75" fill="#10b4be"/>
<circle cx="297.96" cy="270.05" r="0.75" fill="#10b4be"/>
<circle cx="300.92" cy="271.29" r="0.75" fill="#10b4be"/>
<circle cx="303.89" cy="272.53" r="0.75" fill="#10b4be"/>
<circle cx="306.86" cy="273.65" r="0.75" fill="#10b4be"/>
<circle cx="309.83" cy="274.69" r="0.75" fill="#10b4be"/>
<circle cx="312.82" cy="275.74" r="0.75" fill="#10b4be"/>
<circle cx="315.80" cy="276.97" r="0.75" fill="#10b4be"/>
<circle cx="318.78" cy="278.28" r="0.75" fill="#10b4be"/>
<circle cx="321.79" cy="279.15" r="0.75" fill="#10b4be"/>
<polyline points="216.00,267.20 223.60,268.60 231.20,269.50 238.70,269.90 246.00,270.80 252.00,272.20 258.50,274.30 266.00,275.50 276.10,278.60 289.40,282.80 306.20,286.20 313.00,288.00" fill="none" stroke="#fff" stroke-opacity="0.55" stroke-width="2.30" stroke-linejoin="round"/>
<polyline points="216.00,267.20 223.60,268.60 231.20,269.50 238.70,269.90 246.00,270.80 252.00,272.20 258.50,274.30 266.00,275.50 276.10,278.60 289.40,282.80 306.20,286.20 313.00,288.00" fill="none" stroke="#000000" stroke-width="0.5" stroke-linejoin="round" stroke-dasharray="0.8,1.6"/>
<circle cx="216.80" cy="267.35" r="1.05" fill="#000000"/>
<circle cx="219.63" cy="267.87" r="1.05" fill="#000000"/>
<circle cx="222.47" cy="268.39" r="1.05" fill="#000000"/>
<circle cx="225.31" cy="268.80" r="1.05" fill="#000000"/>
<circle cx="228.16" cy="269.14" r="1.05" fill="#000000"/>
<circle cx="231.01" cy="269.48" r="1.05" fill="#000000"/>
<circle cx="233.87" cy="269.64" r="1.05" fill="#000000"/>
<circle cx="236.73" cy="269.80" r="1.05" fill="#000000"/>
<circle cx="239.61" cy="270.01" r="1.05" fill="#000000"/>
<circle cx="242.50" cy="270.37" r="1.05" fill="#000000"/>
<circle cx="245.39" cy="270.72" r="1.05" fill="#000000"/>
<circle cx="248.30" cy="271.34" r="1.05" fill="#000000"/>
<circle cx="251.21" cy="272.02" r="1.05" fill="#000000"/>
<circle cx="254.13" cy="272.89" r="1.05" fill="#000000"/>
<circle cx="257.06" cy="273.83" r="1.05" fill="#000000"/>
<circle cx="259.99" cy="274.54" r="1.05" fill="#000000"/>
<circle cx="262.93" cy="275.01" r="1.05" fill="#000000"/>
<circle cx="265.87" cy="275.48" r="1.05" fill="#000000"/>
<circle cx="268.83" cy="276.37" r="1.05" fill="#000000"/>
<circle cx="271.79" cy="277.28" r="1.05" fill="#000000"/>
<circle cx="274.75" cy="278.19" r="1.05" fill="#000000"/>
<circle cx="277.72" cy="279.11" r="1.05" fill="#000000"/>
<circle cx="280.70" cy="280.05" r="1.05" fill="#000000"/>
<circle cx="283.68" cy="280.99" r="1.05" fill="#000000"/>
<circle cx="286.67" cy="281.94" r="1.05" fill="#000000"/>
<circle cx="289.66" cy="282.85" r="1.05" fill="#000000"/>
<circle cx="292.66" cy="283.46" r="1.05" fill="#000000"/>
<circle cx="295.68" cy="284.07" r="1.05" fill="#000000"/>
<circle cx="298.69" cy="284.68" r="1.05" fill="#000000"/>
<circle cx="301.72" cy="285.29" r="1.05" fill="#000000"/>
<circle cx="304.75" cy="285.91" r="1.05" fill="#000000"/>
<circle cx="307.79" cy="286.62" r="1.05" fill="#000000"/>
<circle cx="310.83" cy="287.43" r="1.05" fill="#000000"/>
<polyline points="216.00,265.00 220.00,262.50 225.50,259.10 228.00,256.50 231.20,254.70 235.10,251.80 240.10,248.40 243.50,245.90 246.50,244.50 249.00,245.00 252.00,248.00 256.00,253.00 260.00,257.50 266.00,263.00 274.00,269.50 284.00,275.00 296.00,280.00 298.85,282.59 301.71,284.26 304.59,285.45 307.48,286.40 310.37,287.23 313.28,287.99" fill="none" stroke="#fff" stroke-opacity="0.55" stroke-width="2.70" stroke-linejoin="round"/>
<polyline points="216.00,265.00 220.00,262.50 225.50,259.10 228.00,256.50 231.20,254.70 235.10,251.80 240.10,248.40 243.50,245.90 246.50,244.50 249.00,245.00 252.00,248.00 256.00,253.00 260.00,257.50 266.00,263.00 274.00,269.50 284.00,275.00 296.00,280.00 298.85,282.59 301.71,284.26 304.59,285.45 307.48,286.40 310.37,287.23 313.28,287.99" fill="none" stroke="#000000" stroke-width="0.9" stroke-linejoin="round" stroke-dasharray="2.2,1.3"/>
<polygon points="215.72,263.93 217.67,263.93 216.70,265.54" fill="#000000"/>
<polygon points="218.48,262.20 220.44,262.20 219.46,263.82" fill="#000000"/>
<polygon points="221.26,260.48 223.21,260.48 222.24,262.10" fill="#000000"/>
<polygon points="224.05,258.75 226.00,258.75 225.03,260.37" fill="#000000"/>
<polygon points="226.83,256.06 228.78,256.06 227.81,257.68" fill="#000000"/>
<polygon points="229.66,254.38 231.61,254.38 230.63,256.00" fill="#000000"/>
<polygon points="232.49,252.38 234.44,252.38 233.47,253.99" fill="#000000"/>
<polygon points="235.34,250.34 237.29,250.34 236.31,251.95" fill="#000000"/>
<polygon points="238.20,248.39 240.16,248.39 239.18,250.00" fill="#000000"/>
<polygon points="241.09,246.32 243.04,246.32 242.06,247.93" fill="#000000"/>
<polygon points="243.99,244.58 245.94,244.58 244.97,246.19" fill="#000000"/>
<polygon points="246.93,244.14 248.88,244.14 247.91,245.76" fill="#000000"/>
<polygon points="249.91,246.25 251.87,246.25 250.89,247.87" fill="#000000"/>
<polygon points="252.91,249.72 254.87,249.72 253.89,251.34" fill="#000000"/>
<polygon points="255.91,253.36 257.86,253.36 256.88,254.97" fill="#000000"/>
<polygon points="258.89,256.72 260.85,256.72 259.87,258.33" fill="#000000"/>
<polygon points="261.88,259.48 263.83,259.48 262.85,261.09" fill="#000000"/>
<polygon points="264.86,262.21 266.81,262.21 265.84,263.83" fill="#000000"/>
<polygon points="267.84,264.65 269.79,264.65 268.81,266.26" fill="#000000"/>
<polygon points="270.82,267.07 272.77,267.07 271.79,268.69" fill="#000000"/>
<polygon points="273.80,269.29 275.75,269.29 274.77,270.90" fill="#000000"/>
<polygon points="276.78,270.93 278.73,270.93 277.76,272.54" fill="#000000"/>
<polygon points="279.77,272.57 281.72,272.57 280.74,274.19" fill="#000000"/>
<polygon points="282.75,274.22 284.71,274.22 283.73,275.83" fill="#000000"/>
<polygon points="285.75,275.50 287.71,275.50 286.73,277.11" fill="#000000"/>
<polygon points="288.75,276.75 290.71,276.75 289.73,278.36" fill="#000000"/>
<polygon points="291.76,278.00 293.71,278.00 292.74,279.62" fill="#000000"/>
<polygon points="294.77,279.26 296.72,279.26 295.75,280.87" fill="#000000"/>
<polygon points="297.76,281.86 299.71,281.86 298.74,283.47" fill="#000000"/>
<polygon points="300.76,283.64 302.72,283.64 301.74,285.25" fill="#000000"/>
<polygon points="303.78,284.87 305.74,284.87 304.76,286.49" fill="#000000"/>
<polygon points="306.82,285.86 308.77,285.86 307.79,287.47" fill="#000000"/>
<polygon points="309.86,286.72 311.81,286.72 310.84,288.33" fill="#000000"/>
<polyline points="216.00,267.50 222.00,268.50 227.00,269.50 229.90,269.90 233.00,265.00 236.00,259.00 239.40,252.20 243.10,249.70 247.60,247.20 250.70,249.70 253.90,252.80 257.70,255.40 261.90,258.40 264.40,261.10 272.70,269.40 281.10,276.10 292.00,280.00 305.00,283.50 306.36,285.08 307.73,286.06 309.11,286.72 310.49,287.22 311.88,287.64 313.27,288.02" fill="none" stroke="#fff" stroke-opacity="0.55" stroke-width="2.70" stroke-linejoin="round"/>
<polyline points="216.00,267.50 222.00,268.50 227.00,269.50 229.90,269.90 233.00,265.00 236.00,259.00 239.40,252.20 243.10,249.70 247.60,247.20 250.70,249.70 253.90,252.80 257.70,255.40 261.90,258.40 264.40,261.10 272.70,269.40 281.10,276.10 292.00,280.00 305.00,283.50 306.36,285.08 307.73,286.06 309.11,286.72 310.49,287.22 311.88,287.64 313.27,288.02" fill="none" stroke="#000000" stroke-width="0.9" stroke-linejoin="round"/>
<circle cx="216.81" cy="267.63" r="0.75" fill="#000000"/>
<circle cx="219.64" cy="268.11" r="0.75" fill="#000000"/>
<circle cx="222.47" cy="268.59" r="0.75" fill="#000000"/>
<circle cx="225.32" cy="269.16" r="0.75" fill="#000000"/>
<circle cx="228.17" cy="269.66" r="0.75" fill="#000000"/>
<circle cx="230.98" cy="268.20" r="0.75" fill="#000000"/>
<circle cx="233.72" cy="263.56" r="0.75" fill="#000000"/>
<circle cx="236.47" cy="258.06" r="0.75" fill="#000000"/>
<circle cx="239.25" cy="252.50" r="0.75" fill="#000000"/>
<circle cx="242.13" cy="250.36" r="0.75" fill="#000000"/>
<circle cx="245.02" cy="248.63" r="0.75" fill="#000000"/>
<circle cx="247.95" cy="247.48" r="0.75" fill="#000000"/>
<circle cx="250.93" cy="249.92" r="0.75" fill="#000000"/>
<circle cx="253.91" cy="252.81" r="0.75" fill="#000000"/>
<circle cx="256.89" cy="254.85" r="0.75" fill="#000000"/>
<circle cx="259.87" cy="256.95" r="0.75" fill="#000000"/>
<circle cx="262.85" cy="259.43" r="0.75" fill="#000000"/>
<circle cx="265.83" cy="262.53" r="0.75" fill="#000000"/>
<circle cx="268.82" cy="265.52" r="0.75" fill="#000000"/>
<circle cx="271.79" cy="268.49" r="0.75" fill="#000000"/>
<circle cx="274.77" cy="271.05" r="0.75" fill="#000000"/>
<circle cx="277.75" cy="273.43" r="0.75" fill="#000000"/>
<circle cx="280.73" cy="275.80" r="0.75" fill="#000000"/>
<circle cx="283.71" cy="277.03" r="0.75" fill="#000000"/>
<circle cx="286.71" cy="278.11" r="0.75" fill="#000000"/>
<circle cx="289.71" cy="279.18" r="0.75" fill="#000000"/>
<circle cx="292.71" cy="280.19" r="0.75" fill="#000000"/>
<circle cx="295.73" cy="281.00" r="0.75" fill="#000000"/>
<circle cx="298.75" cy="281.82" r="0.75" fill="#000000"/>
<circle cx="301.78" cy="282.63" r="0.75" fill="#000000"/>
<circle cx="304.81" cy="283.45" r="0.75" fill="#000000"/>
<circle cx="307.80" cy="286.09" r="0.75" fill="#000000"/>
<circle cx="310.84" cy="287.32" r="0.75" fill="#000000"/>
<polyline points="204.30,274.30 210.60,276.20 216.90,277.50 223.30,278.70 229.60,279.70 235.90,280.60 242.20,281.60 250.00,283.50 260.00,286.50 272.00,290.00 285.00,294.00 296.00,297.50 302.00,299.50" fill="none" stroke="#fff" stroke-opacity="0.55" stroke-width="2.30" stroke-linejoin="round"/>
<polyline points="204.30,274.30 210.60,276.20 216.90,277.50 223.30,278.70 229.60,279.70 235.90,280.60 242.20,281.60 250.00,283.50 260.00,286.50 272.00,290.00 285.00,294.00 296.00,297.50 302.00,299.50" fill="none" stroke="#a820a8" stroke-width="0.5" stroke-linejoin="round" stroke-dasharray="0.8,1.6"/>
<circle cx="204.39" cy="274.33" r="1.05" fill="#a820a8"/>
<circle cx="207.27" cy="275.20" r="1.05" fill="#a820a8"/>
<circle cx="210.15" cy="276.06" r="1.05" fill="#a820a8"/>
<circle cx="213.03" cy="276.70" r="1.05" fill="#a820a8"/>
<circle cx="215.91" cy="277.30" r="1.05" fill="#a820a8"/>
<circle cx="218.80" cy="277.86" r="1.05" fill="#a820a8"/>
<circle cx="221.70" cy="278.40" r="1.05" fill="#a820a8"/>
<circle cx="224.60" cy="278.91" r="1.05" fill="#a820a8"/>
<circle cx="227.51" cy="279.37" r="1.05" fill="#a820a8"/>
<circle cx="230.43" cy="279.82" r="1.05" fill="#a820a8"/>
<circle cx="233.35" cy="280.24" r="1.05" fill="#a820a8"/>
<circle cx="236.28" cy="280.66" r="1.05" fill="#a820a8"/>
<circle cx="239.22" cy="281.13" r="1.05" fill="#a820a8"/>
<circle cx="242.16" cy="281.59" r="1.05" fill="#a820a8"/>
<circle cx="245.12" cy="282.31" r="1.05" fill="#a820a8"/>
<circle cx="248.09" cy="283.03" r="1.05" fill="#a820a8"/>
<circle cx="251.06" cy="283.82" r="1.05" fill="#a820a8"/>
<circle cx="254.04" cy="284.71" r="1.05" fill="#a820a8"/>
<circle cx="257.03" cy="285.61" r="1.05" fill="#a820a8"/>
<circle cx="260.02" cy="286.51" r="1.05" fill="#a820a8"/>
<circle cx="263.02" cy="287.38" r="1.05" fill="#a820a8"/>
<circle cx="266.02" cy="288.26" r="1.05" fill="#a820a8"/>
<circle cx="269.03" cy="289.13" r="1.05" fill="#a820a8"/>
<circle cx="272.05" cy="290.01" r="1.05" fill="#a820a8"/>
<circle cx="275.07" cy="290.94" r="1.05" fill="#a820a8"/>
<circle cx="278.10" cy="291.88" r="1.05" fill="#a820a8"/>
<circle cx="281.14" cy="292.81" r="1.05" fill="#a820a8"/>
<circle cx="284.18" cy="293.75" r="1.05" fill="#a820a8"/>
<circle cx="287.22" cy="294.71" r="1.05" fill="#a820a8"/>
<circle cx="290.28" cy="295.68" r="1.05" fill="#a820a8"/>
<circle cx="293.34" cy="296.65" r="1.05" fill="#a820a8"/>
<circle cx="296.40" cy="297.63" r="1.05" fill="#a820a8"/>
<circle cx="299.47" cy="298.66" r="1.05" fill="#a820a8"/>
<polyline points="205.00,275.00 209.00,273.00 211.50,270.50 213.20,268.60 216.30,264.20 218.60,262.40 221.70,261.20 225.00,263.50 228.00,261.00 230.90,257.60 233.40,255.30 236.00,258.40 239.30,262.60 243.00,266.00 248.00,270.00 254.00,274.50 262.00,279.50 274.00,285.00 290.00,291.00 291.96,294.19 293.94,296.06 295.93,297.26 297.93,298.12 299.93,298.80 301.94,299.38" fill="none" stroke="#fff" stroke-opacity="0.55" stroke-width="2.70" stroke-linejoin="round"/>
<polyline points="205.00,275.00 209.00,273.00 211.50,270.50 213.20,268.60 216.30,264.20 218.60,262.40 221.70,261.20 225.00,263.50 228.00,261.00 230.90,257.60 233.40,255.30 236.00,258.40 239.30,262.60 243.00,266.00 248.00,270.00 254.00,274.50 262.00,279.50 274.00,285.00 290.00,291.00 291.96,294.19 293.94,296.06 295.93,297.26 297.93,298.12 299.93,298.80 301.94,299.38" fill="none" stroke="#a820a8" stroke-width="0.9" stroke-linejoin="round" stroke-dasharray="2.2,1.3"/>
<polygon points="206.24,273.26 208.19,273.26 207.21,274.87" fill="#a820a8"/>
<polygon points="209.01,271.37 210.97,271.37 209.99,272.99" fill="#a820a8"/>
<polygon points="211.76,268.48 213.72,268.48 212.74,270.09" fill="#a820a8"/>
<polygon points="214.50,264.72 216.46,264.72 215.48,266.34" fill="#a820a8"/>
<polygon points="217.30,262.01 219.26,262.01 218.28,263.63" fill="#a820a8"/>
<polygon points="220.17,260.78 222.13,260.78 221.15,262.39" fill="#a820a8"/>
<polygon points="223.14,262.25 225.09,262.25 224.11,263.86" fill="#a820a8"/>
<polygon points="226.03,261.19 227.99,261.19 227.01,262.80" fill="#a820a8"/>
<polygon points="228.89,258.17 230.84,258.17 229.87,259.79" fill="#a820a8"/>
<polygon points="231.77,255.26 233.73,255.26 232.75,256.88" fill="#a820a8"/>
<polygon points="234.79,257.48 236.74,257.48 235.77,259.10" fill="#a820a8"/>
<polygon points="237.84,261.35 239.80,261.35 238.82,262.97" fill="#a820a8"/>
<polygon points="240.87,264.31 242.83,264.31 241.85,265.92" fill="#a820a8"/>
<polygon points="243.89,266.86 245.85,266.86 244.87,268.48" fill="#a820a8"/>
<polygon points="246.91,269.28 248.87,269.28 247.89,270.89" fill="#a820a8"/>
<polygon points="249.93,271.54 251.89,271.54 250.91,273.16" fill="#a820a8"/>
<polygon points="252.95,273.81 254.90,273.81 253.93,275.42" fill="#a820a8"/>
<polygon points="255.96,275.70 257.92,275.70 256.94,277.32" fill="#a820a8"/>
<polygon points="258.98,277.59 260.94,277.59 259.96,279.20" fill="#a820a8"/>
<polygon points="262.00,279.31 263.96,279.31 262.98,280.93" fill="#a820a8"/>
<polygon points="265.02,280.70 266.98,280.70 266.00,282.31" fill="#a820a8"/>
<polygon points="268.05,282.08 270.00,282.08 269.02,283.70" fill="#a820a8"/>
<polygon points="271.08,283.47 273.03,283.47 272.05,285.09" fill="#a820a8"/>
<polygon points="274.11,284.77 276.07,284.77 275.09,286.39" fill="#a820a8"/>
<polygon points="277.15,285.91 279.10,285.91 278.13,287.53" fill="#a820a8"/>
<polygon points="280.19,287.05 282.15,287.05 281.17,288.67" fill="#a820a8"/>
<polygon points="283.24,288.20 285.20,288.20 284.22,289.81" fill="#a820a8"/>
<polygon points="286.30,289.34 288.26,289.34 287.28,290.96" fill="#a820a8"/>
<polygon points="289.36,290.90 291.31,290.90 290.33,292.52" fill="#a820a8"/>
<polygon points="292.38,294.87 294.33,294.87 293.35,296.49" fill="#a820a8"/>
<polygon points="295.43,296.83 297.38,296.83 296.41,298.44" fill="#a820a8"/>
<polygon points="298.50,298.00 300.45,298.00 299.47,299.62" fill="#a820a8"/>
<polyline points="205.00,275.50 210.00,276.00 214.00,276.30 216.90,275.60 218.80,273.00 221.40,268.60 224.00,266.00 227.00,264.80 230.80,261.70 234.00,256.50 237.00,255.30 240.00,257.00 243.50,259.30 248.50,263.50 253.50,268.50 258.50,273.50 263.00,277.50 270.00,282.50 280.00,287.00 292.00,292.00 293.63,294.86 295.28,296.53 296.93,297.58 298.60,298.32 300.26,298.90 301.94,299.39" fill="none" stroke="#fff" stroke-opacity="0.55" stroke-width="2.70" stroke-linejoin="round"/>
<polyline points="205.00,275.50 210.00,276.00 214.00,276.30 216.90,275.60 218.80,273.00 221.40,268.60 224.00,266.00 227.00,264.80 230.80,261.70 234.00,256.50 237.00,255.30 240.00,257.00 243.50,259.30 248.50,263.50 253.50,268.50 258.50,273.50 263.00,277.50 270.00,282.50 280.00,287.00 292.00,292.00 293.63,294.86 295.28,296.53 296.93,297.58 298.60,298.32 300.26,298.90 301.94,299.39" fill="none" stroke="#a820a8" stroke-width="0.9" stroke-linejoin="round"/>
<circle cx="207.29" cy="275.73" r="0.75" fill="#a820a8"/>
<circle cx="210.15" cy="276.01" r="0.75" fill="#a820a8"/>
<circle cx="213.01" cy="276.23" r="0.75" fill="#a820a8"/>
<circle cx="215.86" cy="275.85" r="0.75" fill="#a820a8"/>
<circle cx="218.65" cy="273.21" r="0.75" fill="#a820a8"/>
<circle cx="221.38" cy="268.63" r="0.75" fill="#a820a8"/>
<circle cx="224.21" cy="265.92" r="0.75" fill="#a820a8"/>
<circle cx="227.09" cy="264.72" r="0.75" fill="#a820a8"/>
<circle cx="229.96" cy="262.38" r="0.75" fill="#a820a8"/>
<circle cx="232.81" cy="258.43" r="0.75" fill="#a820a8"/>
<circle cx="235.71" cy="255.81" r="0.75" fill="#a820a8"/>
<circle cx="238.70" cy="256.26" r="0.75" fill="#a820a8"/>
<circle cx="241.72" cy="258.13" r="0.75" fill="#a820a8"/>
<circle cx="244.75" cy="260.35" r="0.75" fill="#a820a8"/>
<circle cx="247.79" cy="262.90" r="0.75" fill="#a820a8"/>
<circle cx="250.83" cy="265.83" r="0.75" fill="#a820a8"/>
<circle cx="253.87" cy="268.87" r="0.75" fill="#a820a8"/>
<circle cx="256.90" cy="271.90" r="0.75" fill="#a820a8"/>
<circle cx="259.94" cy="274.78" r="0.75" fill="#a820a8"/>
<circle cx="262.97" cy="277.47" r="0.75" fill="#a820a8"/>
<circle cx="265.99" cy="279.64" r="0.75" fill="#a820a8"/>
<circle cx="269.02" cy="281.80" r="0.75" fill="#a820a8"/>
<circle cx="272.05" cy="283.42" r="0.75" fill="#a820a8"/>
<circle cx="275.09" cy="284.79" r="0.75" fill="#a820a8"/>
<circle cx="278.13" cy="286.16" r="0.75" fill="#a820a8"/>
<circle cx="281.17" cy="287.49" r="0.75" fill="#a820a8"/>
<circle cx="284.22" cy="288.76" r="0.75" fill="#a820a8"/>
<circle cx="287.28" cy="290.03" r="0.75" fill="#a820a8"/>
<circle cx="290.34" cy="291.31" r="0.75" fill="#a820a8"/>
<circle cx="293.37" cy="294.41" r="0.75" fill="#a820a8"/>
<circle cx="296.41" cy="297.24" r="0.75" fill="#a820a8"/>
<circle cx="299.47" cy="298.62" r="0.75" fill="#a820a8"/>
<line x1="112.70" y1="6.00" x2="124.40" y2="6.00" stroke="#555" stroke-width="0.9" />
<circle cx="113.2" cy="6.0" r="0.8" fill="#555"/><circle cx="123.9" cy="6.0" r="0.8" fill="#555"/>
<text x="130.4" y="8.3" font-family="Liberation Sans" font-size="7.0" class="b2" textLength="56.3" lengthAdjust="spacingAndGlyphs">Sputtered atoms</text>
<line x1="146.10" y1="154.90" x2="156.70" y2="154.90" stroke="#555" stroke-width="0.9" />
<circle cx="146.6" cy="154.9" r="0.75" fill="#555"/><circle cx="156.2" cy="154.9" r="0.75" fill="#555"/>
<line x1="146.10" y1="164.00" x2="156.70" y2="164.00" stroke="#555" stroke-width="0.9" stroke-dasharray="2.4,1.6"/>
<circle cx="146.6" cy="164.0" r="0.7" fill="#555"/><circle cx="156.2" cy="164.0" r="0.7" fill="#555"/>
<line x1="146.10" y1="174.80" x2="156.70" y2="174.80" stroke="#555" stroke-width="0.7" stroke-dasharray="0.8,1.6"/>
<circle cx="147.1" cy="174.8" r="1.1" fill="#555"/><circle cx="156.2" cy="174.8" r="1.1" fill="#555"/>
<text x="163.6" y="156.6" font-family="Liberation Sans" font-size="6.6" class="b2">V</text>
<text x="168.2" y="158.1" font-family="Liberation Serif" font-style="italic" font-size="4.4" class="t0">X</text>
<text x="173.1" y="156.79999999999998" font-family="Liberation Sans" font-size="6.8" class="b2" textLength="8.6" lengthAdjust="spacingAndGlyphs">(u)</text>
<text x="163.6" y="166.8" font-family="Liberation Sans" font-size="6.6" class="b2">V</text>
<text x="168.2" y="168.3" font-family="Liberation Serif" font-style="italic" font-size="4.4" class="t0">X</text>
<text x="173.1" y="167.0" font-family="Liberation Sans" font-size="6.8" class="b2" textLength="7.1" lengthAdjust="spacingAndGlyphs">(l)</text>
<text x="163.6" y="176.8" font-family="Liberation Sans" font-size="6.6" class="b2">V</text>
<text x="168.3" y="178.3" font-family="Liberation Serif" font-style="italic" font-size="4.6" class="t0" textLength="6.6" lengthAdjust="spacingAndGlyphs">Mo</text>
</svg>
</body></html>
